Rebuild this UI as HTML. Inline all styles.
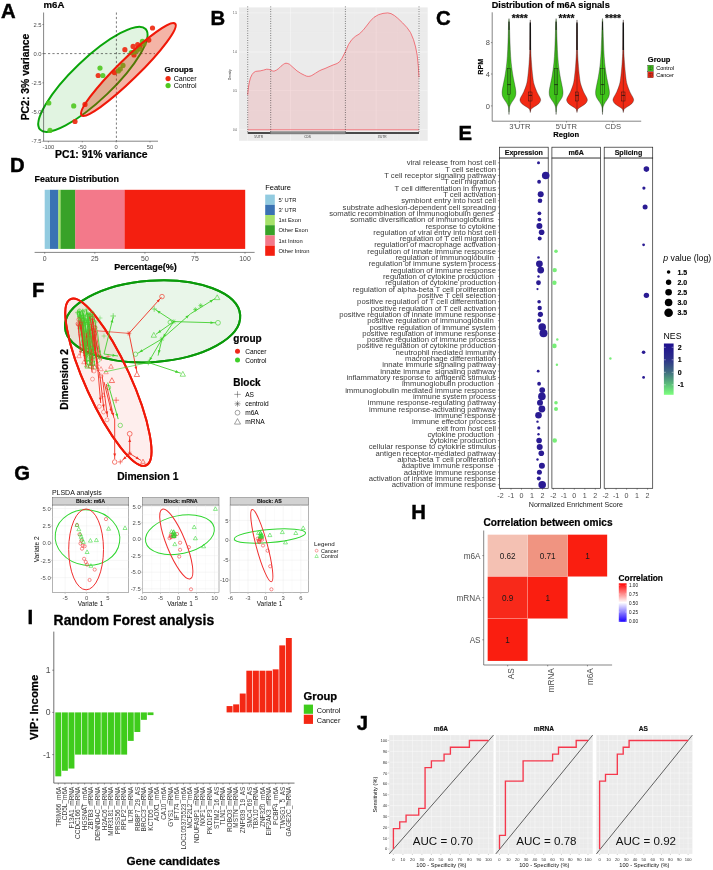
<!DOCTYPE html>
<html><head><meta charset="utf-8"><title>figure</title>
<style>html,body{margin:0;padding:0;background:#fff;}svg{display:block;font-family:"Liberation Sans", sans-serif;}text{font-family:"Liberation Sans", sans-serif;}</style>
</head><body>
<svg width="713" height="870" viewBox="0 0 713 870">
<defs><filter id="idf" x="0" y="0" width="713" height="870" filterUnits="userSpaceOnUse" color-interpolation-filters="sRGB"><feOffset dx="0" dy="0"/></filter></defs>
<rect width="713" height="870" fill="#fff"/>
<g filter="url(#idf)">
<text x="1.00" y="17.80" font-size="20.3" font-weight="bold" stroke="#000" stroke-width="0.45" fill="#000" text-anchor="start">A</text>
<text x="43.60" y="8.00" font-size="9.6" font-weight="bold" stroke="#000" stroke-width="0.21" fill="#000" text-anchor="start">m6A</text>
<ellipse cx="92.90" cy="79.30" rx="72.90" ry="20.50" transform="rotate(-43.7 92.90 79.30)" fill="#0aa50a" stroke="#0aa50a" stroke-width="2.0" fill-opacity="0.12"/>
<line x1="116.40" y1="12.50" x2="116.40" y2="141.20" stroke="#222" stroke-width="0.6" stroke-dasharray="2.2 2.2"/>
<line x1="43.60" y1="53.60" x2="155.00" y2="53.60" stroke="#222" stroke-width="0.6" stroke-dasharray="2.2 2.2"/>
<line x1="43.60" y1="12.50" x2="43.60" y2="141.20" stroke="#333" stroke-width="0.6"/>
<line x1="43.60" y1="141.20" x2="158.00" y2="141.20" stroke="#333" stroke-width="0.6"/>
<text x="41.50" y="26.58" font-size="5.8" fill="#4d4d4d" text-anchor="end">2.5</text>
<line x1="42.40" y1="24.50" x2="43.60" y2="24.50" stroke="#333" stroke-width="0.5"/>
<text x="41.50" y="55.68" font-size="5.8" fill="#4d4d4d" text-anchor="end">0.0</text>
<line x1="42.40" y1="53.60" x2="43.60" y2="53.60" stroke="#333" stroke-width="0.5"/>
<text x="41.50" y="84.88" font-size="5.8" fill="#4d4d4d" text-anchor="end">-2.5</text>
<line x1="42.40" y1="82.80" x2="43.60" y2="82.80" stroke="#333" stroke-width="0.5"/>
<text x="41.50" y="114.38" font-size="5.8" fill="#4d4d4d" text-anchor="end">-5.0</text>
<line x1="42.40" y1="112.30" x2="43.60" y2="112.30" stroke="#333" stroke-width="0.5"/>
<text x="41.50" y="143.48" font-size="5.8" fill="#4d4d4d" text-anchor="end">-7.5</text>
<line x1="42.40" y1="141.40" x2="43.60" y2="141.40" stroke="#333" stroke-width="0.5"/>
<text x="48.40" y="148.58" font-size="5.8" fill="#4d4d4d" text-anchor="middle">-100</text>
<line x1="48.40" y1="141.20" x2="48.40" y2="142.40" stroke="#333" stroke-width="0.5"/>
<text x="82.30" y="148.58" font-size="5.8" fill="#4d4d4d" text-anchor="middle">-50</text>
<line x1="82.30" y1="141.20" x2="82.30" y2="142.40" stroke="#333" stroke-width="0.5"/>
<text x="116.20" y="148.58" font-size="5.8" fill="#4d4d4d" text-anchor="middle">0</text>
<line x1="116.20" y1="141.20" x2="116.20" y2="142.40" stroke="#333" stroke-width="0.5"/>
<text x="150.00" y="148.58" font-size="5.8" fill="#4d4d4d" text-anchor="middle">50</text>
<line x1="150.00" y1="141.20" x2="150.00" y2="142.40" stroke="#333" stroke-width="0.5"/>
<circle cx="152.50" cy="28.00" r="2.60" fill="#ee2a12" stroke="none" stroke-width="0.5" fill-opacity="0.92"/>
<circle cx="148.80" cy="40.10" r="2.60" fill="#ee2a12" stroke="none" stroke-width="0.5" fill-opacity="0.92"/>
<circle cx="137.70" cy="44.70" r="2.60" fill="#ee2a12" stroke="none" stroke-width="0.5" fill-opacity="0.92"/>
<circle cx="133.10" cy="46.40" r="2.60" fill="#ee2a12" stroke="none" stroke-width="0.5" fill-opacity="0.92"/>
<circle cx="124.90" cy="49.70" r="2.60" fill="#ee2a12" stroke="none" stroke-width="0.5" fill-opacity="0.92"/>
<circle cx="134.00" cy="54.90" r="2.60" fill="#ee2a12" stroke="none" stroke-width="0.5" fill-opacity="0.92"/>
<circle cx="114.40" cy="72.60" r="2.60" fill="#ee2a12" stroke="none" stroke-width="0.5" fill-opacity="0.92"/>
<circle cx="98.20" cy="75.50" r="2.60" fill="#ee2a12" stroke="none" stroke-width="0.5" fill-opacity="0.92"/>
<circle cx="85.00" cy="104.40" r="2.60" fill="#ee2a12" stroke="none" stroke-width="0.5" fill-opacity="0.92"/>
<circle cx="75.00" cy="121.50" r="2.60" fill="#ee2a12" stroke="none" stroke-width="0.5" fill-opacity="0.92"/>
<circle cx="140.00" cy="46.50" r="2.60" fill="#ee2a12" stroke="none" stroke-width="0.5" fill-opacity="0.92"/>
<circle cx="142.40" cy="41.40" r="2.60" fill="#4fc820" stroke="none" stroke-width="0.5" fill-opacity="0.9"/>
<circle cx="144.00" cy="44.00" r="2.60" fill="#4fc820" stroke="none" stroke-width="0.5" fill-opacity="0.9"/>
<circle cx="139.60" cy="48.80" r="2.60" fill="#4fc820" stroke="none" stroke-width="0.5" fill-opacity="0.9"/>
<circle cx="136.80" cy="50.60" r="2.60" fill="#4fc820" stroke="none" stroke-width="0.5" fill-opacity="0.9"/>
<circle cx="131.30" cy="52.50" r="2.60" fill="#4fc820" stroke="none" stroke-width="0.5" fill-opacity="0.9"/>
<circle cx="123.00" cy="65.40" r="2.60" fill="#4fc820" stroke="none" stroke-width="0.5" fill-opacity="0.9"/>
<circle cx="120.30" cy="69.00" r="2.60" fill="#4fc820" stroke="none" stroke-width="0.5" fill-opacity="0.9"/>
<circle cx="118.40" cy="70.90" r="2.60" fill="#4fc820" stroke="none" stroke-width="0.5" fill-opacity="0.9"/>
<circle cx="100.00" cy="68.10" r="2.60" fill="#4fc820" stroke="none" stroke-width="0.5" fill-opacity="0.9"/>
<circle cx="102.80" cy="75.50" r="2.60" fill="#4fc820" stroke="none" stroke-width="0.5" fill-opacity="0.9"/>
<circle cx="48.80" cy="103.00" r="2.60" fill="#4fc820" stroke="none" stroke-width="0.5" fill-opacity="0.9"/>
<circle cx="73.70" cy="105.90" r="2.60" fill="#4fc820" stroke="none" stroke-width="0.5" fill-opacity="0.9"/>
<circle cx="50.00" cy="130.40" r="2.60" fill="#4fc820" stroke="none" stroke-width="0.5" fill-opacity="0.9"/>
<circle cx="134.50" cy="52.00" r="2.60" fill="#4fc820" stroke="none" stroke-width="0.5" fill-opacity="0.9"/>
<ellipse cx="128.40" cy="69.50" rx="65.50" ry="10.30" transform="rotate(-44.4 128.40 69.50)" fill="#e02800" stroke="none" stroke-width="0" fill-opacity="0.35"/>
<ellipse cx="128.40" cy="69.50" rx="65.50" ry="10.30" transform="rotate(-44.4 128.40 69.50)" fill="none" stroke="#f01808" stroke-width="2.1"/>
<g transform="translate(24.80 77.00) rotate(-90)">
<text x="0.00" y="3.72" font-size="10.4" font-weight="bold" stroke="#000" stroke-width="0.23" fill="#000" text-anchor="middle">PC2: 3% variance</text>
</g>
<text x="101.30" y="158.32" font-size="10.4" font-weight="bold" stroke="#000" stroke-width="0.23" fill="#000" text-anchor="middle">PC1: 91% variance</text>
<text x="164.50" y="71.90" font-size="8.1" font-weight="bold" stroke="#000" stroke-width="0.18" fill="#000" text-anchor="start">Groups</text>
<circle cx="168.10" cy="78.60" r="2.60" fill="#ee2a12" stroke="none" stroke-width="0.5"/>
<circle cx="168.10" cy="85.60" r="2.60" fill="#4fc820" stroke="none" stroke-width="0.5"/>
<text x="173.70" y="81.24" font-size="7.1" fill="#000" text-anchor="start">Cancer</text>
<text x="173.70" y="88.24" font-size="7.1" fill="#000" text-anchor="start">Control</text>
<text x="210.50" y="25.40" font-size="20.3" font-weight="bold" stroke="#000" stroke-width="0.45" fill="#000" text-anchor="start">B</text>
<rect x="239.00" y="7.40" width="188.70" height="133.40" fill="#ebebeb" stroke="none" stroke-width="0.5"/>
<line x1="239.00" y1="12.90" x2="427.70" y2="12.90" stroke="#f8f8f8" stroke-width="0.5"/>
<line x1="239.00" y1="52.00" x2="427.70" y2="52.00" stroke="#f8f8f8" stroke-width="0.5"/>
<line x1="239.00" y1="90.70" x2="427.70" y2="90.70" stroke="#f8f8f8" stroke-width="0.5"/>
<line x1="239.00" y1="129.60" x2="427.70" y2="129.60" stroke="#f8f8f8" stroke-width="0.5"/>
<line x1="239.00" y1="32.40" x2="427.70" y2="32.40" stroke="#f3f3f3" stroke-width="0.3"/>
<line x1="239.00" y1="71.30" x2="427.70" y2="71.30" stroke="#f3f3f3" stroke-width="0.3"/>
<line x1="239.00" y1="110.10" x2="427.70" y2="110.10" stroke="#f3f3f3" stroke-width="0.3"/>
<line x1="247.70" y1="7.40" x2="247.70" y2="140.80" stroke="#f8f8f8" stroke-width="0.5"/>
<line x1="290.52" y1="7.40" x2="290.52" y2="140.80" stroke="#f8f8f8" stroke-width="0.5"/>
<line x1="333.35" y1="7.40" x2="333.35" y2="140.80" stroke="#f8f8f8" stroke-width="0.5"/>
<line x1="376.18" y1="7.40" x2="376.18" y2="140.80" stroke="#f8f8f8" stroke-width="0.5"/>
<line x1="419.00" y1="7.40" x2="419.00" y2="140.80" stroke="#f8f8f8" stroke-width="0.5"/>
<line x1="269.11" y1="7.40" x2="269.11" y2="140.80" stroke="#f3f3f3" stroke-width="0.3"/>
<line x1="311.94" y1="7.40" x2="311.94" y2="140.80" stroke="#f3f3f3" stroke-width="0.3"/>
<line x1="354.76" y1="7.40" x2="354.76" y2="140.80" stroke="#f3f3f3" stroke-width="0.3"/>
<line x1="397.59" y1="7.40" x2="397.59" y2="140.80" stroke="#f3f3f3" stroke-width="0.3"/>
<path d="M247.7,94.8 L248.3,88.0 L249.2,82.9 L250.4,78.0 L252.0,74.6 L253.6,72.6 L255.6,71.4 L258.0,71.1 L260.2,70.9 L263.5,70.1 L266.7,69.2 L268.8,69.4 L270.7,70.0 L272.5,70.9 L274.0,71.2 L276.3,70.2 L278.7,68.5 L281.0,66.2 L283.3,64.4 L284.8,63.5 L286.0,63.2 L287.8,63.5 L289.7,64.4 L293.0,67.4 L297.0,70.9 L300.8,73.4 L304.4,75.2 L306.4,76.1 L308.1,76.4 L310.0,76.2 L311.8,75.5 L315.5,73.2 L319.2,70.9 L322.0,69.6 L325.0,68.5 L329.0,66.7 L333.0,65.0 L337.1,63.5 L339.5,61.8 L342.0,58.3 L345.4,51.6 L348.5,44.5 L351.8,39.6 L355.3,36.4 L359.2,34.0 L363.0,30.4 L366.5,26.0 L370.2,21.2 L374.0,17.3 L378.5,14.7 L383.0,13.4 L387.7,12.9 L391.0,13.6 L394.5,15.6 L397.9,18.4 L402.5,22.8 L407.0,27.6 L410.5,32.5 L413.5,39.6 L415.6,47.0 L417.2,55.2 L418.3,66.0 L419.0,77.3 L419,129.8 L247.7,129.8 Z" fill="#f0404a" fill-opacity="0.14" stroke="none"/>
<path d="M247.7,94.8 L248.3,88.0 L249.2,82.9 L250.4,78.0 L252.0,74.6 L253.6,72.6 L255.6,71.4 L258.0,71.1 L260.2,70.9 L263.5,70.1 L266.7,69.2 L268.8,69.4 L270.7,70.0 L272.5,70.9 L274.0,71.2 L276.3,70.2 L278.7,68.5 L281.0,66.2 L283.3,64.4 L284.8,63.5 L286.0,63.2 L287.8,63.5 L289.7,64.4 L293.0,67.4 L297.0,70.9 L300.8,73.4 L304.4,75.2 L306.4,76.1 L308.1,76.4 L310.0,76.2 L311.8,75.5 L315.5,73.2 L319.2,70.9 L322.0,69.6 L325.0,68.5 L329.0,66.7 L333.0,65.0 L337.1,63.5 L339.5,61.8 L342.0,58.3 L345.4,51.6 L348.5,44.5 L351.8,39.6 L355.3,36.4 L359.2,34.0 L363.0,30.4 L366.5,26.0 L370.2,21.2 L374.0,17.3 L378.5,14.7 L383.0,13.4 L387.7,12.9 L391.0,13.6 L394.5,15.6 L397.9,18.4 L402.5,22.8 L407.0,27.6 L410.5,32.5 L413.5,39.6 L415.6,47.0 L417.2,55.2 L418.3,66.0 L419.0,77.3" fill="none" stroke="#f0505a" stroke-width="0.75" stroke-linejoin="round"/>
<line x1="247.70" y1="129.80" x2="419.00" y2="129.80" stroke="#f0505a" stroke-width="0.75"/>
<line x1="247.70" y1="6.50" x2="247.70" y2="133.00" stroke="#222" stroke-width="0.7" stroke-dasharray="0.8 1.6"/>
<line x1="270.70" y1="6.50" x2="270.70" y2="133.00" stroke="#222" stroke-width="0.7" stroke-dasharray="0.8 1.6"/>
<line x1="345.40" y1="6.50" x2="345.40" y2="133.00" stroke="#222" stroke-width="0.7" stroke-dasharray="0.8 1.6"/>
<line x1="419.00" y1="6.50" x2="419.00" y2="133.00" stroke="#222" stroke-width="0.7" stroke-dasharray="0.8 1.6"/>
<rect x="247.70" y="132.20" width="23.00" height="1.60" fill="#222" stroke="none" stroke-width="0.5"/>
<rect x="270.70" y="131.60" width="74.70" height="2.40" fill="#8a8a8a" stroke="#555" stroke-width="0.3"/>
<rect x="345.40" y="132.20" width="73.60" height="1.60" fill="#222" stroke="none" stroke-width="0.5"/>
<text x="258.60" y="138.15" font-size="3.2" fill="#333" text-anchor="middle">5'UTR</text>
<text x="307.50" y="138.15" font-size="3.2" fill="#333" text-anchor="middle">CDS</text>
<text x="382.20" y="138.15" font-size="3.2" fill="#333" text-anchor="middle">3'UTR</text>
<text x="237.00" y="13.90" font-size="2.8" fill="#444" text-anchor="end">1.5</text>
<text x="237.00" y="53.00" font-size="2.8" fill="#444" text-anchor="end">1.0</text>
<text x="237.00" y="91.70" font-size="2.8" fill="#444" text-anchor="end">0.5</text>
<text x="237.00" y="130.60" font-size="2.8" fill="#444" text-anchor="end">0.0</text>
<g transform="translate(230.00 74.60) rotate(-90)">
<text x="0.00" y="1.15" font-size="3.2" fill="#222" text-anchor="middle">Density</text>
</g>
<text x="436.00" y="25.10" font-size="20.3" font-weight="bold" stroke="#000" stroke-width="0.45" fill="#000" text-anchor="start">C</text>
<text x="491.80" y="7.90" font-size="9.1" font-weight="bold" stroke="#000" stroke-width="0.20" fill="#000" text-anchor="start">Distribution of m6A signals</text>
<line x1="492.20" y1="12.30" x2="492.20" y2="121.20" stroke="#333" stroke-width="0.6"/>
<line x1="492.20" y1="121.20" x2="641.20" y2="121.20" stroke="#333" stroke-width="0.6"/>
<text x="489.80" y="45.29" font-size="7.5" fill="#4d4d4d" text-anchor="end">8</text>
<line x1="490.90" y1="42.60" x2="492.20" y2="42.60" stroke="#333" stroke-width="0.5"/>
<text x="489.80" y="76.69" font-size="7.5" fill="#4d4d4d" text-anchor="end">4</text>
<line x1="490.90" y1="74.00" x2="492.20" y2="74.00" stroke="#333" stroke-width="0.5"/>
<text x="489.80" y="108.59" font-size="7.5" fill="#4d4d4d" text-anchor="end">0</text>
<line x1="490.90" y1="105.90" x2="492.20" y2="105.90" stroke="#333" stroke-width="0.5"/>
<g transform="translate(480.50 66.70) rotate(-90)">
<text x="0.00" y="2.58" font-size="7.2" font-weight="bold" stroke="#000" stroke-width="0.16" fill="#000" text-anchor="middle">RPM</text>
</g>
<path d="M509.00,18.60 C508.93,19.37 508.73,20.22 508.60,23.20 C508.47,26.18 508.35,32.08 508.20,36.50 C508.05,40.92 507.93,45.30 507.70,49.70 C507.47,54.10 507.25,58.50 506.80,62.90 C506.35,67.30 505.57,72.57 505.00,76.10 C504.43,79.63 503.88,81.45 503.40,84.10 C502.92,86.75 502.17,89.80 502.10,92.00 C502.03,94.20 502.28,95.53 503.00,97.30 C503.72,99.07 505.52,101.05 506.40,102.60 C507.28,104.15 507.91,105.37 508.30,106.60 C508.69,107.83 508.63,108.68 508.75,110.00 C508.87,111.32 508.96,113.75 509.00,114.50 L509.00,114.50 C509.04,113.75 509.13,111.32 509.25,110.00 C509.37,108.68 509.31,107.83 509.70,106.60 C510.09,105.37 510.72,104.15 511.60,102.60 C512.48,101.05 514.28,99.07 515.00,97.30 C515.72,95.53 515.97,94.20 515.90,92.00 C515.83,89.80 515.08,86.75 514.60,84.10 C514.12,81.45 513.57,79.63 513.00,76.10 C512.43,72.57 511.65,67.30 511.20,62.90 C510.75,58.50 510.53,54.10 510.30,49.70 C510.07,45.30 509.95,40.92 509.80,36.50 C509.65,32.08 509.53,26.18 509.40,23.20 C509.27,20.22 509.07,19.37 509.00,18.60 Z" fill="#3fc41a" stroke="#1a1a1a" stroke-width="0.35" stroke-linejoin="round"/>
<path d="M530.30,19.90 C530.25,21.58 530.08,25.03 530.00,30.00 C529.92,34.97 529.95,44.22 529.80,49.70 C529.65,55.18 529.42,58.50 529.10,62.90 C528.78,67.30 528.32,72.57 527.90,76.10 C527.48,79.63 527.30,81.45 526.60,84.10 C525.90,86.75 524.67,89.80 523.70,92.00 C522.73,94.20 521.42,95.87 520.80,97.30 C520.18,98.73 519.78,99.50 520.00,100.60 C520.22,101.70 520.93,102.80 522.10,103.90 C523.27,105.00 525.77,106.32 527.00,107.20 C528.23,108.08 528.95,108.32 529.50,109.20 C530.05,110.08 530.17,111.95 530.30,112.50 L530.30,112.50 C530.43,111.95 530.55,110.08 531.10,109.20 C531.65,108.32 532.37,108.08 533.60,107.20 C534.83,106.32 537.33,105.00 538.50,103.90 C539.67,102.80 540.38,101.70 540.60,100.60 C540.82,99.50 540.42,98.73 539.80,97.30 C539.18,95.87 537.87,94.20 536.90,92.00 C535.93,89.80 534.70,86.75 534.00,84.10 C533.30,81.45 533.12,79.63 532.70,76.10 C532.28,72.57 531.82,67.30 531.50,62.90 C531.18,58.50 530.95,55.18 530.80,49.70 C530.65,44.22 530.68,34.97 530.60,30.00 C530.52,25.03 530.35,21.58 530.30,19.90 Z" fill="#f22a14" stroke="#1a1a1a" stroke-width="0.35" stroke-linejoin="round"/>
<line x1="509.00" y1="22.00" x2="509.00" y2="112.00" stroke="#111" stroke-width="0.35"/>
<line x1="530.30" y1="24.00" x2="530.30" y2="111.00" stroke="#111" stroke-width="0.35"/>
<line x1="509.00" y1="21.50" x2="509.00" y2="30.00" stroke="#111" stroke-width="0.8"/>
<line x1="530.30" y1="22.50" x2="530.30" y2="50.00" stroke="#111" stroke-width="1.3"/>
<rect x="507.30" y="68.40" width="3.40" height="26.00" fill="none" stroke="#111" stroke-width="0.4"/>
<line x1="507.30" y1="84.60" x2="510.70" y2="84.60" stroke="#111" stroke-width="0.7"/>
<rect x="528.60" y="92.00" width="3.40" height="9.00" fill="none" stroke="#111" stroke-width="0.4"/>
<line x1="528.60" y1="95.40" x2="532.00" y2="95.40" stroke="#111" stroke-width="0.7"/>
<text x="519.65" y="22.20" font-size="10.3" font-weight="bold" stroke="#111" stroke-width="0.23" fill="#111" text-anchor="middle">****</text>
<text x="519.80" y="129.12" font-size="7.6" fill="#4d4d4d" text-anchor="middle">3'UTR</text>
<line x1="519.65" y1="121.20" x2="519.65" y2="122.60" stroke="#333" stroke-width="0.5"/>
<path d="M556.10,18.60 C556.03,19.37 555.83,20.22 555.70,23.20 C555.57,26.18 555.45,32.08 555.30,36.50 C555.15,40.92 555.03,45.30 554.80,49.70 C554.57,54.10 554.35,58.50 553.90,62.90 C553.45,67.30 552.67,72.57 552.10,76.10 C551.53,79.63 550.98,81.45 550.50,84.10 C550.02,86.75 549.27,89.80 549.20,92.00 C549.13,94.20 549.38,95.53 550.10,97.30 C550.82,99.07 552.62,101.05 553.50,102.60 C554.38,104.15 555.01,105.37 555.40,106.60 C555.79,107.83 555.73,108.68 555.85,110.00 C555.97,111.32 556.06,113.75 556.10,114.50 L556.10,114.50 C556.14,113.75 556.23,111.32 556.35,110.00 C556.47,108.68 556.41,107.83 556.80,106.60 C557.19,105.37 557.82,104.15 558.70,102.60 C559.58,101.05 561.38,99.07 562.10,97.30 C562.82,95.53 563.07,94.20 563.00,92.00 C562.93,89.80 562.18,86.75 561.70,84.10 C561.22,81.45 560.67,79.63 560.10,76.10 C559.53,72.57 558.75,67.30 558.30,62.90 C557.85,58.50 557.63,54.10 557.40,49.70 C557.17,45.30 557.05,40.92 556.90,36.50 C556.75,32.08 556.63,26.18 556.50,23.20 C556.37,20.22 556.17,19.37 556.10,18.60 Z" fill="#3fc41a" stroke="#1a1a1a" stroke-width="0.35" stroke-linejoin="round"/>
<path d="M577.00,19.90 C576.95,21.58 576.78,25.03 576.70,30.00 C576.62,34.97 576.65,44.22 576.50,49.70 C576.35,55.18 576.12,58.50 575.80,62.90 C575.48,67.30 575.02,72.57 574.60,76.10 C574.18,79.63 574.00,81.45 573.30,84.10 C572.60,86.75 571.37,89.80 570.40,92.00 C569.43,94.20 568.12,95.87 567.50,97.30 C566.88,98.73 566.48,99.50 566.70,100.60 C566.92,101.70 567.63,102.80 568.80,103.90 C569.97,105.00 572.47,106.32 573.70,107.20 C574.93,108.08 575.65,108.32 576.20,109.20 C576.75,110.08 576.87,111.95 577.00,112.50 L577.00,112.50 C577.13,111.95 577.25,110.08 577.80,109.20 C578.35,108.32 579.07,108.08 580.30,107.20 C581.53,106.32 584.03,105.00 585.20,103.90 C586.37,102.80 587.08,101.70 587.30,100.60 C587.52,99.50 587.12,98.73 586.50,97.30 C585.88,95.87 584.57,94.20 583.60,92.00 C582.63,89.80 581.40,86.75 580.70,84.10 C580.00,81.45 579.82,79.63 579.40,76.10 C578.98,72.57 578.52,67.30 578.20,62.90 C577.88,58.50 577.65,55.18 577.50,49.70 C577.35,44.22 577.38,34.97 577.30,30.00 C577.22,25.03 577.05,21.58 577.00,19.90 Z" fill="#f22a14" stroke="#1a1a1a" stroke-width="0.35" stroke-linejoin="round"/>
<line x1="556.10" y1="22.00" x2="556.10" y2="112.00" stroke="#111" stroke-width="0.35"/>
<line x1="577.00" y1="24.00" x2="577.00" y2="111.00" stroke="#111" stroke-width="0.35"/>
<line x1="556.10" y1="21.50" x2="556.10" y2="30.00" stroke="#111" stroke-width="0.8"/>
<line x1="577.00" y1="22.50" x2="577.00" y2="50.00" stroke="#111" stroke-width="1.3"/>
<rect x="554.40" y="68.40" width="3.40" height="26.00" fill="none" stroke="#111" stroke-width="0.4"/>
<line x1="554.40" y1="84.60" x2="557.80" y2="84.60" stroke="#111" stroke-width="0.7"/>
<rect x="575.30" y="92.00" width="3.40" height="9.00" fill="none" stroke="#111" stroke-width="0.4"/>
<line x1="575.30" y1="95.40" x2="578.70" y2="95.40" stroke="#111" stroke-width="0.7"/>
<text x="566.55" y="22.20" font-size="10.3" font-weight="bold" stroke="#111" stroke-width="0.23" fill="#111" text-anchor="middle">****</text>
<text x="566.30" y="129.12" font-size="7.6" fill="#4d4d4d" text-anchor="middle">5'UTR</text>
<line x1="566.55" y1="121.20" x2="566.55" y2="122.60" stroke="#333" stroke-width="0.5"/>
<path d="M602.50,18.60 C602.43,19.37 602.23,20.22 602.10,23.20 C601.97,26.18 601.85,32.08 601.70,36.50 C601.55,40.92 601.43,45.30 601.20,49.70 C600.97,54.10 600.75,58.50 600.30,62.90 C599.85,67.30 599.07,72.57 598.50,76.10 C597.93,79.63 597.38,81.45 596.90,84.10 C596.42,86.75 595.67,89.80 595.60,92.00 C595.53,94.20 595.78,95.53 596.50,97.30 C597.22,99.07 599.02,101.05 599.90,102.60 C600.78,104.15 601.41,105.37 601.80,106.60 C602.19,107.83 602.13,108.68 602.25,110.00 C602.37,111.32 602.46,113.75 602.50,114.50 L602.50,114.50 C602.54,113.75 602.63,111.32 602.75,110.00 C602.87,108.68 602.81,107.83 603.20,106.60 C603.59,105.37 604.22,104.15 605.10,102.60 C605.98,101.05 607.78,99.07 608.50,97.30 C609.22,95.53 609.47,94.20 609.40,92.00 C609.33,89.80 608.58,86.75 608.10,84.10 C607.62,81.45 607.07,79.63 606.50,76.10 C605.93,72.57 605.15,67.30 604.70,62.90 C604.25,58.50 604.03,54.10 603.80,49.70 C603.57,45.30 603.45,40.92 603.30,36.50 C603.15,32.08 603.03,26.18 602.90,23.20 C602.77,20.22 602.57,19.37 602.50,18.60 Z" fill="#3fc41a" stroke="#1a1a1a" stroke-width="0.35" stroke-linejoin="round"/>
<path d="M623.30,19.90 C623.25,21.58 623.08,25.03 623.00,30.00 C622.92,34.97 622.95,44.22 622.80,49.70 C622.65,55.18 622.42,58.50 622.10,62.90 C621.78,67.30 621.32,72.57 620.90,76.10 C620.48,79.63 620.30,81.45 619.60,84.10 C618.90,86.75 617.67,89.80 616.70,92.00 C615.73,94.20 614.42,95.87 613.80,97.30 C613.18,98.73 612.78,99.50 613.00,100.60 C613.22,101.70 613.93,102.80 615.10,103.90 C616.27,105.00 618.77,106.32 620.00,107.20 C621.23,108.08 621.95,108.32 622.50,109.20 C623.05,110.08 623.17,111.95 623.30,112.50 L623.30,112.50 C623.43,111.95 623.55,110.08 624.10,109.20 C624.65,108.32 625.37,108.08 626.60,107.20 C627.83,106.32 630.33,105.00 631.50,103.90 C632.67,102.80 633.38,101.70 633.60,100.60 C633.82,99.50 633.42,98.73 632.80,97.30 C632.18,95.87 630.87,94.20 629.90,92.00 C628.93,89.80 627.70,86.75 627.00,84.10 C626.30,81.45 626.12,79.63 625.70,76.10 C625.28,72.57 624.82,67.30 624.50,62.90 C624.18,58.50 623.95,55.18 623.80,49.70 C623.65,44.22 623.68,34.97 623.60,30.00 C623.52,25.03 623.35,21.58 623.30,19.90 Z" fill="#f22a14" stroke="#1a1a1a" stroke-width="0.35" stroke-linejoin="round"/>
<line x1="602.50" y1="22.00" x2="602.50" y2="112.00" stroke="#111" stroke-width="0.35"/>
<line x1="623.30" y1="24.00" x2="623.30" y2="111.00" stroke="#111" stroke-width="0.35"/>
<line x1="602.50" y1="21.50" x2="602.50" y2="30.00" stroke="#111" stroke-width="0.8"/>
<line x1="623.30" y1="22.50" x2="623.30" y2="50.00" stroke="#111" stroke-width="1.3"/>
<rect x="600.80" y="68.40" width="3.40" height="26.00" fill="none" stroke="#111" stroke-width="0.4"/>
<line x1="600.80" y1="84.60" x2="604.20" y2="84.60" stroke="#111" stroke-width="0.7"/>
<rect x="621.60" y="92.00" width="3.40" height="9.00" fill="none" stroke="#111" stroke-width="0.4"/>
<line x1="621.60" y1="95.40" x2="625.00" y2="95.40" stroke="#111" stroke-width="0.7"/>
<text x="612.90" y="22.20" font-size="10.3" font-weight="bold" stroke="#111" stroke-width="0.23" fill="#111" text-anchor="middle">****</text>
<text x="613.00" y="129.12" font-size="7.6" fill="#4d4d4d" text-anchor="middle">CDS</text>
<line x1="612.90" y1="121.20" x2="612.90" y2="122.60" stroke="#333" stroke-width="0.5"/>
<text x="566.20" y="137.32" font-size="7.6" font-weight="bold" stroke="#000" stroke-width="0.17" fill="#000" text-anchor="middle">Region</text>
<text x="647.80" y="61.90" font-size="7.5" font-weight="bold" stroke="#000" stroke-width="0.16" fill="#000" text-anchor="start">Group</text>
<rect x="647.80" y="65.20" width="5.60" height="6.00" fill="#3fc41a" stroke="#222" stroke-width="0.3"/>
<rect x="647.80" y="71.80" width="5.60" height="6.00" fill="#f22a14" stroke="#222" stroke-width="0.3"/>
<line x1="650.60" y1="66.00" x2="650.60" y2="70.40" stroke="#222" stroke-width="0.3"/>
<rect x="649.00" y="67.00" width="3.20" height="2.40" fill="none" stroke="#222" stroke-width="0.3"/>
<line x1="650.60" y1="72.60" x2="650.60" y2="77.00" stroke="#222" stroke-width="0.3"/>
<rect x="649.00" y="73.60" width="3.20" height="2.40" fill="none" stroke="#222" stroke-width="0.3"/>
<text x="656.20" y="70.27" font-size="5.5" fill="#000" text-anchor="start">Control</text>
<text x="656.20" y="76.87" font-size="5.5" fill="#000" text-anchor="start">Cancer</text>
<text x="10.00" y="172.10" font-size="20.3" font-weight="bold" stroke="#000" stroke-width="0.45" fill="#000" text-anchor="start">D</text>
<text x="34.60" y="182.30" font-size="8.9" font-weight="bold" stroke="#000" stroke-width="0.20" fill="#000" text-anchor="start">Feature Distribution</text>
<rect x="44.70" y="189.80" width="5.50" height="59.10" fill="#92cbe0" stroke="none" stroke-width="0.5"/>
<rect x="50.00" y="189.80" width="8.50" height="59.10" fill="#3a72b3" stroke="none" stroke-width="0.5"/>
<rect x="58.30" y="189.80" width="2.50" height="59.10" fill="#a6e26a" stroke="none" stroke-width="0.5"/>
<rect x="60.60" y="189.80" width="14.80" height="59.10" fill="#38a228" stroke="none" stroke-width="0.5"/>
<rect x="75.20" y="189.80" width="49.70" height="59.10" fill="#f3798a" stroke="none" stroke-width="0.5"/>
<rect x="124.70" y="189.80" width="120.50" height="59.10" fill="#f41f10" stroke="none" stroke-width="0.5"/>
<line x1="34.60" y1="252.40" x2="254.60" y2="252.40" stroke="#333" stroke-width="0.6"/>
<text x="44.70" y="261.07" font-size="6.9" fill="#4d4d4d" text-anchor="middle">0</text>
<line x1="44.70" y1="252.40" x2="44.70" y2="253.80" stroke="#333" stroke-width="0.5"/>
<text x="94.80" y="261.07" font-size="6.9" fill="#4d4d4d" text-anchor="middle">25</text>
<line x1="94.80" y1="252.40" x2="94.80" y2="253.80" stroke="#333" stroke-width="0.5"/>
<text x="144.90" y="261.07" font-size="6.9" fill="#4d4d4d" text-anchor="middle">50</text>
<line x1="144.90" y1="252.40" x2="144.90" y2="253.80" stroke="#333" stroke-width="0.5"/>
<text x="194.90" y="261.07" font-size="6.9" fill="#4d4d4d" text-anchor="middle">75</text>
<line x1="194.90" y1="252.40" x2="194.90" y2="253.80" stroke="#333" stroke-width="0.5"/>
<text x="245.00" y="261.07" font-size="6.9" fill="#4d4d4d" text-anchor="middle">100</text>
<line x1="245.00" y1="252.40" x2="245.00" y2="253.80" stroke="#333" stroke-width="0.5"/>
<text x="145.40" y="269.82" font-size="9" font-weight="bold" stroke="#000" stroke-width="0.20" fill="#000" text-anchor="middle">Percentage(%)</text>
<text x="265.20" y="189.90" font-size="7.5" fill="#000" text-anchor="start">Feature</text>
<rect x="265.20" y="194.60" width="9.60" height="10.20" fill="#92cbe0" stroke="none" stroke-width="0.5"/>
<text x="278.60" y="201.78" font-size="5.8" fill="#111" text-anchor="start">5' UTR</text>
<rect x="265.20" y="204.80" width="9.60" height="10.20" fill="#3a72b3" stroke="none" stroke-width="0.5"/>
<text x="278.60" y="211.98" font-size="5.8" fill="#111" text-anchor="start">3' UTR</text>
<rect x="265.20" y="215.00" width="9.60" height="10.20" fill="#a6e26a" stroke="none" stroke-width="0.5"/>
<text x="278.60" y="222.18" font-size="5.8" fill="#111" text-anchor="start">1st Exon</text>
<rect x="265.20" y="225.20" width="9.60" height="10.20" fill="#38a228" stroke="none" stroke-width="0.5"/>
<text x="278.60" y="232.38" font-size="5.8" fill="#111" text-anchor="start">Other Exon</text>
<rect x="265.20" y="235.40" width="9.60" height="10.20" fill="#f3798a" stroke="none" stroke-width="0.5"/>
<text x="278.60" y="242.58" font-size="5.8" fill="#111" text-anchor="start">1st Intron</text>
<rect x="265.20" y="245.60" width="9.60" height="10.20" fill="#f41f10" stroke="none" stroke-width="0.5"/>
<text x="278.60" y="252.78" font-size="5.8" fill="#111" text-anchor="start">Other Intron</text>
<text x="458.60" y="140.30" font-size="20.3" font-weight="bold" stroke="#000" stroke-width="0.45" fill="#000" text-anchor="start">E</text>
<defs><linearGradient id="nes" x1="0" y1="0" x2="0" y2="1"><stop offset="0" stop-color="#1e0f8f"/><stop offset="0.3" stop-color="#2c2f8a"/><stop offset="0.55" stop-color="#3f6a80"/><stop offset="0.8" stop-color="#5cc07a"/><stop offset="1" stop-color="#7dff7d"/></linearGradient><linearGradient id="cor" x1="0" y1="0" x2="0" y2="1"><stop offset="0" stop-color="#ff0000"/><stop offset="0.5" stop-color="#ffffff"/><stop offset="1" stop-color="#1a00ff"/></linearGradient></defs>
<rect x="499.40" y="147.20" width="48.80" height="10.90" fill="#fff" stroke="#222" stroke-width="0.7"/>
<text x="523.80" y="155.34" font-size="7.1" font-weight="bold" stroke="#111" stroke-width="0.16" fill="#111" text-anchor="middle">Expression</text>
<rect x="499.40" y="158.10" width="48.80" height="330.20" fill="#fff" stroke="#222" stroke-width="0.7"/>
<line x1="500.50" y1="488.30" x2="500.50" y2="489.70" stroke="#333" stroke-width="0.5"/>
<text x="500.50" y="497.74" font-size="7.1" fill="#4d4d4d" text-anchor="middle">-2</text>
<line x1="511.00" y1="488.30" x2="511.00" y2="489.70" stroke="#333" stroke-width="0.5"/>
<text x="511.00" y="497.74" font-size="7.1" fill="#4d4d4d" text-anchor="middle">-1</text>
<line x1="521.50" y1="488.30" x2="521.50" y2="489.70" stroke="#333" stroke-width="0.5"/>
<text x="521.50" y="497.74" font-size="7.1" fill="#4d4d4d" text-anchor="middle">0</text>
<line x1="532.00" y1="488.30" x2="532.00" y2="489.70" stroke="#333" stroke-width="0.5"/>
<text x="532.00" y="497.74" font-size="7.1" fill="#4d4d4d" text-anchor="middle">1</text>
<line x1="542.50" y1="488.30" x2="542.50" y2="489.70" stroke="#333" stroke-width="0.5"/>
<text x="542.50" y="497.74" font-size="7.1" fill="#4d4d4d" text-anchor="middle">2</text>
<rect x="551.90" y="147.20" width="48.50" height="10.90" fill="#fff" stroke="#222" stroke-width="0.7"/>
<text x="576.15" y="155.34" font-size="7.1" font-weight="bold" stroke="#111" stroke-width="0.16" fill="#111" text-anchor="middle">m6A</text>
<rect x="551.90" y="158.10" width="48.50" height="330.20" fill="#fff" stroke="#222" stroke-width="0.7"/>
<line x1="553.30" y1="488.30" x2="553.30" y2="489.70" stroke="#333" stroke-width="0.5"/>
<text x="553.30" y="497.74" font-size="7.1" fill="#4d4d4d" text-anchor="middle">-2</text>
<line x1="563.80" y1="488.30" x2="563.80" y2="489.70" stroke="#333" stroke-width="0.5"/>
<text x="563.80" y="497.74" font-size="7.1" fill="#4d4d4d" text-anchor="middle">-1</text>
<line x1="574.30" y1="488.30" x2="574.30" y2="489.70" stroke="#333" stroke-width="0.5"/>
<text x="574.30" y="497.74" font-size="7.1" fill="#4d4d4d" text-anchor="middle">0</text>
<line x1="584.80" y1="488.30" x2="584.80" y2="489.70" stroke="#333" stroke-width="0.5"/>
<text x="584.80" y="497.74" font-size="7.1" fill="#4d4d4d" text-anchor="middle">1</text>
<line x1="595.30" y1="488.30" x2="595.30" y2="489.70" stroke="#333" stroke-width="0.5"/>
<text x="595.30" y="497.74" font-size="7.1" fill="#4d4d4d" text-anchor="middle">2</text>
<rect x="604.20" y="147.20" width="48.50" height="10.90" fill="#fff" stroke="#222" stroke-width="0.7"/>
<text x="628.45" y="155.34" font-size="7.1" font-weight="bold" stroke="#111" stroke-width="0.16" fill="#111" text-anchor="middle">Splicing</text>
<rect x="604.20" y="158.10" width="48.50" height="330.20" fill="#fff" stroke="#222" stroke-width="0.7"/>
<line x1="605.60" y1="488.30" x2="605.60" y2="489.70" stroke="#333" stroke-width="0.5"/>
<text x="605.60" y="497.74" font-size="7.1" fill="#4d4d4d" text-anchor="middle">-2</text>
<line x1="616.10" y1="488.30" x2="616.10" y2="489.70" stroke="#333" stroke-width="0.5"/>
<text x="616.10" y="497.74" font-size="7.1" fill="#4d4d4d" text-anchor="middle">-1</text>
<line x1="626.60" y1="488.30" x2="626.60" y2="489.70" stroke="#333" stroke-width="0.5"/>
<text x="626.60" y="497.74" font-size="7.1" fill="#4d4d4d" text-anchor="middle">0</text>
<line x1="637.10" y1="488.30" x2="637.10" y2="489.70" stroke="#333" stroke-width="0.5"/>
<text x="637.10" y="497.74" font-size="7.1" fill="#4d4d4d" text-anchor="middle">1</text>
<line x1="647.60" y1="488.30" x2="647.60" y2="489.70" stroke="#333" stroke-width="0.5"/>
<text x="647.60" y="497.74" font-size="7.1" fill="#4d4d4d" text-anchor="middle">2</text>
<text x="496.00" y="165.40" font-size="7.7" fill="#3c3c3c" text-anchor="end" xml:space="preserve">viral release from host cell</text>
<line x1="497.90" y1="162.80" x2="499.40" y2="162.80" stroke="#333" stroke-width="0.5"/>
<text x="496.00" y="171.71" font-size="7.7" fill="#3c3c3c" text-anchor="end" xml:space="preserve">T cell selection</text>
<line x1="497.90" y1="169.11" x2="499.40" y2="169.11" stroke="#333" stroke-width="0.5"/>
<text x="496.00" y="178.03" font-size="7.7" fill="#3c3c3c" text-anchor="end" xml:space="preserve">T cell receptor signaling pathway</text>
<line x1="497.90" y1="175.43" x2="499.40" y2="175.43" stroke="#333" stroke-width="0.5"/>
<text x="496.00" y="184.34" font-size="7.7" fill="#3c3c3c" text-anchor="end" xml:space="preserve">T cell migration</text>
<line x1="497.90" y1="181.74" x2="499.40" y2="181.74" stroke="#333" stroke-width="0.5"/>
<text x="496.00" y="190.65" font-size="7.7" fill="#3c3c3c" text-anchor="end" xml:space="preserve">T cell differentiation in thymus</text>
<line x1="497.90" y1="188.05" x2="499.40" y2="188.05" stroke="#333" stroke-width="0.5"/>
<text x="496.00" y="196.97" font-size="7.7" fill="#3c3c3c" text-anchor="end" xml:space="preserve">T cell activation</text>
<line x1="497.90" y1="194.37" x2="499.40" y2="194.37" stroke="#333" stroke-width="0.5"/>
<text x="496.00" y="203.28" font-size="7.7" fill="#3c3c3c" text-anchor="end" xml:space="preserve">symbiont entry into host cell</text>
<line x1="497.90" y1="200.68" x2="499.40" y2="200.68" stroke="#333" stroke-width="0.5"/>
<text x="496.00" y="209.59" font-size="7.7" fill="#3c3c3c" text-anchor="end" xml:space="preserve">substrate adhesion-dependent cell spreading</text>
<line x1="497.90" y1="206.99" x2="499.40" y2="206.99" stroke="#333" stroke-width="0.5"/>
<text x="495.90" y="215.90" font-size="7.7" fill="#3c3c3c" text-anchor="end" xml:space="preserve">somatic recombination of immunoglobulin genes </text>
<line x1="497.90" y1="213.30" x2="499.40" y2="213.30" stroke="#333" stroke-width="0.5"/>
<text x="495.90" y="222.22" font-size="7.7" fill="#3c3c3c" text-anchor="end" xml:space="preserve">somatic diversification of immunoglobulins </text>
<line x1="497.90" y1="219.62" x2="499.40" y2="219.62" stroke="#333" stroke-width="0.5"/>
<text x="496.00" y="228.53" font-size="7.7" fill="#3c3c3c" text-anchor="end" xml:space="preserve">response to cytokine</text>
<line x1="497.90" y1="225.93" x2="499.40" y2="225.93" stroke="#333" stroke-width="0.5"/>
<text x="496.00" y="234.84" font-size="7.7" fill="#3c3c3c" text-anchor="end" xml:space="preserve">regulation of viral entry into host cell</text>
<line x1="497.90" y1="232.24" x2="499.40" y2="232.24" stroke="#333" stroke-width="0.5"/>
<text x="496.00" y="241.16" font-size="7.7" fill="#3c3c3c" text-anchor="end" xml:space="preserve">regulation of T cell migration</text>
<line x1="497.90" y1="238.56" x2="499.40" y2="238.56" stroke="#333" stroke-width="0.5"/>
<text x="496.00" y="247.47" font-size="7.7" fill="#3c3c3c" text-anchor="end" xml:space="preserve">regulation of macrophage activation</text>
<line x1="497.90" y1="244.87" x2="499.40" y2="244.87" stroke="#333" stroke-width="0.5"/>
<text x="496.00" y="253.78" font-size="7.7" fill="#3c3c3c" text-anchor="end" xml:space="preserve">regulation of innate immune response</text>
<line x1="497.90" y1="251.18" x2="499.40" y2="251.18" stroke="#333" stroke-width="0.5"/>
<text x="495.90" y="260.10" font-size="7.7" fill="#3c3c3c" text-anchor="end" xml:space="preserve">regulation of immunoglobulin </text>
<line x1="497.90" y1="257.50" x2="499.40" y2="257.50" stroke="#333" stroke-width="0.5"/>
<text x="496.00" y="266.41" font-size="7.7" fill="#3c3c3c" text-anchor="end" xml:space="preserve">regulation of immune system process</text>
<line x1="497.90" y1="263.81" x2="499.40" y2="263.81" stroke="#333" stroke-width="0.5"/>
<text x="496.00" y="272.72" font-size="7.7" fill="#3c3c3c" text-anchor="end" xml:space="preserve">regulation of immune response</text>
<line x1="497.90" y1="270.12" x2="499.40" y2="270.12" stroke="#333" stroke-width="0.5"/>
<text x="495.90" y="279.03" font-size="7.7" fill="#3c3c3c" text-anchor="end" xml:space="preserve">regulation of cytokine production </text>
<line x1="497.90" y1="276.43" x2="499.40" y2="276.43" stroke="#333" stroke-width="0.5"/>
<text x="496.00" y="285.35" font-size="7.7" fill="#3c3c3c" text-anchor="end" xml:space="preserve">regulation of cytokine production</text>
<line x1="497.90" y1="282.75" x2="499.40" y2="282.75" stroke="#333" stroke-width="0.5"/>
<text x="496.00" y="291.66" font-size="7.7" fill="#3c3c3c" text-anchor="end" xml:space="preserve">regulation of alpha-beta T cell proliferation</text>
<line x1="497.90" y1="289.06" x2="499.40" y2="289.06" stroke="#333" stroke-width="0.5"/>
<text x="496.00" y="297.97" font-size="7.7" fill="#3c3c3c" text-anchor="end" xml:space="preserve">positive T cell selection</text>
<line x1="497.90" y1="295.37" x2="499.40" y2="295.37" stroke="#333" stroke-width="0.5"/>
<text x="496.00" y="304.29" font-size="7.7" fill="#3c3c3c" text-anchor="end" xml:space="preserve">positive regulation of T cell differentiation</text>
<line x1="497.90" y1="301.69" x2="499.40" y2="301.69" stroke="#333" stroke-width="0.5"/>
<text x="496.00" y="310.60" font-size="7.7" fill="#3c3c3c" text-anchor="end" xml:space="preserve">positive regulation of T cell activation</text>
<line x1="497.90" y1="308.00" x2="499.40" y2="308.00" stroke="#333" stroke-width="0.5"/>
<text x="496.00" y="316.91" font-size="7.7" fill="#3c3c3c" text-anchor="end" xml:space="preserve">positive regulation of innate immune response</text>
<line x1="497.90" y1="314.31" x2="499.40" y2="314.31" stroke="#333" stroke-width="0.5"/>
<text x="495.90" y="323.23" font-size="7.7" fill="#3c3c3c" text-anchor="end" xml:space="preserve">positive regulation of immunoglobulin </text>
<line x1="497.90" y1="320.62" x2="499.40" y2="320.62" stroke="#333" stroke-width="0.5"/>
<text x="496.00" y="329.54" font-size="7.7" fill="#3c3c3c" text-anchor="end" xml:space="preserve">positive regulation of immune system</text>
<line x1="497.90" y1="326.94" x2="499.40" y2="326.94" stroke="#333" stroke-width="0.5"/>
<text x="496.00" y="335.85" font-size="7.7" fill="#3c3c3c" text-anchor="end" xml:space="preserve">positive regulation of immune response</text>
<line x1="497.90" y1="333.25" x2="499.40" y2="333.25" stroke="#333" stroke-width="0.5"/>
<text x="496.00" y="342.16" font-size="7.7" fill="#3c3c3c" text-anchor="end" xml:space="preserve">positive regulation of immune process</text>
<line x1="497.90" y1="339.56" x2="499.40" y2="339.56" stroke="#333" stroke-width="0.5"/>
<text x="496.00" y="348.48" font-size="7.7" fill="#3c3c3c" text-anchor="end" xml:space="preserve">positive regulation of cytokine production</text>
<line x1="497.90" y1="345.88" x2="499.40" y2="345.88" stroke="#333" stroke-width="0.5"/>
<text x="496.00" y="354.79" font-size="7.7" fill="#3c3c3c" text-anchor="end" xml:space="preserve">neutrophil mediated immunity</text>
<line x1="497.90" y1="352.19" x2="499.40" y2="352.19" stroke="#333" stroke-width="0.5"/>
<text x="496.00" y="361.10" font-size="7.7" fill="#3c3c3c" text-anchor="end" xml:space="preserve">macrophage differentiation</text>
<line x1="497.90" y1="358.50" x2="499.40" y2="358.50" stroke="#333" stroke-width="0.5"/>
<text x="496.00" y="367.42" font-size="7.7" fill="#3c3c3c" text-anchor="end" xml:space="preserve">innate immune signaling pathway</text>
<line x1="497.90" y1="364.82" x2="499.40" y2="364.82" stroke="#333" stroke-width="0.5"/>
<text x="496.00" y="373.73" font-size="7.7" fill="#3c3c3c" text-anchor="end" xml:space="preserve">innate immune&#160; signaling pathway</text>
<line x1="497.90" y1="371.13" x2="499.40" y2="371.13" stroke="#333" stroke-width="0.5"/>
<text x="496.00" y="380.04" font-size="7.7" fill="#3c3c3c" text-anchor="end" xml:space="preserve">inflammatory response to antigenic stimulus</text>
<line x1="497.90" y1="377.44" x2="499.40" y2="377.44" stroke="#333" stroke-width="0.5"/>
<text x="495.90" y="386.36" font-size="7.7" fill="#3c3c3c" text-anchor="end" xml:space="preserve">immunoglobulin production </text>
<line x1="497.90" y1="383.75" x2="499.40" y2="383.75" stroke="#333" stroke-width="0.5"/>
<text x="496.00" y="392.67" font-size="7.7" fill="#3c3c3c" text-anchor="end" xml:space="preserve">immunoglobulin mediated immune response</text>
<line x1="497.90" y1="390.07" x2="499.40" y2="390.07" stroke="#333" stroke-width="0.5"/>
<text x="496.00" y="398.98" font-size="7.7" fill="#3c3c3c" text-anchor="end" xml:space="preserve">immune system process</text>
<line x1="497.90" y1="396.38" x2="499.40" y2="396.38" stroke="#333" stroke-width="0.5"/>
<text x="496.00" y="405.29" font-size="7.7" fill="#3c3c3c" text-anchor="end" xml:space="preserve">immune response-regulating pathway</text>
<line x1="497.90" y1="402.69" x2="499.40" y2="402.69" stroke="#333" stroke-width="0.5"/>
<text x="496.00" y="411.61" font-size="7.7" fill="#3c3c3c" text-anchor="end" xml:space="preserve">immune response-activating pathway</text>
<line x1="497.90" y1="409.01" x2="499.40" y2="409.01" stroke="#333" stroke-width="0.5"/>
<text x="496.00" y="417.92" font-size="7.7" fill="#3c3c3c" text-anchor="end" xml:space="preserve">immune response</text>
<line x1="497.90" y1="415.32" x2="499.40" y2="415.32" stroke="#333" stroke-width="0.5"/>
<text x="496.00" y="424.23" font-size="7.7" fill="#3c3c3c" text-anchor="end" xml:space="preserve">immune effector process</text>
<line x1="497.90" y1="421.63" x2="499.40" y2="421.63" stroke="#333" stroke-width="0.5"/>
<text x="496.00" y="430.55" font-size="7.7" fill="#3c3c3c" text-anchor="end" xml:space="preserve">exit from host cell</text>
<line x1="497.90" y1="427.95" x2="499.40" y2="427.95" stroke="#333" stroke-width="0.5"/>
<text x="495.90" y="436.86" font-size="7.7" fill="#3c3c3c" text-anchor="end" xml:space="preserve">cytokine production </text>
<line x1="497.90" y1="434.26" x2="499.40" y2="434.26" stroke="#333" stroke-width="0.5"/>
<text x="496.00" y="443.17" font-size="7.7" fill="#3c3c3c" text-anchor="end" xml:space="preserve">cytokine production</text>
<line x1="497.90" y1="440.57" x2="499.40" y2="440.57" stroke="#333" stroke-width="0.5"/>
<text x="496.00" y="449.49" font-size="7.7" fill="#3c3c3c" text-anchor="end" xml:space="preserve">cellular response to cytokine stimulus</text>
<line x1="497.90" y1="446.88" x2="499.40" y2="446.88" stroke="#333" stroke-width="0.5"/>
<text x="496.00" y="455.80" font-size="7.7" fill="#3c3c3c" text-anchor="end" xml:space="preserve">antigen receptor-mediated pathway</text>
<line x1="497.90" y1="453.20" x2="499.40" y2="453.20" stroke="#333" stroke-width="0.5"/>
<text x="496.00" y="462.11" font-size="7.7" fill="#3c3c3c" text-anchor="end" xml:space="preserve">alpha-beta T cell proliferation</text>
<line x1="497.90" y1="459.51" x2="499.40" y2="459.51" stroke="#333" stroke-width="0.5"/>
<text x="495.90" y="468.42" font-size="7.7" fill="#3c3c3c" text-anchor="end" xml:space="preserve">adaptive immune response </text>
<line x1="497.90" y1="465.82" x2="499.40" y2="465.82" stroke="#333" stroke-width="0.5"/>
<text x="496.00" y="474.74" font-size="7.7" fill="#3c3c3c" text-anchor="end" xml:space="preserve">adaptive immune response</text>
<line x1="497.90" y1="472.14" x2="499.40" y2="472.14" stroke="#333" stroke-width="0.5"/>
<text x="496.00" y="481.05" font-size="7.7" fill="#3c3c3c" text-anchor="end" xml:space="preserve">activation of innate immune response</text>
<line x1="497.90" y1="478.45" x2="499.40" y2="478.45" stroke="#333" stroke-width="0.5"/>
<text x="496.00" y="487.36" font-size="7.7" fill="#3c3c3c" text-anchor="end" xml:space="preserve">activation of immune response</text>
<line x1="497.90" y1="484.76" x2="499.40" y2="484.76" stroke="#333" stroke-width="0.5"/>
<circle cx="538.50" cy="162.80" r="1.50" fill="#2a1b93" stroke="none" stroke-width="0.5"/>
<circle cx="646.40" cy="169.11" r="2.80" fill="#2a1b93" stroke="none" stroke-width="0.5"/>
<circle cx="545.70" cy="175.43" r="3.80" fill="#2a1b93" stroke="none" stroke-width="0.5"/>
<circle cx="539.10" cy="181.74" r="1.90" fill="#2a1b93" stroke="none" stroke-width="0.5"/>
<circle cx="643.90" cy="188.05" r="1.60" fill="#2a1b93" stroke="none" stroke-width="0.5"/>
<circle cx="540.70" cy="194.37" r="3.00" fill="#2a1b93" stroke="none" stroke-width="0.5"/>
<circle cx="540.00" cy="200.68" r="2.30" fill="#2a1b93" stroke="none" stroke-width="0.5"/>
<circle cx="645.10" cy="206.99" r="2.50" fill="#2a1b93" stroke="none" stroke-width="0.5"/>
<circle cx="539.40" cy="213.30" r="1.90" fill="#2a1b93" stroke="none" stroke-width="0.5"/>
<circle cx="539.40" cy="219.62" r="1.90" fill="#2a1b93" stroke="none" stroke-width="0.5"/>
<circle cx="539.40" cy="225.93" r="3.00" fill="#2a1b93" stroke="none" stroke-width="0.5"/>
<circle cx="541.60" cy="232.24" r="2.80" fill="#2a1b93" stroke="none" stroke-width="0.5"/>
<circle cx="539.70" cy="238.56" r="2.00" fill="#2a1b93" stroke="none" stroke-width="0.5"/>
<circle cx="643.60" cy="244.87" r="1.40" fill="#2a1b93" stroke="none" stroke-width="0.5"/>
<circle cx="556.00" cy="251.18" r="1.80" fill="#78ee78" stroke="none" stroke-width="0.5"/>
<circle cx="538.50" cy="257.50" r="1.30" fill="#2a1b93" stroke="none" stroke-width="0.5"/>
<circle cx="539.40" cy="263.81" r="3.40" fill="#2a1b93" stroke="none" stroke-width="0.5"/>
<circle cx="540.70" cy="270.12" r="3.40" fill="#2a1b93" stroke="none" stroke-width="0.5"/>
<circle cx="554.70" cy="270.12" r="2.20" fill="#78ee78" stroke="none" stroke-width="0.5"/>
<circle cx="538.50" cy="276.43" r="1.20" fill="#2a1b93" stroke="none" stroke-width="0.5"/>
<circle cx="538.50" cy="282.75" r="2.40" fill="#2a1b93" stroke="none" stroke-width="0.5"/>
<circle cx="554.40" cy="282.75" r="2.20" fill="#78ee78" stroke="none" stroke-width="0.5"/>
<circle cx="537.50" cy="289.06" r="1.10" fill="#2a1b93" stroke="none" stroke-width="0.5"/>
<circle cx="646.40" cy="295.37" r="2.70" fill="#2a1b93" stroke="none" stroke-width="0.5"/>
<circle cx="539.10" cy="301.69" r="1.80" fill="#2a1b93" stroke="none" stroke-width="0.5"/>
<circle cx="539.70" cy="308.00" r="2.20" fill="#2a1b93" stroke="none" stroke-width="0.5"/>
<circle cx="540.40" cy="314.31" r="2.60" fill="#2a1b93" stroke="none" stroke-width="0.5"/>
<circle cx="539.10" cy="320.62" r="2.00" fill="#2a1b93" stroke="none" stroke-width="0.5"/>
<circle cx="542.20" cy="326.94" r="3.80" fill="#2a1b93" stroke="none" stroke-width="0.5"/>
<circle cx="543.50" cy="333.25" r="4.00" fill="#2a1b93" stroke="none" stroke-width="0.5"/>
<circle cx="557.30" cy="339.56" r="1.20" fill="#78ee78" stroke="none" stroke-width="0.5"/>
<circle cx="554.40" cy="345.88" r="2.30" fill="#78ee78" stroke="none" stroke-width="0.5"/>
<circle cx="643.60" cy="352.19" r="1.80" fill="#2a1b93" stroke="none" stroke-width="0.5"/>
<circle cx="610.40" cy="358.50" r="1.20" fill="#78ee78" stroke="none" stroke-width="0.5"/>
<circle cx="556.90" cy="364.82" r="1.20" fill="#78ee78" stroke="none" stroke-width="0.5"/>
<circle cx="538.20" cy="371.13" r="1.40" fill="#2a1b93" stroke="none" stroke-width="0.5"/>
<circle cx="643.60" cy="377.44" r="1.40" fill="#2a1b93" stroke="none" stroke-width="0.5"/>
<circle cx="539.10" cy="383.75" r="1.90" fill="#2a1b93" stroke="none" stroke-width="0.5"/>
<circle cx="542.20" cy="390.07" r="2.90" fill="#2a1b93" stroke="none" stroke-width="0.5"/>
<circle cx="541.90" cy="396.38" r="3.80" fill="#2a1b93" stroke="none" stroke-width="0.5"/>
<circle cx="540.00" cy="402.69" r="3.00" fill="#2a1b93" stroke="none" stroke-width="0.5"/>
<circle cx="556.00" cy="402.69" r="1.80" fill="#78ee78" stroke="none" stroke-width="0.5"/>
<circle cx="541.90" cy="409.01" r="3.40" fill="#2a1b93" stroke="none" stroke-width="0.5"/>
<circle cx="556.00" cy="409.01" r="2.00" fill="#78ee78" stroke="none" stroke-width="0.5"/>
<circle cx="538.50" cy="415.32" r="3.30" fill="#2a1b93" stroke="none" stroke-width="0.5"/>
<circle cx="537.50" cy="421.63" r="1.20" fill="#2a1b93" stroke="none" stroke-width="0.5"/>
<circle cx="538.80" cy="427.95" r="1.60" fill="#2a1b93" stroke="none" stroke-width="0.5"/>
<circle cx="538.50" cy="434.26" r="1.20" fill="#2a1b93" stroke="none" stroke-width="0.5"/>
<circle cx="539.10" cy="440.57" r="2.80" fill="#2a1b93" stroke="none" stroke-width="0.5"/>
<circle cx="554.70" cy="440.57" r="2.30" fill="#78ee78" stroke="none" stroke-width="0.5"/>
<circle cx="539.70" cy="446.88" r="3.00" fill="#2a1b93" stroke="none" stroke-width="0.5"/>
<circle cx="541.30" cy="453.20" r="2.80" fill="#2a1b93" stroke="none" stroke-width="0.5"/>
<circle cx="537.50" cy="459.51" r="1.20" fill="#2a1b93" stroke="none" stroke-width="0.5"/>
<circle cx="541.90" cy="465.82" r="3.00" fill="#2a1b93" stroke="none" stroke-width="0.5"/>
<circle cx="539.40" cy="472.14" r="2.50" fill="#2a1b93" stroke="none" stroke-width="0.5"/>
<circle cx="538.80" cy="478.45" r="2.00" fill="#2a1b93" stroke="none" stroke-width="0.5"/>
<circle cx="542.20" cy="484.76" r="3.80" fill="#2a1b93" stroke="none" stroke-width="0.5"/>
<text x="575.90" y="506.64" font-size="7.1" fill="#222" text-anchor="middle">Normalized Enrichment Score</text>
<text x="663.3" y="260.7" font-size="8.7" fill="#000"><tspan font-style="italic">p</tspan> value (log)</text>
<circle cx="668.60" cy="272.00" r="1.80" fill="#000" stroke="none" stroke-width="0.5"/>
<text x="677.40" y="274.51" font-size="7.0" font-weight="bold" stroke="#000" stroke-width="0.15" fill="#000" text-anchor="start">1.5</text>
<circle cx="668.60" cy="282.20" r="2.70" fill="#000" stroke="none" stroke-width="0.5"/>
<text x="677.40" y="284.71" font-size="7.0" font-weight="bold" stroke="#000" stroke-width="0.15" fill="#000" text-anchor="start">2.0</text>
<circle cx="668.60" cy="292.20" r="3.30" fill="#000" stroke="none" stroke-width="0.5"/>
<text x="677.40" y="294.71" font-size="7.0" font-weight="bold" stroke="#000" stroke-width="0.15" fill="#000" text-anchor="start">2.5</text>
<circle cx="668.60" cy="302.50" r="3.80" fill="#000" stroke="none" stroke-width="0.5"/>
<text x="677.40" y="305.01" font-size="7.0" font-weight="bold" stroke="#000" stroke-width="0.15" fill="#000" text-anchor="start">3.0</text>
<circle cx="668.60" cy="312.80" r="4.30" fill="#000" stroke="none" stroke-width="0.5"/>
<text x="677.40" y="315.31" font-size="7.0" font-weight="bold" stroke="#000" stroke-width="0.15" fill="#000" text-anchor="start">3.5</text>
<text x="663.60" y="339.41" font-size="8.7" fill="#000" text-anchor="start">NES</text>
<rect x="663.90" y="343.50" width="9.70" height="51.30" fill="url(#nes)" stroke="none" stroke-width="0.5"/>
<text x="677.70" y="349.81" font-size="7.0" font-weight="bold" stroke="#000" stroke-width="0.15" fill="#000" text-anchor="start">2</text>
<line x1="663.90" y1="347.30" x2="665.80" y2="347.30" stroke="#fff" stroke-width="0.4"/>
<line x1="671.70" y1="347.30" x2="673.60" y2="347.30" stroke="#fff" stroke-width="0.4"/>
<text x="677.70" y="362.31" font-size="7.0" font-weight="bold" stroke="#000" stroke-width="0.15" fill="#000" text-anchor="start">1</text>
<line x1="663.90" y1="359.80" x2="665.80" y2="359.80" stroke="#fff" stroke-width="0.4"/>
<line x1="671.70" y1="359.80" x2="673.60" y2="359.80" stroke="#fff" stroke-width="0.4"/>
<text x="677.70" y="374.81" font-size="7.0" font-weight="bold" stroke="#000" stroke-width="0.15" fill="#000" text-anchor="start">0</text>
<line x1="663.90" y1="372.30" x2="665.80" y2="372.30" stroke="#fff" stroke-width="0.4"/>
<line x1="671.70" y1="372.30" x2="673.60" y2="372.30" stroke="#fff" stroke-width="0.4"/>
<text x="677.70" y="387.31" font-size="7.0" font-weight="bold" stroke="#000" stroke-width="0.15" fill="#000" text-anchor="start">-1</text>
<line x1="663.90" y1="384.80" x2="665.80" y2="384.80" stroke="#fff" stroke-width="0.4"/>
<line x1="671.70" y1="384.80" x2="673.60" y2="384.80" stroke="#fff" stroke-width="0.4"/>
<text x="32.00" y="297.20" font-size="20.3" font-weight="bold" stroke="#000" stroke-width="0.45" fill="#000" text-anchor="start">F</text>
<ellipse cx="152.60" cy="321.30" rx="87.80" ry="40.70" transform="rotate(-4 152.60 321.30)" fill="#0a9a0a" stroke="#0a9a0a" stroke-width="2.0" fill-opacity="0.09"/>
<ellipse cx="108.40" cy="382.20" rx="91.30" ry="22.50" transform="rotate(65.5 108.40 382.20)" fill="#f01808" stroke="#f01808" stroke-width="2.0" fill-opacity="0.075"/>
<ellipse cx="152.60" cy="321.30" rx="87.80" ry="40.70" transform="rotate(-4 152.60 321.30)" fill="none" stroke="#0a9a0a" stroke-width="2.0"/>
<ellipse cx="108.40" cy="382.20" rx="91.30" ry="22.50" transform="rotate(65.5 108.40 382.20)" fill="none" stroke="#f01808" stroke-width="2.0"/>
<line x1="84.16" y1="332.77" x2="82.67" y2="311.23" stroke="#3fcf2a" stroke-width="0.9" stroke-opacity="0.85"/>
<path d="M82.82,313.43 L84.04,315.72 L81.92,315.87 Z" fill="#3fcf2a" fill-opacity="0.85"/>
<line x1="84.16" y1="332.77" x2="86.60" y2="357.97" stroke="#3fcf2a" stroke-width="0.9" stroke-opacity="0.85"/>
<path d="M86.39,355.78 L85.10,353.52 L87.21,353.32 Z" fill="#3fcf2a" fill-opacity="0.85"/>
<line x1="80.27" y1="311.23" x2="85.07" y2="311.23" stroke="#3fcf2a" stroke-width="0.5"/>
<line x1="82.67" y1="308.83" x2="82.67" y2="313.63" stroke="#3fcf2a" stroke-width="0.5"/>
<path d="M86.60,357.07 L88.88,361.20 L84.32,361.20 Z" fill="none" stroke="#3fcf2a" stroke-width="0.5"/>
<line x1="78.63" y1="333.67" x2="78.54" y2="324.64" stroke="#f0281a" stroke-width="0.9" stroke-opacity="0.85"/>
<path d="M78.57,326.84 L79.65,329.20 L77.53,329.23 Z" fill="#f0281a" fill-opacity="0.85"/>
<line x1="78.63" y1="333.67" x2="81.87" y2="352.79" stroke="#f0281a" stroke-width="0.9" stroke-opacity="0.85"/>
<path d="M81.51,350.62 L80.06,348.46 L82.15,348.10 Z" fill="#f0281a" fill-opacity="0.85"/>
<circle cx="78.54" cy="324.64" r="1.90" fill="none" stroke="#f0281a" stroke-width="0.5"/>
<line x1="86.65" y1="332.11" x2="84.43" y2="319.01" stroke="#3fcf2a" stroke-width="0.9" stroke-opacity="0.85"/>
<path d="M84.80,321.18 L86.24,323.34 L84.15,323.70 Z" fill="#3fcf2a" fill-opacity="0.85"/>
<line x1="86.65" y1="332.11" x2="86.77" y2="345.85" stroke="#3fcf2a" stroke-width="0.9" stroke-opacity="0.85"/>
<path d="M86.75,343.65 L85.67,341.28 L87.79,341.26 Z" fill="#3fcf2a" fill-opacity="0.85"/>
<circle cx="86.77" cy="347.35" r="1.90" fill="none" stroke="#3fcf2a" stroke-width="0.5"/>
<line x1="89.71" y1="350.39" x2="87.89" y2="322.54" stroke="#f0281a" stroke-width="0.9" stroke-opacity="0.85"/>
<path d="M88.03,324.73 L89.25,327.03 L87.13,327.17 Z" fill="#f0281a" fill-opacity="0.85"/>
<line x1="89.71" y1="350.39" x2="92.07" y2="372.50" stroke="#f0281a" stroke-width="0.9" stroke-opacity="0.85"/>
<path d="M91.84,370.31 L90.53,368.07 L92.64,367.84 Z" fill="#f0281a" fill-opacity="0.85"/>
<line x1="85.49" y1="322.54" x2="90.29" y2="322.54" stroke="#f0281a" stroke-width="0.5"/>
<line x1="87.89" y1="320.14" x2="87.89" y2="324.94" stroke="#f0281a" stroke-width="0.5"/>
<line x1="81.87" y1="324.75" x2="79.52" y2="310.85" stroke="#3fcf2a" stroke-width="0.9" stroke-opacity="0.85"/>
<path d="M79.89,313.02 L81.33,315.19 L79.24,315.54 Z" fill="#3fcf2a" fill-opacity="0.85"/>
<line x1="81.87" y1="324.75" x2="85.61" y2="350.10" stroke="#3fcf2a" stroke-width="0.9" stroke-opacity="0.85"/>
<path d="M85.28,347.92 L83.89,345.72 L85.99,345.42 Z" fill="#3fcf2a" fill-opacity="0.85"/>
<circle cx="79.52" cy="310.85" r="1.90" fill="none" stroke="#3fcf2a" stroke-width="0.5"/>
<path d="M85.61,349.20 L87.89,353.32 L83.33,353.32 Z" fill="none" stroke="#3fcf2a" stroke-width="0.5"/>
<line x1="89.35" y1="335.24" x2="89.00" y2="322.08" stroke="#f0281a" stroke-width="0.9" stroke-opacity="0.85"/>
<path d="M89.06,324.27 L90.18,326.62 L88.06,326.68 Z" fill="#f0281a" fill-opacity="0.85"/>
<line x1="89.35" y1="335.24" x2="92.31" y2="363.50" stroke="#f0281a" stroke-width="0.9" stroke-opacity="0.85"/>
<path d="M92.08,361.31 L90.78,359.06 L92.89,358.84 Z" fill="#f0281a" fill-opacity="0.85"/>
<line x1="90.51" y1="330.03" x2="88.91" y2="314.42" stroke="#3fcf2a" stroke-width="0.9" stroke-opacity="0.85"/>
<path d="M89.13,316.61 L90.43,318.86 L88.32,319.08 Z" fill="#3fcf2a" fill-opacity="0.85"/>
<line x1="90.51" y1="330.03" x2="93.69" y2="350.23" stroke="#3fcf2a" stroke-width="0.9" stroke-opacity="0.85"/>
<path d="M93.35,348.05 L91.93,345.87 L94.02,345.54 Z" fill="#3fcf2a" fill-opacity="0.85"/>
<line x1="86.51" y1="314.42" x2="91.31" y2="314.42" stroke="#3fcf2a" stroke-width="0.5"/>
<line x1="88.91" y1="312.02" x2="88.91" y2="316.82" stroke="#3fcf2a" stroke-width="0.5"/>
<circle cx="93.69" cy="351.73" r="1.90" fill="none" stroke="#3fcf2a" stroke-width="0.5"/>
<line x1="94.52" y1="341.48" x2="91.80" y2="328.28" stroke="#f0281a" stroke-width="0.9" stroke-opacity="0.85"/>
<path d="M92.24,330.44 L93.76,332.55 L91.68,332.97 Z" fill="#f0281a" fill-opacity="0.85"/>
<line x1="94.52" y1="341.48" x2="95.77" y2="357.13" stroke="#f0281a" stroke-width="0.9" stroke-opacity="0.85"/>
<path d="M95.59,354.93 L94.35,352.65 L96.46,352.48 Z" fill="#f0281a" fill-opacity="0.85"/>
<circle cx="91.80" cy="328.28" r="1.90" fill="none" stroke="#f0281a" stroke-width="0.5"/>
<line x1="92.41" y1="335.25" x2="89.77" y2="312.81" stroke="#3fcf2a" stroke-width="0.9" stroke-opacity="0.85"/>
<path d="M90.02,315.00 L91.35,317.23 L89.25,317.48 Z" fill="#3fcf2a" fill-opacity="0.85"/>
<line x1="92.41" y1="335.25" x2="94.54" y2="365.54" stroke="#3fcf2a" stroke-width="0.9" stroke-opacity="0.85"/>
<path d="M94.38,363.35 L93.16,361.06 L95.28,360.91 Z" fill="#3fcf2a" fill-opacity="0.85"/>
<path d="M94.54,364.64 L96.82,368.77 L92.26,368.77 Z" fill="none" stroke="#3fcf2a" stroke-width="0.5"/>
<line x1="82.69" y1="339.39" x2="80.24" y2="324.29" stroke="#f0281a" stroke-width="0.9" stroke-opacity="0.85"/>
<path d="M80.59,326.46 L82.02,328.63 L79.92,328.98 Z" fill="#f0281a" fill-opacity="0.85"/>
<line x1="82.69" y1="339.39" x2="84.55" y2="352.82" stroke="#f0281a" stroke-width="0.9" stroke-opacity="0.85"/>
<path d="M84.25,350.64 L82.87,348.44 L84.97,348.15 Z" fill="#f0281a" fill-opacity="0.85"/>
<line x1="77.84" y1="324.29" x2="82.64" y2="324.29" stroke="#f0281a" stroke-width="0.5"/>
<line x1="80.24" y1="321.89" x2="80.24" y2="326.69" stroke="#f0281a" stroke-width="0.5"/>
<line x1="95.02" y1="334.86" x2="92.32" y2="313.11" stroke="#3fcf2a" stroke-width="0.9" stroke-opacity="0.85"/>
<path d="M92.59,315.29 L93.94,317.52 L91.83,317.78 Z" fill="#3fcf2a" fill-opacity="0.85"/>
<line x1="95.02" y1="334.86" x2="98.25" y2="358.99" stroke="#3fcf2a" stroke-width="0.9" stroke-opacity="0.85"/>
<path d="M97.95,356.81 L96.59,354.60 L98.69,354.32 Z" fill="#3fcf2a" fill-opacity="0.85"/>
<circle cx="92.32" cy="313.11" r="1.90" fill="none" stroke="#3fcf2a" stroke-width="0.5"/>
<circle cx="98.25" cy="360.49" r="1.90" fill="none" stroke="#3fcf2a" stroke-width="0.5"/>
<line x1="94.49" y1="342.18" x2="92.62" y2="332.95" stroke="#f0281a" stroke-width="0.9" stroke-opacity="0.85"/>
<path d="M93.06,335.11 L94.57,337.22 L92.49,337.64 Z" fill="#f0281a" fill-opacity="0.85"/>
<line x1="94.49" y1="342.18" x2="96.97" y2="361.96" stroke="#f0281a" stroke-width="0.9" stroke-opacity="0.85"/>
<path d="M96.69,359.77 L95.35,357.55 L97.45,357.29 Z" fill="#f0281a" fill-opacity="0.85"/>
<line x1="90.45" y1="337.96" x2="88.32" y2="320.92" stroke="#3fcf2a" stroke-width="0.9" stroke-opacity="0.85"/>
<path d="M88.60,323.10 L89.94,325.33 L87.84,325.59 Z" fill="#3fcf2a" fill-opacity="0.85"/>
<line x1="90.45" y1="337.96" x2="92.47" y2="361.90" stroke="#3fcf2a" stroke-width="0.9" stroke-opacity="0.85"/>
<path d="M92.29,359.71 L91.03,357.44 L93.14,357.26 Z" fill="#3fcf2a" fill-opacity="0.85"/>
<line x1="85.92" y1="320.92" x2="90.72" y2="320.92" stroke="#3fcf2a" stroke-width="0.5"/>
<line x1="88.32" y1="318.52" x2="88.32" y2="323.32" stroke="#3fcf2a" stroke-width="0.5"/>
<path d="M92.47,361.00 L94.75,365.13 L90.19,365.13 Z" fill="none" stroke="#3fcf2a" stroke-width="0.5"/>
<line x1="79.33" y1="333.86" x2="77.91" y2="323.77" stroke="#f0281a" stroke-width="0.9" stroke-opacity="0.85"/>
<path d="M78.21,325.95 L79.60,328.15 L77.50,328.45 Z" fill="#f0281a" fill-opacity="0.85"/>
<line x1="79.33" y1="333.86" x2="80.37" y2="355.53" stroke="#f0281a" stroke-width="0.9" stroke-opacity="0.85"/>
<path d="M80.26,353.33 L79.09,351.01 L81.21,350.91 Z" fill="#f0281a" fill-opacity="0.85"/>
<circle cx="77.91" cy="323.77" r="1.90" fill="none" stroke="#f0281a" stroke-width="0.5"/>
<line x1="81.20" y1="325.20" x2="79.26" y2="312.35" stroke="#3fcf2a" stroke-width="0.9" stroke-opacity="0.85"/>
<path d="M79.59,314.52 L80.99,316.71 L78.90,317.03 Z" fill="#3fcf2a" fill-opacity="0.85"/>
<line x1="81.20" y1="325.20" x2="85.61" y2="351.99" stroke="#3fcf2a" stroke-width="0.9" stroke-opacity="0.85"/>
<path d="M85.25,349.82 L83.82,347.65 L85.91,347.31 Z" fill="#3fcf2a" fill-opacity="0.85"/>
<circle cx="85.61" cy="353.49" r="1.90" fill="none" stroke="#3fcf2a" stroke-width="0.5"/>
<line x1="89.52" y1="346.14" x2="87.39" y2="331.78" stroke="#f0281a" stroke-width="0.9" stroke-opacity="0.85"/>
<path d="M87.71,333.96 L89.11,336.15 L87.01,336.46 Z" fill="#f0281a" fill-opacity="0.85"/>
<line x1="89.52" y1="346.14" x2="93.46" y2="369.20" stroke="#f0281a" stroke-width="0.9" stroke-opacity="0.85"/>
<path d="M93.09,367.04 L91.65,364.88 L93.74,364.52 Z" fill="#f0281a" fill-opacity="0.85"/>
<line x1="84.99" y1="331.78" x2="89.79" y2="331.78" stroke="#f0281a" stroke-width="0.5"/>
<line x1="87.39" y1="329.38" x2="87.39" y2="334.18" stroke="#f0281a" stroke-width="0.5"/>
<line x1="84.08" y1="335.67" x2="83.28" y2="319.67" stroke="#3fcf2a" stroke-width="0.9" stroke-opacity="0.85"/>
<path d="M83.39,321.87 L84.57,324.18 L82.45,324.29 Z" fill="#3fcf2a" fill-opacity="0.85"/>
<line x1="84.08" y1="335.67" x2="87.37" y2="365.03" stroke="#3fcf2a" stroke-width="0.9" stroke-opacity="0.85"/>
<path d="M87.13,362.84 L85.81,360.60 L87.92,360.36 Z" fill="#3fcf2a" fill-opacity="0.85"/>
<circle cx="83.28" cy="319.67" r="1.90" fill="none" stroke="#3fcf2a" stroke-width="0.5"/>
<path d="M87.37,364.13 L89.65,368.26 L85.09,368.26 Z" fill="none" stroke="#3fcf2a" stroke-width="0.5"/>
<line x1="82.70" y1="336.31" x2="81.70" y2="324.21" stroke="#f0281a" stroke-width="0.9" stroke-opacity="0.85"/>
<path d="M81.88,326.41 L83.13,328.69 L81.02,328.86 Z" fill="#f0281a" fill-opacity="0.85"/>
<line x1="82.70" y1="336.31" x2="85.67" y2="364.37" stroke="#f0281a" stroke-width="0.9" stroke-opacity="0.85"/>
<path d="M85.44,362.18 L84.13,359.93 L86.24,359.71 Z" fill="#f0281a" fill-opacity="0.85"/>
<line x1="86.76" y1="338.25" x2="83.46" y2="316.01" stroke="#3fcf2a" stroke-width="0.9" stroke-opacity="0.85"/>
<path d="M83.79,318.19 L85.18,320.38 L83.09,320.69 Z" fill="#3fcf2a" fill-opacity="0.85"/>
<line x1="86.76" y1="338.25" x2="90.10" y2="364.92" stroke="#3fcf2a" stroke-width="0.9" stroke-opacity="0.85"/>
<path d="M89.83,362.74 L88.48,360.51 L90.59,360.25 Z" fill="#3fcf2a" fill-opacity="0.85"/>
<line x1="81.06" y1="316.01" x2="85.86" y2="316.01" stroke="#3fcf2a" stroke-width="0.5"/>
<line x1="83.46" y1="313.61" x2="83.46" y2="318.41" stroke="#3fcf2a" stroke-width="0.5"/>
<circle cx="90.10" cy="366.42" r="1.90" fill="none" stroke="#3fcf2a" stroke-width="0.5"/>
<line x1="94.69" y1="346.88" x2="89.67" y2="316.03" stroke="#f0281a" stroke-width="0.9" stroke-opacity="0.85"/>
<path d="M90.02,318.20 L91.45,320.37 L89.36,320.71 Z" fill="#f0281a" fill-opacity="0.85"/>
<line x1="94.69" y1="346.88" x2="97.33" y2="370.89" stroke="#f0281a" stroke-width="0.9" stroke-opacity="0.85"/>
<path d="M97.09,368.70 L95.77,366.46 L97.88,366.23 Z" fill="#f0281a" fill-opacity="0.85"/>
<circle cx="89.67" cy="316.03" r="1.90" fill="none" stroke="#f0281a" stroke-width="0.5"/>
<line x1="84.26" y1="324.06" x2="83.87" y2="314.09" stroke="#3fcf2a" stroke-width="0.9" stroke-opacity="0.85"/>
<path d="M83.95,316.29 L85.10,318.62 L82.99,318.70 Z" fill="#3fcf2a" fill-opacity="0.85"/>
<line x1="84.26" y1="324.06" x2="88.35" y2="345.38" stroke="#3fcf2a" stroke-width="0.9" stroke-opacity="0.85"/>
<path d="M87.93,343.22 L86.44,341.09 L88.53,340.69 Z" fill="#3fcf2a" fill-opacity="0.85"/>
<path d="M88.35,344.48 L90.63,348.61 L86.07,348.61 Z" fill="none" stroke="#3fcf2a" stroke-width="0.5"/>
<line x1="81.39" y1="330.40" x2="81.26" y2="318.08" stroke="#f0281a" stroke-width="0.9" stroke-opacity="0.85"/>
<path d="M81.28,320.28 L82.37,322.65 L80.25,322.67 Z" fill="#f0281a" fill-opacity="0.85"/>
<line x1="81.39" y1="330.40" x2="84.48" y2="359.14" stroke="#f0281a" stroke-width="0.9" stroke-opacity="0.85"/>
<path d="M84.25,356.95 L82.94,354.71 L85.05,354.48 Z" fill="#f0281a" fill-opacity="0.85"/>
<line x1="78.86" y1="318.08" x2="83.66" y2="318.08" stroke="#f0281a" stroke-width="0.5"/>
<line x1="81.26" y1="315.68" x2="81.26" y2="320.48" stroke="#f0281a" stroke-width="0.5"/>
<line x1="80.49" y1="328.16" x2="78.78" y2="313.68" stroke="#3fcf2a" stroke-width="0.9" stroke-opacity="0.85"/>
<path d="M79.03,315.87 L80.37,318.10 L78.26,318.35 Z" fill="#3fcf2a" fill-opacity="0.85"/>
<line x1="80.49" y1="328.16" x2="84.06" y2="343.59" stroke="#3fcf2a" stroke-width="0.9" stroke-opacity="0.85"/>
<path d="M83.57,341.44 L82.00,339.37 L84.06,338.89 Z" fill="#3fcf2a" fill-opacity="0.85"/>
<circle cx="78.78" cy="313.68" r="1.90" fill="none" stroke="#3fcf2a" stroke-width="0.5"/>
<circle cx="84.06" cy="345.09" r="1.90" fill="none" stroke="#3fcf2a" stroke-width="0.5"/>
<line x1="84.99" y1="342.70" x2="82.04" y2="321.60" stroke="#f0281a" stroke-width="0.9" stroke-opacity="0.85"/>
<path d="M82.34,323.78 L83.72,325.98 L81.62,326.28 Z" fill="#f0281a" fill-opacity="0.85"/>
<line x1="84.99" y1="342.70" x2="85.22" y2="359.65" stroke="#f0281a" stroke-width="0.9" stroke-opacity="0.85"/>
<path d="M85.19,357.45 L84.09,355.09 L86.21,355.06 Z" fill="#f0281a" fill-opacity="0.85"/>
<line x1="85.48" y1="327.11" x2="85.15" y2="315.06" stroke="#3fcf2a" stroke-width="0.9" stroke-opacity="0.85"/>
<path d="M85.21,317.26 L86.34,319.61 L84.22,319.66 Z" fill="#3fcf2a" fill-opacity="0.85"/>
<line x1="85.48" y1="327.11" x2="87.35" y2="344.98" stroke="#3fcf2a" stroke-width="0.9" stroke-opacity="0.85"/>
<path d="M87.12,342.79 L85.82,340.54 L87.93,340.32 Z" fill="#3fcf2a" fill-opacity="0.85"/>
<line x1="82.75" y1="315.06" x2="87.55" y2="315.06" stroke="#3fcf2a" stroke-width="0.5"/>
<line x1="85.15" y1="312.66" x2="85.15" y2="317.46" stroke="#3fcf2a" stroke-width="0.5"/>
<path d="M87.35,344.08 L89.63,348.20 L85.07,348.20 Z" fill="none" stroke="#3fcf2a" stroke-width="0.5"/>
<line x1="94.36" y1="333.85" x2="92.42" y2="318.07" stroke="#f0281a" stroke-width="0.9" stroke-opacity="0.85"/>
<path d="M92.69,320.25 L94.03,322.48 L91.93,322.74 Z" fill="#f0281a" fill-opacity="0.85"/>
<line x1="94.36" y1="333.85" x2="98.51" y2="352.49" stroke="#f0281a" stroke-width="0.9" stroke-opacity="0.85"/>
<path d="M98.03,350.34 L96.48,348.25 L98.55,347.79 Z" fill="#f0281a" fill-opacity="0.85"/>
<circle cx="92.42" cy="318.07" r="1.90" fill="none" stroke="#f0281a" stroke-width="0.5"/>
<line x1="91.11" y1="335.15" x2="86.51" y2="309.81" stroke="#3fcf2a" stroke-width="0.9" stroke-opacity="0.85"/>
<path d="M86.90,311.98 L88.37,314.12 L86.28,314.50 Z" fill="#3fcf2a" fill-opacity="0.85"/>
<line x1="91.11" y1="335.15" x2="93.91" y2="355.15" stroke="#3fcf2a" stroke-width="0.9" stroke-opacity="0.85"/>
<path d="M93.60,352.97 L92.22,350.76 L94.32,350.47 Z" fill="#3fcf2a" fill-opacity="0.85"/>
<circle cx="93.91" cy="356.65" r="1.90" fill="none" stroke="#3fcf2a" stroke-width="0.5"/>
<line x1="85.30" y1="337.39" x2="82.20" y2="321.97" stroke="#f0281a" stroke-width="0.9" stroke-opacity="0.85"/>
<path d="M82.63,324.12 L84.14,326.24 L82.06,326.66 Z" fill="#f0281a" fill-opacity="0.85"/>
<line x1="85.30" y1="337.39" x2="87.48" y2="355.51" stroke="#f0281a" stroke-width="0.9" stroke-opacity="0.85"/>
<path d="M87.21,353.32 L85.88,351.09 L87.98,350.84 Z" fill="#f0281a" fill-opacity="0.85"/>
<line x1="79.80" y1="321.97" x2="84.60" y2="321.97" stroke="#f0281a" stroke-width="0.5"/>
<line x1="82.20" y1="319.57" x2="82.20" y2="324.37" stroke="#f0281a" stroke-width="0.5"/>
<line x1="87.89" y1="339.63" x2="82.77" y2="312.06" stroke="#3fcf2a" stroke-width="0.9" stroke-opacity="0.85"/>
<path d="M83.17,314.23 L84.65,316.37 L82.56,316.76 Z" fill="#3fcf2a" fill-opacity="0.85"/>
<line x1="87.89" y1="339.63" x2="90.66" y2="361.66" stroke="#3fcf2a" stroke-width="0.9" stroke-opacity="0.85"/>
<path d="M90.39,359.48 L89.04,357.26 L91.15,356.99 Z" fill="#3fcf2a" fill-opacity="0.85"/>
<circle cx="82.77" cy="312.06" r="1.90" fill="none" stroke="#3fcf2a" stroke-width="0.5"/>
<path d="M90.66,360.76 L92.94,364.89 L88.38,364.89 Z" fill="none" stroke="#3fcf2a" stroke-width="0.5"/>
<line x1="92.57" y1="340.32" x2="92.23" y2="329.06" stroke="#f0281a" stroke-width="0.9" stroke-opacity="0.85"/>
<path d="M92.30,331.26 L93.43,333.60 L91.31,333.66 Z" fill="#f0281a" fill-opacity="0.85"/>
<line x1="92.57" y1="340.32" x2="95.85" y2="356.76" stroke="#f0281a" stroke-width="0.9" stroke-opacity="0.85"/>
<path d="M95.42,354.60 L93.91,352.48 L95.99,352.07 Z" fill="#f0281a" fill-opacity="0.85"/>
<line x1="80.45" y1="333.99" x2="77.49" y2="312.71" stroke="#3fcf2a" stroke-width="0.9" stroke-opacity="0.85"/>
<path d="M77.79,314.89 L79.17,317.10 L77.07,317.39 Z" fill="#3fcf2a" fill-opacity="0.85"/>
<line x1="80.45" y1="333.99" x2="82.75" y2="348.96" stroke="#3fcf2a" stroke-width="0.9" stroke-opacity="0.85"/>
<path d="M82.41,346.79 L81.00,344.60 L83.10,344.28 Z" fill="#3fcf2a" fill-opacity="0.85"/>
<line x1="75.09" y1="312.71" x2="79.89" y2="312.71" stroke="#3fcf2a" stroke-width="0.5"/>
<line x1="77.49" y1="310.31" x2="77.49" y2="315.11" stroke="#3fcf2a" stroke-width="0.5"/>
<circle cx="82.75" cy="350.46" r="1.90" fill="none" stroke="#3fcf2a" stroke-width="0.5"/>
<line x1="95.24" y1="347.79" x2="94.37" y2="333.77" stroke="#f0281a" stroke-width="0.9" stroke-opacity="0.85"/>
<path d="M94.50,335.97 L95.71,338.27 L93.59,338.40 Z" fill="#f0281a" fill-opacity="0.85"/>
<line x1="95.24" y1="347.79" x2="98.54" y2="372.06" stroke="#f0281a" stroke-width="0.9" stroke-opacity="0.85"/>
<path d="M98.24,369.88 L96.87,367.67 L98.97,367.38 Z" fill="#f0281a" fill-opacity="0.85"/>
<circle cx="94.37" cy="333.77" r="1.90" fill="none" stroke="#f0281a" stroke-width="0.5"/>
<line x1="84.32" y1="336.97" x2="80.44" y2="311.85" stroke="#3fcf2a" stroke-width="0.9" stroke-opacity="0.85"/>
<path d="M80.78,314.02 L82.19,316.21 L80.09,316.53 Z" fill="#3fcf2a" fill-opacity="0.85"/>
<line x1="84.32" y1="336.97" x2="87.55" y2="357.35" stroke="#3fcf2a" stroke-width="0.9" stroke-opacity="0.85"/>
<path d="M87.20,355.18 L85.79,353.00 L87.88,352.67 Z" fill="#3fcf2a" fill-opacity="0.85"/>
<path d="M87.55,356.45 L89.83,360.58 L85.27,360.58 Z" fill="none" stroke="#3fcf2a" stroke-width="0.5"/>
<line x1="92.07" y1="343.71" x2="89.25" y2="330.19" stroke="#f0281a" stroke-width="0.9" stroke-opacity="0.85"/>
<path d="M89.70,332.35 L91.23,334.45 L89.15,334.89 Z" fill="#f0281a" fill-opacity="0.85"/>
<line x1="92.07" y1="343.71" x2="92.99" y2="353.78" stroke="#f0281a" stroke-width="0.9" stroke-opacity="0.85"/>
<path d="M92.79,351.59 L91.52,349.32 L93.63,349.13 Z" fill="#f0281a" fill-opacity="0.85"/>
<line x1="86.85" y1="330.19" x2="91.65" y2="330.19" stroke="#f0281a" stroke-width="0.5"/>
<line x1="89.25" y1="327.79" x2="89.25" y2="332.59" stroke="#f0281a" stroke-width="0.5"/>
<line x1="92.92" y1="327.83" x2="90.13" y2="315.00" stroke="#3fcf2a" stroke-width="0.9" stroke-opacity="0.85"/>
<path d="M90.60,317.15 L92.14,319.24 L90.07,319.69 Z" fill="#3fcf2a" fill-opacity="0.85"/>
<line x1="92.92" y1="327.83" x2="95.32" y2="347.11" stroke="#3fcf2a" stroke-width="0.9" stroke-opacity="0.85"/>
<path d="M95.04,344.92 L93.70,342.70 L95.80,342.44 Z" fill="#3fcf2a" fill-opacity="0.85"/>
<circle cx="90.13" cy="315.00" r="1.90" fill="none" stroke="#3fcf2a" stroke-width="0.5"/>
<circle cx="95.32" cy="348.61" r="1.90" fill="none" stroke="#3fcf2a" stroke-width="0.5"/>
<line x1="97.54" y1="342.14" x2="94.99" y2="322.52" stroke="#f0281a" stroke-width="0.9" stroke-opacity="0.85"/>
<path d="M95.27,324.70 L96.63,326.92 L94.53,327.19 Z" fill="#f0281a" fill-opacity="0.85"/>
<line x1="97.54" y1="342.14" x2="101.45" y2="360.43" stroke="#f0281a" stroke-width="0.9" stroke-opacity="0.85"/>
<path d="M100.99,358.28 L99.45,356.18 L101.53,355.73 Z" fill="#f0281a" fill-opacity="0.85"/>
<line x1="82.59" y1="329.32" x2="79.22" y2="311.24" stroke="#3fcf2a" stroke-width="0.9" stroke-opacity="0.85"/>
<path d="M79.63,313.40 L81.10,315.54 L79.02,315.93 Z" fill="#3fcf2a" fill-opacity="0.85"/>
<line x1="82.59" y1="329.32" x2="86.73" y2="363.81" stroke="#3fcf2a" stroke-width="0.9" stroke-opacity="0.85"/>
<path d="M86.47,361.63 L85.13,359.40 L87.24,359.14 Z" fill="#3fcf2a" fill-opacity="0.85"/>
<line x1="76.82" y1="311.24" x2="81.62" y2="311.24" stroke="#3fcf2a" stroke-width="0.5"/>
<line x1="79.22" y1="308.84" x2="79.22" y2="313.64" stroke="#3fcf2a" stroke-width="0.5"/>
<path d="M86.73,362.91 L89.01,367.04 L84.45,367.04 Z" fill="none" stroke="#3fcf2a" stroke-width="0.5"/>
<line x1="95.40" y1="338.30" x2="95.15" y2="327.49" stroke="#f0281a" stroke-width="0.9" stroke-opacity="0.85"/>
<path d="M95.20,329.69 L96.32,332.04 L94.20,332.09 Z" fill="#f0281a" fill-opacity="0.85"/>
<line x1="95.40" y1="338.30" x2="99.35" y2="359.36" stroke="#f0281a" stroke-width="0.9" stroke-opacity="0.85"/>
<path d="M98.94,357.20 L97.46,355.06 L99.55,354.67 Z" fill="#f0281a" fill-opacity="0.85"/>
<circle cx="95.15" cy="327.49" r="1.90" fill="none" stroke="#f0281a" stroke-width="0.5"/>
<line x1="97.65" y1="333.38" x2="93.99" y2="316.97" stroke="#3fcf2a" stroke-width="0.9" stroke-opacity="0.85"/>
<path d="M94.47,319.12 L96.02,321.20 L93.95,321.67 Z" fill="#3fcf2a" fill-opacity="0.85"/>
<line x1="97.65" y1="333.38" x2="100.42" y2="355.11" stroke="#3fcf2a" stroke-width="0.9" stroke-opacity="0.85"/>
<path d="M100.14,352.93 L98.79,350.71 L100.89,350.44 Z" fill="#3fcf2a" fill-opacity="0.85"/>
<circle cx="100.42" cy="356.61" r="1.90" fill="none" stroke="#3fcf2a" stroke-width="0.5"/>
<line x1="94.02" y1="333.26" x2="92.37" y2="319.01" stroke="#f0281a" stroke-width="0.9" stroke-opacity="0.85"/>
<path d="M92.62,321.20 L93.95,323.43 L91.84,323.68 Z" fill="#f0281a" fill-opacity="0.85"/>
<line x1="94.02" y1="333.26" x2="96.25" y2="357.29" stroke="#f0281a" stroke-width="0.9" stroke-opacity="0.85"/>
<path d="M96.05,355.10 L94.78,352.83 L96.89,352.64 Z" fill="#f0281a" fill-opacity="0.85"/>
<line x1="89.97" y1="319.01" x2="94.77" y2="319.01" stroke="#f0281a" stroke-width="0.5"/>
<line x1="92.37" y1="316.61" x2="92.37" y2="321.41" stroke="#f0281a" stroke-width="0.5"/>
<line x1="83.72" y1="327.19" x2="81.54" y2="314.32" stroke="#3fcf2a" stroke-width="0.9" stroke-opacity="0.85"/>
<path d="M81.91,316.49 L83.35,318.65 L81.26,319.01 Z" fill="#3fcf2a" fill-opacity="0.85"/>
<line x1="83.72" y1="327.19" x2="87.17" y2="346.01" stroke="#3fcf2a" stroke-width="0.9" stroke-opacity="0.85"/>
<path d="M86.77,343.85 L85.30,341.71 L87.39,341.32 Z" fill="#3fcf2a" fill-opacity="0.85"/>
<circle cx="81.54" cy="314.32" r="1.90" fill="none" stroke="#3fcf2a" stroke-width="0.5"/>
<path d="M87.17,345.11 L89.45,349.24 L84.89,349.24 Z" fill="none" stroke="#3fcf2a" stroke-width="0.5"/>
<line x1="90.47" y1="345.09" x2="88.00" y2="332.18" stroke="#f0281a" stroke-width="0.9" stroke-opacity="0.85"/>
<path d="M88.41,334.34 L89.90,336.47 L87.82,336.87 Z" fill="#f0281a" fill-opacity="0.85"/>
<line x1="90.47" y1="345.09" x2="93.32" y2="360.83" stroke="#f0281a" stroke-width="0.9" stroke-opacity="0.85"/>
<path d="M92.93,358.67 L91.47,356.52 L93.55,356.14 Z" fill="#f0281a" fill-opacity="0.85"/>
<line x1="88.09" y1="322.79" x2="86.16" y2="309.72" stroke="#3fcf2a" stroke-width="0.9" stroke-opacity="0.85"/>
<path d="M86.48,311.89 L87.88,314.09 L85.78,314.39 Z" fill="#3fcf2a" fill-opacity="0.85"/>
<line x1="88.09" y1="322.79" x2="90.17" y2="353.12" stroke="#3fcf2a" stroke-width="0.9" stroke-opacity="0.85"/>
<path d="M90.02,350.93 L88.80,348.63 L90.91,348.49 Z" fill="#3fcf2a" fill-opacity="0.85"/>
<line x1="83.76" y1="309.72" x2="88.56" y2="309.72" stroke="#3fcf2a" stroke-width="0.5"/>
<line x1="86.16" y1="307.32" x2="86.16" y2="312.12" stroke="#3fcf2a" stroke-width="0.5"/>
<circle cx="90.17" cy="354.62" r="1.90" fill="none" stroke="#3fcf2a" stroke-width="0.5"/>
<line x1="82.83" y1="341.19" x2="80.60" y2="324.00" stroke="#f0281a" stroke-width="0.9" stroke-opacity="0.85"/>
<path d="M80.88,326.18 L82.24,328.40 L80.14,328.67 Z" fill="#f0281a" fill-opacity="0.85"/>
<line x1="82.83" y1="341.19" x2="86.08" y2="367.23" stroke="#f0281a" stroke-width="0.9" stroke-opacity="0.85"/>
<path d="M85.81,365.05 L84.46,362.82 L86.57,362.56 Z" fill="#f0281a" fill-opacity="0.85"/>
<circle cx="80.60" cy="324.00" r="1.90" fill="none" stroke="#f0281a" stroke-width="0.5"/>
<line x1="87.57" y1="328.60" x2="86.72" y2="318.52" stroke="#3fcf2a" stroke-width="0.9" stroke-opacity="0.85"/>
<path d="M86.91,320.71 L88.16,322.99 L86.05,323.17 Z" fill="#3fcf2a" fill-opacity="0.85"/>
<line x1="87.57" y1="328.60" x2="90.42" y2="345.44" stroke="#3fcf2a" stroke-width="0.9" stroke-opacity="0.85"/>
<path d="M90.06,343.27 L88.61,341.11 L90.70,340.75 Z" fill="#3fcf2a" fill-opacity="0.85"/>
<path d="M90.42,344.54 L92.70,348.67 L88.14,348.67 Z" fill="none" stroke="#3fcf2a" stroke-width="0.5"/>
<line x1="94.62" y1="347.11" x2="91.40" y2="324.65" stroke="#f0281a" stroke-width="0.9" stroke-opacity="0.85"/>
<path d="M91.71,326.82 L93.10,329.02 L91.00,329.32 Z" fill="#f0281a" fill-opacity="0.85"/>
<line x1="94.62" y1="347.11" x2="97.25" y2="363.80" stroke="#f0281a" stroke-width="0.9" stroke-opacity="0.85"/>
<path d="M96.90,361.62 L95.49,359.44 L97.58,359.11 Z" fill="#f0281a" fill-opacity="0.85"/>
<line x1="89.00" y1="324.65" x2="93.80" y2="324.65" stroke="#f0281a" stroke-width="0.5"/>
<line x1="91.40" y1="322.25" x2="91.40" y2="327.05" stroke="#f0281a" stroke-width="0.5"/>
<line x1="90.24" y1="332.51" x2="87.72" y2="315.31" stroke="#3fcf2a" stroke-width="0.9" stroke-opacity="0.85"/>
<path d="M88.04,317.49 L89.43,319.69 L87.33,319.99 Z" fill="#3fcf2a" fill-opacity="0.85"/>
<line x1="90.24" y1="332.51" x2="93.33" y2="354.78" stroke="#3fcf2a" stroke-width="0.9" stroke-opacity="0.85"/>
<path d="M93.03,352.60 L91.65,350.39 L93.75,350.10 Z" fill="#3fcf2a" fill-opacity="0.85"/>
<circle cx="87.72" cy="315.31" r="1.90" fill="none" stroke="#3fcf2a" stroke-width="0.5"/>
<circle cx="93.33" cy="356.28" r="1.90" fill="none" stroke="#3fcf2a" stroke-width="0.5"/>
<line x1="88.86" y1="352.58" x2="86.10" y2="332.89" stroke="#f0281a" stroke-width="0.9" stroke-opacity="0.85"/>
<path d="M86.41,335.07 L87.79,337.27 L85.69,337.57 Z" fill="#f0281a" fill-opacity="0.85"/>
<line x1="88.86" y1="352.58" x2="91.83" y2="366.68" stroke="#f0281a" stroke-width="0.9" stroke-opacity="0.85"/>
<path d="M91.38,364.53 L89.85,362.43 L91.92,361.99 Z" fill="#f0281a" fill-opacity="0.85"/>
<line x1="87.89" y1="334.47" x2="86.79" y2="320.35" stroke="#3fcf2a" stroke-width="0.9" stroke-opacity="0.85"/>
<path d="M86.96,322.54 L88.20,324.83 L86.09,324.99 Z" fill="#3fcf2a" fill-opacity="0.85"/>
<line x1="87.89" y1="334.47" x2="90.46" y2="362.32" stroke="#3fcf2a" stroke-width="0.9" stroke-opacity="0.85"/>
<path d="M90.25,360.13 L88.98,357.86 L91.09,357.67 Z" fill="#3fcf2a" fill-opacity="0.85"/>
<line x1="84.39" y1="320.35" x2="89.19" y2="320.35" stroke="#3fcf2a" stroke-width="0.5"/>
<line x1="86.79" y1="317.95" x2="86.79" y2="322.75" stroke="#3fcf2a" stroke-width="0.5"/>
<path d="M90.46,361.42 L92.74,365.55 L88.18,365.55 Z" fill="none" stroke="#3fcf2a" stroke-width="0.5"/>
<line x1="82.39" y1="337.75" x2="78.81" y2="319.57" stroke="#f0281a" stroke-width="0.9" stroke-opacity="0.85"/>
<path d="M79.23,321.73 L80.73,323.85 L78.65,324.26 Z" fill="#f0281a" fill-opacity="0.85"/>
<line x1="82.39" y1="337.75" x2="83.72" y2="353.54" stroke="#f0281a" stroke-width="0.9" stroke-opacity="0.85"/>
<path d="M83.53,351.34 L82.28,349.07 L84.39,348.89 Z" fill="#f0281a" fill-opacity="0.85"/>
<circle cx="78.81" cy="319.57" r="1.90" fill="none" stroke="#f0281a" stroke-width="0.5"/>
<line x1="75.60" y1="312.00" x2="80.40" y2="312.00" stroke="#3fcf2a" stroke-width="0.4"/>
<line x1="78.00" y1="309.60" x2="78.00" y2="314.40" stroke="#3fcf2a" stroke-width="0.4"/>
<line x1="80.60" y1="311.00" x2="85.40" y2="311.00" stroke="#3fcf2a" stroke-width="0.4"/>
<line x1="83.00" y1="308.60" x2="83.00" y2="313.40" stroke="#3fcf2a" stroke-width="0.4"/>
<line x1="85.60" y1="313.00" x2="90.40" y2="313.00" stroke="#3fcf2a" stroke-width="0.4"/>
<line x1="88.00" y1="310.60" x2="88.00" y2="315.40" stroke="#3fcf2a" stroke-width="0.4"/>
<line x1="89.60" y1="316.00" x2="94.40" y2="316.00" stroke="#3fcf2a" stroke-width="0.4"/>
<line x1="92.00" y1="313.60" x2="92.00" y2="318.40" stroke="#3fcf2a" stroke-width="0.4"/>
<line x1="93.60" y1="322.00" x2="98.40" y2="322.00" stroke="#3fcf2a" stroke-width="0.4"/>
<line x1="96.00" y1="319.60" x2="96.00" y2="324.40" stroke="#3fcf2a" stroke-width="0.4"/>
<line x1="78.60" y1="318.00" x2="83.40" y2="318.00" stroke="#3fcf2a" stroke-width="0.4"/>
<line x1="81.00" y1="315.60" x2="81.00" y2="320.40" stroke="#3fcf2a" stroke-width="0.4"/>
<line x1="97.60" y1="318.00" x2="102.40" y2="318.00" stroke="#3fcf2a" stroke-width="0.4"/>
<line x1="100.00" y1="315.60" x2="100.00" y2="320.40" stroke="#3fcf2a" stroke-width="0.4"/>
<line x1="83.60" y1="320.00" x2="88.40" y2="320.00" stroke="#3fcf2a" stroke-width="0.4"/>
<line x1="86.00" y1="317.60" x2="86.00" y2="322.40" stroke="#3fcf2a" stroke-width="0.4"/>
<line x1="101.60" y1="336.00" x2="106.40" y2="336.00" stroke="#3fcf2a" stroke-width="0.4"/>
<line x1="104.00" y1="333.60" x2="104.00" y2="338.40" stroke="#3fcf2a" stroke-width="0.4"/>
<path d="M79.00,353.60 L81.28,357.73 L76.72,357.73 Z" fill="none" stroke="#f0281a" stroke-width="0.4"/>
<path d="M84.00,359.60 L86.28,363.73 L81.72,363.73 Z" fill="none" stroke="#f0281a" stroke-width="0.4"/>
<path d="M90.00,363.60 L92.28,367.73 L87.72,367.73 Z" fill="none" stroke="#f0281a" stroke-width="0.4"/>
<path d="M97.00,361.60 L99.28,365.73 L94.72,365.73 Z" fill="none" stroke="#f0281a" stroke-width="0.4"/>
<path d="M101.00,366.60 L103.28,370.73 L98.72,370.73 Z" fill="none" stroke="#f0281a" stroke-width="0.4"/>
<path d="M106.00,369.60 L108.28,373.73 L103.72,373.73 Z" fill="none" stroke="#f0281a" stroke-width="0.4"/>
<circle cx="92.50" cy="379.10" r="2.00" fill="none" stroke="#f0281a" stroke-width="0.4"/>
<circle cx="99.30" cy="406.50" r="2.00" fill="none" stroke="#f0281a" stroke-width="0.4"/>
<circle cx="103.50" cy="412.00" r="2.00" fill="none" stroke="#f0281a" stroke-width="0.4"/>
<circle cx="107.00" cy="419.80" r="2.00" fill="none" stroke="#f0281a" stroke-width="0.4"/>
<circle cx="94.00" cy="371.00" r="2.00" fill="none" stroke="#f0281a" stroke-width="0.4"/>
<circle cx="101.00" cy="376.00" r="2.00" fill="none" stroke="#f0281a" stroke-width="0.4"/>
<path d="M111.90,377.70 L114.56,382.52 L109.24,382.52 Z" fill="none" stroke="#f0281a" stroke-width="0.6"/>
<path d="M103.00,392.70 L105.19,396.66 L100.81,396.66 Z" fill="none" stroke="#f0281a" stroke-width="0.4"/>
<line x1="105.70" y1="356.40" x2="110.50" y2="356.40" stroke="#f0281a" stroke-width="0.5"/>
<line x1="108.10" y1="354.00" x2="108.10" y2="358.80" stroke="#f0281a" stroke-width="0.5"/>
<path d="M111.00,364.10 L113.28,368.23 L108.72,368.23 Z" fill="none" stroke="#f0281a" stroke-width="0.5"/>
<circle cx="108.40" cy="387.50" r="2.20" fill="none" stroke="#3fcf2a" stroke-width="0.6"/>
<line x1="126.70" y1="333.40" x2="131.30" y2="333.40" stroke="#f0281a" stroke-width="0.55"/>
<line x1="129.00" y1="331.10" x2="129.00" y2="335.70" stroke="#f0281a" stroke-width="0.55"/>
<line x1="127.34" y1="331.74" x2="130.66" y2="335.06" stroke="#f0281a" stroke-width="0.55"/>
<line x1="127.34" y1="335.06" x2="130.66" y2="331.74" stroke="#f0281a" stroke-width="0.55"/>
<line x1="129.00" y1="333.40" x2="161.40" y2="297.30" stroke="#f0281a" stroke-width="0.95" stroke-opacity="0.92"/>
<path d="M159.93,298.94 L158.83,302.36 L156.64,300.40 Z" fill="#f0281a" fill-opacity="0.92"/>
<circle cx="162.00" cy="296.60" r="2.30" fill="none" stroke="#f0281a" stroke-width="0.6"/>
<line x1="129.00" y1="333.40" x2="136.90" y2="372.00" stroke="#f0281a" stroke-width="0.95" stroke-opacity="0.92"/>
<path d="M136.46,369.84 L134.36,366.92 L137.24,366.33 Z" fill="#f0281a" fill-opacity="0.92"/>
<path d="M136.90,371.70 L139.56,376.52 L134.24,376.52 Z" fill="none" stroke="#f0281a" stroke-width="0.6"/>
<line x1="129.00" y1="333.40" x2="97.00" y2="330.80" stroke="#f0281a" stroke-width="0.8" stroke-opacity="0.85"/>
<line x1="171.50" y1="321.60" x2="176.10" y2="321.60" stroke="#3fcf2a" stroke-width="0.55"/>
<line x1="173.80" y1="319.30" x2="173.80" y2="323.90" stroke="#3fcf2a" stroke-width="0.55"/>
<line x1="172.14" y1="319.94" x2="175.46" y2="323.26" stroke="#3fcf2a" stroke-width="0.55"/>
<line x1="172.14" y1="323.26" x2="175.46" y2="319.94" stroke="#3fcf2a" stroke-width="0.55"/>
<line x1="173.80" y1="321.60" x2="216.00" y2="322.80" stroke="#3fcf2a" stroke-width="0.95" stroke-opacity="0.92"/>
<path d="M213.80,322.74 L210.47,324.11 L210.56,321.18 Z" fill="#3fcf2a" fill-opacity="0.92"/>
<circle cx="218.00" cy="322.80" r="2.40" fill="none" stroke="#3fcf2a" stroke-width="0.6"/>
<line x1="173.80" y1="321.60" x2="155.20" y2="309.50" stroke="#3fcf2a" stroke-width="0.95" stroke-opacity="0.92"/>
<path d="M157.04,310.70 L160.60,311.26 L159.00,313.72 Z" fill="#3fcf2a" fill-opacity="0.92"/>
<line x1="151.40" y1="309.00" x2="157.00" y2="309.00" stroke="#3fcf2a" stroke-width="0.6"/>
<line x1="154.20" y1="306.20" x2="154.20" y2="311.80" stroke="#3fcf2a" stroke-width="0.6"/>
<line x1="173.80" y1="321.60" x2="156.00" y2="334.20" stroke="#3fcf2a" stroke-width="0.95" stroke-opacity="0.92"/>
<path d="M157.80,332.93 L159.63,329.83 L161.33,332.23 Z" fill="#3fcf2a" fill-opacity="0.92"/>
<path d="M153.80,332.40 L156.46,337.22 L151.14,337.22 Z" fill="none" stroke="#3fcf2a" stroke-width="0.6"/>
<circle cx="169.90" cy="322.20" r="1.90" fill="none" stroke="#3fcf2a" stroke-width="0.6"/>
<line x1="159.70" y1="338.90" x2="164.30" y2="338.90" stroke="#3fcf2a" stroke-width="0.55"/>
<line x1="162.00" y1="336.60" x2="162.00" y2="341.20" stroke="#3fcf2a" stroke-width="0.55"/>
<line x1="160.34" y1="337.24" x2="163.66" y2="340.56" stroke="#3fcf2a" stroke-width="0.55"/>
<line x1="160.34" y1="340.56" x2="163.66" y2="337.24" stroke="#3fcf2a" stroke-width="0.55"/>
<line x1="162.00" y1="338.90" x2="190.50" y2="313.80" stroke="#3fcf2a" stroke-width="0.95" stroke-opacity="0.92"/>
<path d="M188.85,315.25 L187.35,318.53 L185.41,316.32 Z" fill="#3fcf2a" fill-opacity="0.92"/>
<line x1="190.50" y1="313.80" x2="215.00" y2="298.60" stroke="#3fcf2a" stroke-width="0.95" stroke-opacity="0.92"/>
<path d="M213.13,299.76 L211.11,302.74 L209.56,300.25 Z" fill="#3fcf2a" fill-opacity="0.92"/>
<path d="M217.20,294.80 L219.86,299.62 L214.54,299.62 Z" fill="none" stroke="#3fcf2a" stroke-width="0.6"/>
<line x1="198.40" y1="305.50" x2="203.00" y2="305.50" stroke="#3fcf2a" stroke-width="0.55"/>
<line x1="200.70" y1="303.20" x2="200.70" y2="307.80" stroke="#3fcf2a" stroke-width="0.55"/>
<line x1="199.04" y1="303.84" x2="202.36" y2="307.16" stroke="#3fcf2a" stroke-width="0.55"/>
<line x1="199.04" y1="307.16" x2="202.36" y2="303.84" stroke="#3fcf2a" stroke-width="0.55"/>
<line x1="193.10" y1="309.50" x2="197.70" y2="309.50" stroke="#3fcf2a" stroke-width="0.55"/>
<line x1="195.40" y1="307.20" x2="195.40" y2="311.80" stroke="#3fcf2a" stroke-width="0.55"/>
<line x1="193.74" y1="307.84" x2="197.06" y2="311.16" stroke="#3fcf2a" stroke-width="0.55"/>
<line x1="193.74" y1="311.16" x2="197.06" y2="307.84" stroke="#3fcf2a" stroke-width="0.55"/>
<line x1="162.00" y1="338.90" x2="137.50" y2="353.40" stroke="#3fcf2a" stroke-width="0.95" stroke-opacity="0.92"/>
<path d="M139.39,352.28 L141.47,349.34 L142.97,351.87 Z" fill="#3fcf2a" fill-opacity="0.92"/>
<circle cx="135.50" cy="354.20" r="2.20" fill="none" stroke="#3fcf2a" stroke-width="0.6"/>
<line x1="162.00" y1="338.90" x2="158.10" y2="355.60" stroke="#3fcf2a" stroke-width="0.95" stroke-opacity="0.92"/>
<path d="M158.60,353.46 L157.92,349.92 L160.78,350.59 Z" fill="#3fcf2a" fill-opacity="0.92"/>
<line x1="162.00" y1="338.90" x2="148.30" y2="362.50" stroke="#3fcf2a" stroke-width="0.95" stroke-opacity="0.92"/>
<path d="M149.40,360.60 L149.79,357.02 L152.32,358.49 Z" fill="#3fcf2a" fill-opacity="0.92"/>
<line x1="145.50" y1="362.50" x2="151.10" y2="362.50" stroke="#3fcf2a" stroke-width="0.6"/>
<line x1="148.30" y1="359.70" x2="148.30" y2="365.30" stroke="#3fcf2a" stroke-width="0.6"/>
<line x1="173.80" y1="321.60" x2="162.00" y2="338.90" stroke="#3fcf2a" stroke-width="0.95" stroke-opacity="0.92"/>
<path d="M163.24,337.08 L163.88,333.54 L166.30,335.19 Z" fill="#3fcf2a" fill-opacity="0.92"/>
<line x1="148.30" y1="362.50" x2="180.80" y2="373.20" stroke="#3fcf2a" stroke-width="0.95" stroke-opacity="0.92"/>
<path d="M178.71,372.51 L175.13,372.88 L176.05,370.09 Z" fill="#3fcf2a" fill-opacity="0.92"/>
<path d="M182.80,371.40 L185.46,376.22 L180.14,376.22 Z" fill="none" stroke="#3fcf2a" stroke-width="0.6"/>
<line x1="148.30" y1="362.50" x2="104.00" y2="372.00" stroke="#3fcf2a" stroke-width="0.8" stroke-opacity="0.85"/>
<line x1="110.40" y1="316.00" x2="116.00" y2="316.00" stroke="#3fcf2a" stroke-width="0.6"/>
<line x1="113.20" y1="313.20" x2="113.20" y2="318.80" stroke="#3fcf2a" stroke-width="0.6"/>
<line x1="104.00" y1="354.00" x2="113.20" y2="317.00" stroke="#3fcf2a" stroke-width="0.95" stroke-opacity="0.92"/>
<path d="M112.67,319.13 L113.30,322.68 L110.45,321.97 Z" fill="#3fcf2a" fill-opacity="0.92"/>
<line x1="104.00" y1="354.00" x2="118.00" y2="356.00" stroke="#3fcf2a" stroke-width="0.95" stroke-opacity="0.92"/>
<path d="M115.82,355.69 L112.36,356.68 L112.78,353.77 Z" fill="#3fcf2a" fill-opacity="0.92"/>
<line x1="107.70" y1="382.60" x2="118.20" y2="419.10" stroke="#3fcf2a" stroke-width="1.0" stroke-opacity="0.92"/>
<path d="M117.59,416.99 L115.27,414.23 L118.09,413.42 Z" fill="#3fcf2a" fill-opacity="0.92"/>
<circle cx="120.30" cy="425.40" r="2.20" fill="none" stroke="#3fcf2a" stroke-width="0.6"/>
<line x1="113.10" y1="400.20" x2="119.10" y2="400.20" stroke="#f0281a" stroke-width="0.6"/>
<line x1="116.10" y1="397.20" x2="116.10" y2="403.20" stroke="#f0281a" stroke-width="0.6"/>
<line x1="114.70" y1="418.40" x2="114.70" y2="459.00" stroke="#f0281a" stroke-width="0.95" stroke-opacity="0.92"/>
<path d="M114.70,456.80 L113.23,453.51 L116.17,453.51 Z" fill="#f0281a" fill-opacity="0.92"/>
<circle cx="114.70" cy="462.00" r="2.30" fill="none" stroke="#f0281a" stroke-width="0.6"/>
<line x1="97.90" y1="370.00" x2="100.70" y2="403.00" stroke="#f0281a" stroke-width="0.95" stroke-opacity="0.92"/>
<path d="M100.51,400.81 L98.77,397.66 L101.70,397.41 Z" fill="#f0281a" fill-opacity="0.92"/>
<line x1="99.50" y1="372.00" x2="104.00" y2="410.00" stroke="#f0281a" stroke-width="0.95" stroke-opacity="0.92"/>
<path d="M103.74,407.82 L101.90,404.72 L104.81,404.38 Z" fill="#f0281a" fill-opacity="0.92"/>
<line x1="102.00" y1="375.00" x2="107.50" y2="417.00" stroke="#f0281a" stroke-width="0.95" stroke-opacity="0.92"/>
<path d="M107.21,414.82 L105.33,411.75 L108.24,411.37 Z" fill="#f0281a" fill-opacity="0.92"/>
<line x1="106.30" y1="384.00" x2="114.00" y2="418.40" stroke="#f0281a" stroke-width="0.95" stroke-opacity="0.92"/>
<path d="M113.52,416.25 L111.37,413.37 L114.23,412.72 Z" fill="#f0281a" fill-opacity="0.92"/>
<line x1="104.00" y1="382.00" x2="112.00" y2="414.00" stroke="#f0281a" stroke-width="0.95" stroke-opacity="0.92"/>
<path d="M111.47,411.87 L109.25,409.03 L112.09,408.32 Z" fill="#f0281a" fill-opacity="0.92"/>
<line x1="127.40" y1="453.50" x2="132.00" y2="453.50" stroke="#f0281a" stroke-width="0.55"/>
<line x1="129.70" y1="451.20" x2="129.70" y2="455.80" stroke="#f0281a" stroke-width="0.55"/>
<line x1="128.04" y1="451.84" x2="131.36" y2="455.16" stroke="#f0281a" stroke-width="0.55"/>
<line x1="128.04" y1="455.16" x2="131.36" y2="451.84" stroke="#f0281a" stroke-width="0.55"/>
<line x1="129.70" y1="453.50" x2="129.70" y2="436.50" stroke="#f0281a" stroke-width="0.95" stroke-opacity="0.92"/>
<path d="M129.70,438.70 L131.17,441.99 L128.23,441.99 Z" fill="#f0281a" fill-opacity="0.92"/>
<circle cx="129.70" cy="433.80" r="2.40" fill="none" stroke="#f0281a" stroke-width="0.6"/>
<line x1="129.70" y1="453.50" x2="141.00" y2="460.40" stroke="#f0281a" stroke-width="0.95" stroke-opacity="0.92"/>
<path d="M139.12,459.25 L135.55,458.79 L137.08,456.29 Z" fill="#f0281a" fill-opacity="0.92"/>
<path d="M143.00,459.20 L145.28,463.33 L140.72,463.33 Z" fill="none" stroke="#f0281a" stroke-width="0.6"/>
<line x1="129.70" y1="453.50" x2="121.50" y2="461.00" stroke="#f0281a" stroke-width="0.95" stroke-opacity="0.92"/>
<path d="M123.12,459.52 L124.56,456.21 L126.54,458.38 Z" fill="#f0281a" fill-opacity="0.92"/>
<line x1="117.90" y1="461.90" x2="122.70" y2="461.90" stroke="#f0281a" stroke-width="0.6"/>
<line x1="120.30" y1="459.50" x2="120.30" y2="464.30" stroke="#f0281a" stroke-width="0.6"/>
<g transform="translate(64.20 379.40) rotate(-90)">
<text x="0.00" y="3.65" font-size="10.2" font-weight="bold" stroke="#000" stroke-width="0.22" fill="#000" text-anchor="middle">Dimension 2</text>
</g>
<text x="147.80" y="480.29" font-size="10.3" font-weight="bold" stroke="#000" stroke-width="0.23" fill="#000" text-anchor="middle">Dimension 1</text>
<text x="233.30" y="341.90" font-size="10" font-weight="bold" stroke="#000" stroke-width="0.22" fill="#000" text-anchor="start">group</text>
<circle cx="237.50" cy="351.20" r="2.50" fill="#f0281a" stroke="none" stroke-width="0.5"/>
<circle cx="237.50" cy="360.10" r="2.50" fill="#3fcf2a" stroke="none" stroke-width="0.5"/>
<text x="245.20" y="353.66" font-size="6.6" fill="#000" text-anchor="start">Cancer</text>
<text x="245.20" y="362.56" font-size="6.6" fill="#000" text-anchor="start">Control</text>
<text x="233.30" y="385.60" font-size="10" font-weight="bold" stroke="#000" stroke-width="0.22" fill="#000" text-anchor="start">Block</text>
<line x1="234.30" y1="394.40" x2="240.70" y2="394.40" stroke="#333" stroke-width="0.45"/>
<line x1="237.50" y1="391.20" x2="237.50" y2="397.60" stroke="#333" stroke-width="0.45"/>
<text x="245.20" y="396.86" font-size="6.6" fill="#000" text-anchor="start">AS</text>
<line x1="234.50" y1="403.80" x2="240.50" y2="403.80" stroke="#333" stroke-width="0.45"/>
<line x1="237.50" y1="400.80" x2="237.50" y2="406.80" stroke="#333" stroke-width="0.45"/>
<line x1="235.34" y1="401.64" x2="239.66" y2="405.96" stroke="#333" stroke-width="0.45"/>
<line x1="235.34" y1="405.96" x2="239.66" y2="401.64" stroke="#333" stroke-width="0.45"/>
<text x="245.20" y="406.26" font-size="6.6" fill="#000" text-anchor="start">centroid</text>
<circle cx="237.50" cy="412.70" r="2.40" fill="none" stroke="#333" stroke-width="0.45"/>
<text x="245.20" y="415.16" font-size="6.6" fill="#000" text-anchor="start">m6A</text>
<path d="M237.50,418.60 L240.54,424.10 L234.46,424.10 Z" fill="none" stroke="#333" stroke-width="0.45"/>
<text x="245.20" y="423.96" font-size="6.6" fill="#000" text-anchor="start">mRNA</text>
<text x="14.20" y="480.20" font-size="20.3" font-weight="bold" stroke="#000" stroke-width="0.45" fill="#000" text-anchor="start">G</text>
<text x="51.90" y="494.91" font-size="7" fill="#111" text-anchor="start">PLSDA analysis</text>
<rect x="52.30" y="497.70" width="76.50" height="7.40" fill="#d2d2d2" stroke="#444" stroke-width="0.4"/>
<text x="90.55" y="503.40" font-size="5.3" font-weight="bold" stroke="#111" stroke-width="0.12" fill="#111" text-anchor="middle">Block: m6A</text>
<rect x="52.30" y="505.10" width="76.50" height="87.70" fill="#fff" stroke="#444" stroke-width="0.4"/>
<line x1="52.30" y1="508.50" x2="128.80" y2="508.50" stroke="#e4e4e4" stroke-width="0.35"/>
<line x1="52.30" y1="517.20" x2="128.80" y2="517.20" stroke="#eeeeee" stroke-width="0.25"/>
<line x1="52.30" y1="525.90" x2="128.80" y2="525.90" stroke="#e4e4e4" stroke-width="0.35"/>
<line x1="52.30" y1="534.55" x2="128.80" y2="534.55" stroke="#eeeeee" stroke-width="0.25"/>
<line x1="52.30" y1="543.20" x2="128.80" y2="543.20" stroke="#e4e4e4" stroke-width="0.35"/>
<line x1="52.30" y1="551.80" x2="128.80" y2="551.80" stroke="#eeeeee" stroke-width="0.25"/>
<line x1="52.30" y1="560.40" x2="128.80" y2="560.40" stroke="#e4e4e4" stroke-width="0.35"/>
<line x1="52.30" y1="569.05" x2="128.80" y2="569.05" stroke="#eeeeee" stroke-width="0.25"/>
<line x1="52.30" y1="577.70" x2="128.80" y2="577.70" stroke="#e4e4e4" stroke-width="0.35"/>
<line x1="65.10" y1="505.10" x2="65.10" y2="592.80" stroke="#e4e4e4" stroke-width="0.35"/>
<line x1="75.85" y1="505.10" x2="75.85" y2="592.80" stroke="#eeeeee" stroke-width="0.25"/>
<line x1="86.60" y1="505.10" x2="86.60" y2="592.80" stroke="#e4e4e4" stroke-width="0.35"/>
<line x1="97.30" y1="505.10" x2="97.30" y2="592.80" stroke="#eeeeee" stroke-width="0.25"/>
<line x1="108.00" y1="505.10" x2="108.00" y2="592.80" stroke="#e4e4e4" stroke-width="0.35"/>
<text x="50.70" y="510.61" font-size="5.9" fill="#4d4d4d" text-anchor="end">5.0</text>
<line x1="51.30" y1="508.50" x2="52.30" y2="508.50" stroke="#444" stroke-width="0.35"/>
<text x="50.70" y="528.01" font-size="5.9" fill="#4d4d4d" text-anchor="end">2.5</text>
<line x1="51.30" y1="525.90" x2="52.30" y2="525.90" stroke="#444" stroke-width="0.35"/>
<text x="50.70" y="545.31" font-size="5.9" fill="#4d4d4d" text-anchor="end">0.0</text>
<line x1="51.30" y1="543.20" x2="52.30" y2="543.20" stroke="#444" stroke-width="0.35"/>
<text x="50.70" y="562.51" font-size="5.9" fill="#4d4d4d" text-anchor="end">-2.5</text>
<line x1="51.30" y1="560.40" x2="52.30" y2="560.40" stroke="#444" stroke-width="0.35"/>
<text x="50.70" y="579.81" font-size="5.9" fill="#4d4d4d" text-anchor="end">-5.0</text>
<line x1="51.30" y1="577.70" x2="52.30" y2="577.70" stroke="#444" stroke-width="0.35"/>
<text x="65.10" y="599.61" font-size="5.9" fill="#4d4d4d" text-anchor="middle">-5</text>
<line x1="65.10" y1="592.80" x2="65.10" y2="593.80" stroke="#444" stroke-width="0.35"/>
<text x="86.60" y="599.61" font-size="5.9" fill="#4d4d4d" text-anchor="middle">0</text>
<line x1="86.60" y1="592.80" x2="86.60" y2="593.80" stroke="#444" stroke-width="0.35"/>
<text x="108.00" y="599.61" font-size="5.9" fill="#4d4d4d" text-anchor="middle">5</text>
<line x1="108.00" y1="592.80" x2="108.00" y2="593.80" stroke="#444" stroke-width="0.35"/>
<text x="90.50" y="606.13" font-size="6.5" fill="#111" text-anchor="middle">Variate 1</text>
<g transform="translate(36.60 549.40) rotate(-90)">
<text x="0.00" y="2.36" font-size="6.6" fill="#111" text-anchor="middle">Variate 2</text>
</g>
<ellipse cx="87.50" cy="537.60" rx="32.40" ry="27.60" transform="rotate(8 87.50 537.60)" fill="none" stroke="#2fd62f" stroke-width="1.0"/>
<ellipse cx="86.10" cy="549.40" rx="17.40" ry="40.40" transform="rotate(0 86.10 549.40)" fill="none" stroke="#f03030" stroke-width="1.0"/>
<circle cx="77.00" cy="525.00" r="1.60" fill="none" stroke="#f03030" stroke-width="0.55"/>
<circle cx="106.00" cy="519.10" r="1.60" fill="none" stroke="#f03030" stroke-width="0.55"/>
<circle cx="79.50" cy="534.30" r="1.60" fill="none" stroke="#f03030" stroke-width="0.55"/>
<circle cx="81.30" cy="540.60" r="1.60" fill="none" stroke="#f03030" stroke-width="0.55"/>
<circle cx="82.80" cy="545.60" r="1.60" fill="none" stroke="#f03030" stroke-width="0.55"/>
<circle cx="84.60" cy="546.20" r="1.60" fill="none" stroke="#f03030" stroke-width="0.55"/>
<circle cx="82.00" cy="548.70" r="1.60" fill="none" stroke="#f03030" stroke-width="0.55"/>
<circle cx="84.10" cy="558.80" r="1.60" fill="none" stroke="#f03030" stroke-width="0.55"/>
<circle cx="85.80" cy="562.00" r="1.60" fill="none" stroke="#f03030" stroke-width="0.55"/>
<circle cx="87.10" cy="564.60" r="1.60" fill="none" stroke="#f03030" stroke-width="0.55"/>
<circle cx="94.70" cy="569.60" r="1.60" fill="none" stroke="#f03030" stroke-width="0.55"/>
<circle cx="89.60" cy="580.00" r="1.60" fill="none" stroke="#f03030" stroke-width="0.55"/>
<circle cx="80.50" cy="543.50" r="1.60" fill="none" stroke="#f03030" stroke-width="0.55"/>
<path d="M77.00,522.90 L79.00,526.51 L75.00,526.51 Z" fill="none" stroke="#2fd62f" stroke-width="0.55"/>
<path d="M78.80,527.10 L80.80,530.71 L76.80,530.71 Z" fill="none" stroke="#2fd62f" stroke-width="0.55"/>
<path d="M80.30,532.20 L82.30,535.81 L78.30,535.81 Z" fill="none" stroke="#2fd62f" stroke-width="0.55"/>
<path d="M82.00,537.20 L84.00,540.81 L80.00,540.81 Z" fill="none" stroke="#2fd62f" stroke-width="0.55"/>
<path d="M83.30,539.80 L85.30,543.41 L81.30,543.41 Z" fill="none" stroke="#2fd62f" stroke-width="0.55"/>
<path d="M87.10,549.90 L89.09,553.51 L85.10,553.51 Z" fill="none" stroke="#2fd62f" stroke-width="0.55"/>
<path d="M90.40,538.50 L92.40,542.11 L88.41,542.11 Z" fill="none" stroke="#2fd62f" stroke-width="0.55"/>
<path d="M96.40,538.00 L98.40,541.61 L94.41,541.61 Z" fill="none" stroke="#2fd62f" stroke-width="0.55"/>
<path d="M108.60,526.60 L110.59,530.21 L106.60,530.21 Z" fill="none" stroke="#2fd62f" stroke-width="0.55"/>
<path d="M125.00,525.90 L127.00,529.51 L123.00,529.51 Z" fill="none" stroke="#2fd62f" stroke-width="0.55"/>
<path d="M90.90,563.70 L92.90,567.31 L88.91,567.31 Z" fill="none" stroke="#2fd62f" stroke-width="0.55"/>
<path d="M81.20,534.70 L83.20,538.31 L79.20,538.31 Z" fill="none" stroke="#2fd62f" stroke-width="0.55"/>
<rect x="142.40" y="497.70" width="76.60" height="7.40" fill="#d2d2d2" stroke="#444" stroke-width="0.4"/>
<text x="180.70" y="503.40" font-size="5.3" font-weight="bold" stroke="#111" stroke-width="0.12" fill="#111" text-anchor="middle">Block: mRNA</text>
<rect x="142.40" y="505.10" width="76.60" height="87.70" fill="#fff" stroke="#444" stroke-width="0.4"/>
<line x1="142.40" y1="506.50" x2="219.00" y2="506.50" stroke="#e4e4e4" stroke-width="0.35"/>
<line x1="142.40" y1="514.65" x2="219.00" y2="514.65" stroke="#eeeeee" stroke-width="0.25"/>
<line x1="142.40" y1="522.80" x2="219.00" y2="522.80" stroke="#e4e4e4" stroke-width="0.35"/>
<line x1="142.40" y1="531.00" x2="219.00" y2="531.00" stroke="#eeeeee" stroke-width="0.25"/>
<line x1="142.40" y1="539.20" x2="219.00" y2="539.20" stroke="#e4e4e4" stroke-width="0.35"/>
<line x1="142.40" y1="547.45" x2="219.00" y2="547.45" stroke="#eeeeee" stroke-width="0.25"/>
<line x1="142.40" y1="555.70" x2="219.00" y2="555.70" stroke="#e4e4e4" stroke-width="0.35"/>
<line x1="142.40" y1="563.95" x2="219.00" y2="563.95" stroke="#eeeeee" stroke-width="0.25"/>
<line x1="142.40" y1="572.20" x2="219.00" y2="572.20" stroke="#e4e4e4" stroke-width="0.35"/>
<line x1="142.40" y1="580.50" x2="219.00" y2="580.50" stroke="#eeeeee" stroke-width="0.25"/>
<line x1="142.40" y1="588.80" x2="219.00" y2="588.80" stroke="#e4e4e4" stroke-width="0.35"/>
<line x1="142.60" y1="505.10" x2="142.60" y2="592.80" stroke="#e4e4e4" stroke-width="0.35"/>
<line x1="151.55" y1="505.10" x2="151.55" y2="592.80" stroke="#eeeeee" stroke-width="0.25"/>
<line x1="160.50" y1="505.10" x2="160.50" y2="592.80" stroke="#e4e4e4" stroke-width="0.35"/>
<line x1="169.50" y1="505.10" x2="169.50" y2="592.80" stroke="#eeeeee" stroke-width="0.25"/>
<line x1="178.50" y1="505.10" x2="178.50" y2="592.80" stroke="#e4e4e4" stroke-width="0.35"/>
<line x1="187.50" y1="505.10" x2="187.50" y2="592.80" stroke="#eeeeee" stroke-width="0.25"/>
<line x1="196.50" y1="505.10" x2="196.50" y2="592.80" stroke="#e4e4e4" stroke-width="0.35"/>
<line x1="205.50" y1="505.10" x2="205.50" y2="592.80" stroke="#eeeeee" stroke-width="0.25"/>
<line x1="214.50" y1="505.10" x2="214.50" y2="592.80" stroke="#e4e4e4" stroke-width="0.35"/>
<text x="140.80" y="508.61" font-size="5.9" fill="#4d4d4d" text-anchor="end">5.0</text>
<line x1="141.40" y1="506.50" x2="142.40" y2="506.50" stroke="#444" stroke-width="0.35"/>
<text x="140.80" y="524.91" font-size="5.9" fill="#4d4d4d" text-anchor="end">2.5</text>
<line x1="141.40" y1="522.80" x2="142.40" y2="522.80" stroke="#444" stroke-width="0.35"/>
<text x="140.80" y="541.31" font-size="5.9" fill="#4d4d4d" text-anchor="end">0.0</text>
<line x1="141.40" y1="539.20" x2="142.40" y2="539.20" stroke="#444" stroke-width="0.35"/>
<text x="140.80" y="557.81" font-size="5.9" fill="#4d4d4d" text-anchor="end">-2.5</text>
<line x1="141.40" y1="555.70" x2="142.40" y2="555.70" stroke="#444" stroke-width="0.35"/>
<text x="140.80" y="574.31" font-size="5.9" fill="#4d4d4d" text-anchor="end">-5.0</text>
<line x1="141.40" y1="572.20" x2="142.40" y2="572.20" stroke="#444" stroke-width="0.35"/>
<text x="140.80" y="590.91" font-size="5.9" fill="#4d4d4d" text-anchor="end">-7.5</text>
<line x1="141.40" y1="588.80" x2="142.40" y2="588.80" stroke="#444" stroke-width="0.35"/>
<text x="142.60" y="599.61" font-size="5.9" fill="#4d4d4d" text-anchor="middle">-10</text>
<line x1="142.60" y1="592.80" x2="142.60" y2="593.80" stroke="#444" stroke-width="0.35"/>
<text x="160.50" y="599.61" font-size="5.9" fill="#4d4d4d" text-anchor="middle">-5</text>
<line x1="160.50" y1="592.80" x2="160.50" y2="593.80" stroke="#444" stroke-width="0.35"/>
<text x="178.50" y="599.61" font-size="5.9" fill="#4d4d4d" text-anchor="middle">0</text>
<line x1="178.50" y1="592.80" x2="178.50" y2="593.80" stroke="#444" stroke-width="0.35"/>
<text x="196.50" y="599.61" font-size="5.9" fill="#4d4d4d" text-anchor="middle">5</text>
<line x1="196.50" y1="592.80" x2="196.50" y2="593.80" stroke="#444" stroke-width="0.35"/>
<text x="214.50" y="599.61" font-size="5.9" fill="#4d4d4d" text-anchor="middle">10</text>
<line x1="214.50" y1="592.80" x2="214.50" y2="593.80" stroke="#444" stroke-width="0.35"/>
<text x="180.00" y="606.13" font-size="6.5" fill="#111" text-anchor="middle">Variate 1</text>
<ellipse cx="179.90" cy="534.70" rx="35.00" ry="19.00" transform="rotate(-12 179.90 534.70)" fill="none" stroke="#2fd62f" stroke-width="1.0"/>
<ellipse cx="176.30" cy="544.00" rx="37.50" ry="9.50" transform="rotate(68 176.30 544.00)" fill="none" stroke="#f03030" stroke-width="1.0"/>
<circle cx="170.69" cy="536.72" r="1.60" fill="none" stroke="#f03030" stroke-width="0.55"/>
<circle cx="171.35" cy="537.02" r="1.60" fill="none" stroke="#f03030" stroke-width="0.55"/>
<circle cx="172.63" cy="534.33" r="1.60" fill="none" stroke="#f03030" stroke-width="0.55"/>
<circle cx="169.57" cy="538.19" r="1.60" fill="none" stroke="#f03030" stroke-width="0.55"/>
<circle cx="170.80" cy="535.17" r="1.60" fill="none" stroke="#f03030" stroke-width="0.55"/>
<circle cx="174.48" cy="536.35" r="1.60" fill="none" stroke="#f03030" stroke-width="0.55"/>
<circle cx="173.68" cy="536.38" r="1.60" fill="none" stroke="#f03030" stroke-width="0.55"/>
<circle cx="180.10" cy="542.70" r="1.60" fill="none" stroke="#f03030" stroke-width="0.55"/>
<circle cx="180.10" cy="549.80" r="1.60" fill="none" stroke="#f03030" stroke-width="0.55"/>
<circle cx="188.90" cy="547.20" r="1.60" fill="none" stroke="#f03030" stroke-width="0.55"/>
<circle cx="179.20" cy="556.60" r="1.60" fill="none" stroke="#f03030" stroke-width="0.55"/>
<circle cx="191.00" cy="589.30" r="1.60" fill="none" stroke="#f03030" stroke-width="0.55"/>
<circle cx="177.00" cy="534.00" r="1.60" fill="none" stroke="#f03030" stroke-width="0.55"/>
<path d="M173.53,530.15 L175.53,533.77 L171.54,533.77 Z" fill="none" stroke="#2fd62f" stroke-width="0.55"/>
<path d="M173.51,533.74 L175.50,537.35 L171.51,537.35 Z" fill="none" stroke="#2fd62f" stroke-width="0.55"/>
<path d="M172.84,533.11 L174.83,536.72 L170.84,536.72 Z" fill="none" stroke="#2fd62f" stroke-width="0.55"/>
<path d="M173.73,529.72 L175.72,533.33 L171.73,533.33 Z" fill="none" stroke="#2fd62f" stroke-width="0.55"/>
<path d="M174.25,532.36 L176.24,535.97 L172.25,535.97 Z" fill="none" stroke="#2fd62f" stroke-width="0.55"/>
<path d="M171.51,529.56 L173.50,533.17 L169.51,533.17 Z" fill="none" stroke="#2fd62f" stroke-width="0.55"/>
<path d="M174.89,531.76 L176.89,535.38 L172.90,535.38 Z" fill="none" stroke="#2fd62f" stroke-width="0.55"/>
<path d="M174.01,533.79 L176.01,537.41 L172.02,537.41 Z" fill="none" stroke="#2fd62f" stroke-width="0.55"/>
<path d="M173.98,534.01 L175.98,537.62 L171.99,537.62 Z" fill="none" stroke="#2fd62f" stroke-width="0.55"/>
<path d="M215.40,506.80 L217.40,510.41 L213.41,510.41 Z" fill="none" stroke="#2fd62f" stroke-width="0.55"/>
<path d="M194.20,525.00 L196.19,528.61 L192.20,528.61 Z" fill="none" stroke="#2fd62f" stroke-width="0.55"/>
<path d="M195.40,536.20 L197.40,539.81 L193.41,539.81 Z" fill="none" stroke="#2fd62f" stroke-width="0.55"/>
<path d="M203.60,544.20 L205.59,547.81 L201.60,547.81 Z" fill="none" stroke="#2fd62f" stroke-width="0.55"/>
<path d="M174.80,542.10 L176.80,545.71 L172.81,545.71 Z" fill="none" stroke="#2fd62f" stroke-width="0.55"/>
<rect x="230.10" y="497.70" width="78.70" height="7.40" fill="#d2d2d2" stroke="#444" stroke-width="0.4"/>
<text x="269.45" y="503.40" font-size="5.3" font-weight="bold" stroke="#111" stroke-width="0.12" fill="#111" text-anchor="middle">Block: AS</text>
<rect x="230.10" y="505.10" width="78.70" height="87.70" fill="#fff" stroke="#444" stroke-width="0.4"/>
<line x1="230.10" y1="520.40" x2="308.80" y2="520.40" stroke="#e4e4e4" stroke-width="0.35"/>
<line x1="230.10" y1="530.35" x2="308.80" y2="530.35" stroke="#eeeeee" stroke-width="0.25"/>
<line x1="230.10" y1="540.30" x2="308.80" y2="540.30" stroke="#e4e4e4" stroke-width="0.35"/>
<line x1="230.10" y1="550.25" x2="308.80" y2="550.25" stroke="#eeeeee" stroke-width="0.25"/>
<line x1="230.10" y1="560.20" x2="308.80" y2="560.20" stroke="#e4e4e4" stroke-width="0.35"/>
<line x1="230.10" y1="570.15" x2="308.80" y2="570.15" stroke="#eeeeee" stroke-width="0.25"/>
<line x1="230.10" y1="580.10" x2="308.80" y2="580.10" stroke="#e4e4e4" stroke-width="0.35"/>
<line x1="230.40" y1="505.10" x2="230.40" y2="592.80" stroke="#e4e4e4" stroke-width="0.35"/>
<line x1="239.20" y1="505.10" x2="239.20" y2="592.80" stroke="#eeeeee" stroke-width="0.25"/>
<line x1="248.00" y1="505.10" x2="248.00" y2="592.80" stroke="#e4e4e4" stroke-width="0.35"/>
<line x1="256.80" y1="505.10" x2="256.80" y2="592.80" stroke="#eeeeee" stroke-width="0.25"/>
<line x1="265.60" y1="505.10" x2="265.60" y2="592.80" stroke="#e4e4e4" stroke-width="0.35"/>
<line x1="274.40" y1="505.10" x2="274.40" y2="592.80" stroke="#eeeeee" stroke-width="0.25"/>
<line x1="283.20" y1="505.10" x2="283.20" y2="592.80" stroke="#e4e4e4" stroke-width="0.35"/>
<line x1="292.00" y1="505.10" x2="292.00" y2="592.80" stroke="#eeeeee" stroke-width="0.25"/>
<line x1="300.80" y1="505.10" x2="300.80" y2="592.80" stroke="#e4e4e4" stroke-width="0.35"/>
<text x="228.50" y="522.51" font-size="5.9" fill="#4d4d4d" text-anchor="end">5</text>
<line x1="229.10" y1="520.40" x2="230.10" y2="520.40" stroke="#444" stroke-width="0.35"/>
<text x="228.50" y="542.41" font-size="5.9" fill="#4d4d4d" text-anchor="end">0</text>
<line x1="229.10" y1="540.30" x2="230.10" y2="540.30" stroke="#444" stroke-width="0.35"/>
<text x="228.50" y="562.31" font-size="5.9" fill="#4d4d4d" text-anchor="end">-5</text>
<line x1="229.10" y1="560.20" x2="230.10" y2="560.20" stroke="#444" stroke-width="0.35"/>
<text x="228.50" y="582.21" font-size="5.9" fill="#4d4d4d" text-anchor="end">-10</text>
<line x1="229.10" y1="580.10" x2="230.10" y2="580.10" stroke="#444" stroke-width="0.35"/>
<text x="230.40" y="599.61" font-size="5.9" fill="#4d4d4d" text-anchor="middle">-6</text>
<line x1="230.40" y1="592.80" x2="230.40" y2="593.80" stroke="#444" stroke-width="0.35"/>
<text x="248.00" y="599.61" font-size="5.9" fill="#4d4d4d" text-anchor="middle">-3</text>
<line x1="248.00" y1="592.80" x2="248.00" y2="593.80" stroke="#444" stroke-width="0.35"/>
<text x="265.60" y="599.61" font-size="5.9" fill="#4d4d4d" text-anchor="middle">0</text>
<line x1="265.60" y1="592.80" x2="265.60" y2="593.80" stroke="#444" stroke-width="0.35"/>
<text x="283.20" y="599.61" font-size="5.9" fill="#4d4d4d" text-anchor="middle">3</text>
<line x1="283.20" y1="592.80" x2="283.20" y2="593.80" stroke="#444" stroke-width="0.35"/>
<text x="300.80" y="599.61" font-size="5.9" fill="#4d4d4d" text-anchor="middle">6</text>
<line x1="300.80" y1="592.80" x2="300.80" y2="593.80" stroke="#444" stroke-width="0.35"/>
<text x="269.50" y="606.13" font-size="6.5" fill="#111" text-anchor="middle">Variate 1</text>
<ellipse cx="269.90" cy="536.00" rx="35.80" ry="6.60" transform="rotate(-5 269.90 536.00)" fill="none" stroke="#2fd62f" stroke-width="1.0"/>
<ellipse cx="261.80" cy="545.60" rx="37.30" ry="5.60" transform="rotate(75 261.80 545.60)" fill="none" stroke="#f03030" stroke-width="1.0"/>
<circle cx="259.05" cy="541.44" r="1.60" fill="none" stroke="#f03030" stroke-width="0.55"/>
<circle cx="259.31" cy="542.09" r="1.60" fill="none" stroke="#f03030" stroke-width="0.55"/>
<circle cx="261.57" cy="538.07" r="1.60" fill="none" stroke="#f03030" stroke-width="0.55"/>
<circle cx="257.71" cy="538.64" r="1.60" fill="none" stroke="#f03030" stroke-width="0.55"/>
<circle cx="262.02" cy="539.69" r="1.60" fill="none" stroke="#f03030" stroke-width="0.55"/>
<circle cx="260.26" cy="539.04" r="1.60" fill="none" stroke="#f03030" stroke-width="0.55"/>
<circle cx="259.64" cy="539.45" r="1.60" fill="none" stroke="#f03030" stroke-width="0.55"/>
<circle cx="258.82" cy="540.41" r="1.60" fill="none" stroke="#f03030" stroke-width="0.55"/>
<circle cx="267.60" cy="550.70" r="1.60" fill="none" stroke="#f03030" stroke-width="0.55"/>
<circle cx="270.20" cy="566.30" r="1.60" fill="none" stroke="#f03030" stroke-width="0.55"/>
<circle cx="271.40" cy="589.30" r="1.60" fill="none" stroke="#f03030" stroke-width="0.55"/>
<circle cx="263.00" cy="545.50" r="1.60" fill="none" stroke="#f03030" stroke-width="0.55"/>
<path d="M260.04,534.12 L262.03,537.73 L258.04,537.73 Z" fill="none" stroke="#2fd62f" stroke-width="0.55"/>
<path d="M260.55,534.22 L262.54,537.83 L258.55,537.83 Z" fill="none" stroke="#2fd62f" stroke-width="0.55"/>
<path d="M261.45,534.46 L263.45,538.08 L259.46,538.08 Z" fill="none" stroke="#2fd62f" stroke-width="0.55"/>
<path d="M260.49,531.15 L262.49,534.76 L258.50,534.76 Z" fill="none" stroke="#2fd62f" stroke-width="0.55"/>
<path d="M261.48,534.36 L263.47,537.97 L259.48,537.97 Z" fill="none" stroke="#2fd62f" stroke-width="0.55"/>
<path d="M261.70,532.78 L263.70,536.39 L259.71,536.39 Z" fill="none" stroke="#2fd62f" stroke-width="0.55"/>
<path d="M260.71,531.34 L262.71,534.96 L258.72,534.96 Z" fill="none" stroke="#2fd62f" stroke-width="0.55"/>
<path d="M261.32,532.79 L263.32,536.41 L259.33,536.41 Z" fill="none" stroke="#2fd62f" stroke-width="0.55"/>
<path d="M258.48,530.75 L260.48,534.37 L256.49,534.37 Z" fill="none" stroke="#2fd62f" stroke-width="0.55"/>
<path d="M269.90,533.00 L271.89,536.61 L267.90,536.61 Z" fill="none" stroke="#2fd62f" stroke-width="0.55"/>
<path d="M282.30,530.00 L284.30,533.61 L280.31,533.61 Z" fill="none" stroke="#2fd62f" stroke-width="0.55"/>
<path d="M285.50,540.30 L287.50,543.91 L283.50,543.91 Z" fill="none" stroke="#2fd62f" stroke-width="0.55"/>
<path d="M295.80,530.90 L297.80,534.51 L293.81,534.51 Z" fill="none" stroke="#2fd62f" stroke-width="0.55"/>
<path d="M303.20,525.90 L305.19,529.51 L301.20,529.51 Z" fill="none" stroke="#2fd62f" stroke-width="0.55"/>
<text x="314.10" y="545.62" font-size="6.2" fill="#111" text-anchor="start">Legend</text>
<circle cx="316.60" cy="550.70" r="1.40" fill="none" stroke="#f03030" stroke-width="0.45"/>
<path d="M316.60,554.40 L318.31,557.50 L314.89,557.50 Z" fill="none" stroke="#2fd62f" stroke-width="0.45"/>
<text x="320.90" y="552.73" font-size="5.4" fill="#111" text-anchor="start">Cancer</text>
<text x="320.90" y="558.03" font-size="5.4" fill="#111" text-anchor="start">Control</text>
<text x="411.30" y="518.90" font-size="20.3" font-weight="bold" stroke="#000" stroke-width="0.45" fill="#000" text-anchor="start">H</text>
<text x="483.50" y="526.12" font-size="10.1" font-weight="bold" stroke="#000" stroke-width="0.22" fill="#000" text-anchor="start">Correlation between omics</text>
<rect x="487.60" y="534.60" width="40.10" height="42.00" fill="#f4c1b3" stroke="#fff" stroke-width="0.3" stroke-opacity="0.5"/>
<text x="507.65" y="558.54" font-size="8.2" fill="#1a1a1a" text-anchor="middle">0.62</text>
<rect x="527.70" y="534.60" width="40.00" height="42.00" fill="#f09481" stroke="#fff" stroke-width="0.3" stroke-opacity="0.5"/>
<text x="547.70" y="558.54" font-size="8.2" fill="#1a1a1a" text-anchor="middle">0.71</text>
<rect x="567.70" y="534.60" width="39.50" height="42.00" fill="#fa1e10" stroke="#fff" stroke-width="0.3" stroke-opacity="0.5"/>
<text x="587.45" y="558.54" font-size="8.2" fill="#1a1a1a" text-anchor="middle">1</text>
<rect x="487.60" y="576.60" width="40.10" height="42.00" fill="#f8291a" stroke="#fff" stroke-width="0.3" stroke-opacity="0.5"/>
<text x="507.65" y="600.54" font-size="8.2" fill="#1a1a1a" text-anchor="middle">0.9</text>
<rect x="527.70" y="576.60" width="40.00" height="42.00" fill="#fa1e10" stroke="#fff" stroke-width="0.3" stroke-opacity="0.5"/>
<text x="547.70" y="600.54" font-size="8.2" fill="#1a1a1a" text-anchor="middle">1</text>
<rect x="487.60" y="618.60" width="40.10" height="42.40" fill="#fa1e10" stroke="#fff" stroke-width="0.3" stroke-opacity="0.5"/>
<text x="507.65" y="642.74" font-size="8.2" fill="#1a1a1a" text-anchor="middle">1</text>
<line x1="483.70" y1="530.50" x2="483.70" y2="665.00" stroke="#333" stroke-width="0.6"/>
<line x1="483.70" y1="665.00" x2="612.10" y2="665.00" stroke="#333" stroke-width="0.6"/>
<text x="480.60" y="558.54" font-size="8.2" fill="#4d4d4d" text-anchor="end">m6A</text>
<line x1="482.30" y1="555.60" x2="483.70" y2="555.60" stroke="#333" stroke-width="0.5"/>
<text x="480.60" y="600.54" font-size="8.2" fill="#4d4d4d" text-anchor="end">mRNA</text>
<line x1="482.30" y1="597.60" x2="483.70" y2="597.60" stroke="#333" stroke-width="0.5"/>
<text x="480.60" y="642.74" font-size="8.2" fill="#4d4d4d" text-anchor="end">AS</text>
<line x1="482.30" y1="639.80" x2="483.70" y2="639.80" stroke="#333" stroke-width="0.5"/>
<line x1="507.65" y1="665.00" x2="507.65" y2="666.40" stroke="#333" stroke-width="0.5"/>
<g transform="translate(513.65 668.2) rotate(-90)">
<text x="0.00" y="0.00" font-size="8.2" fill="#4d4d4d" text-anchor="end">AS</text>
</g>
<line x1="547.70" y1="665.00" x2="547.70" y2="666.40" stroke="#333" stroke-width="0.5"/>
<g transform="translate(553.70 668.2) rotate(-90)">
<text x="0.00" y="0.00" font-size="8.2" fill="#4d4d4d" text-anchor="end">mRNA</text>
</g>
<line x1="587.45" y1="665.00" x2="587.45" y2="666.40" stroke="#333" stroke-width="0.5"/>
<g transform="translate(593.45 668.2) rotate(-90)">
<text x="0.00" y="0.00" font-size="8.2" fill="#4d4d4d" text-anchor="end">m6A</text>
</g>
<text x="618.60" y="581.27" font-size="8.3" font-weight="bold" stroke="#000" stroke-width="0.18" fill="#000" text-anchor="start">Correlation</text>
<rect x="618.80" y="583.30" width="7.80" height="38.50" fill="url(#cor)" stroke="none" stroke-width="0.5"/>
<text x="629.00" y="586.85" font-size="4.6" fill="#111" text-anchor="start">1.00</text>
<line x1="618.80" y1="585.20" x2="620.30" y2="585.20" stroke="#fff" stroke-width="0.35"/>
<line x1="625.10" y1="585.20" x2="626.60" y2="585.20" stroke="#fff" stroke-width="0.35"/>
<text x="629.00" y="595.65" font-size="4.6" fill="#111" text-anchor="start">0.75</text>
<line x1="618.80" y1="594.00" x2="620.30" y2="594.00" stroke="#fff" stroke-width="0.35"/>
<line x1="625.10" y1="594.00" x2="626.60" y2="594.00" stroke="#fff" stroke-width="0.35"/>
<text x="629.00" y="604.65" font-size="4.6" fill="#111" text-anchor="start">0.50</text>
<line x1="618.80" y1="603.00" x2="620.30" y2="603.00" stroke="#fff" stroke-width="0.35"/>
<line x1="625.10" y1="603.00" x2="626.60" y2="603.00" stroke="#fff" stroke-width="0.35"/>
<text x="629.00" y="613.65" font-size="4.6" fill="#111" text-anchor="start">0.25</text>
<line x1="618.80" y1="612.00" x2="620.30" y2="612.00" stroke="#fff" stroke-width="0.35"/>
<line x1="625.10" y1="612.00" x2="626.60" y2="612.00" stroke="#fff" stroke-width="0.35"/>
<text x="629.00" y="622.65" font-size="4.6" fill="#111" text-anchor="start">0.00</text>
<line x1="618.80" y1="621.00" x2="620.30" y2="621.00" stroke="#fff" stroke-width="0.35"/>
<line x1="625.10" y1="621.00" x2="626.60" y2="621.00" stroke="#fff" stroke-width="0.35"/>
<text x="27.60" y="624.00" font-size="20.3" font-weight="bold" stroke="#000" stroke-width="0.45" fill="#000" text-anchor="start">I</text>
<text x="53.60" y="624.80" font-size="13.9" font-weight="bold" stroke="#000" stroke-width="0.31" fill="#000" text-anchor="start">Random Forest analysis</text>
<line x1="53.80" y1="631.60" x2="53.80" y2="783.10" stroke="#333" stroke-width="0.7"/>
<line x1="53.80" y1="783.10" x2="294.50" y2="783.10" stroke="#333" stroke-width="0.7"/>
<text x="50.60" y="673.28" font-size="8.6" fill="#4d4d4d" text-anchor="end">1</text>
<line x1="52.20" y1="670.20" x2="53.80" y2="670.20" stroke="#333" stroke-width="0.5"/>
<text x="50.60" y="715.48" font-size="8.6" fill="#4d4d4d" text-anchor="end">0</text>
<line x1="52.20" y1="712.40" x2="53.80" y2="712.40" stroke="#333" stroke-width="0.5"/>
<text x="50.60" y="757.68" font-size="8.6" fill="#4d4d4d" text-anchor="end">-1</text>
<line x1="52.20" y1="754.60" x2="53.80" y2="754.60" stroke="#333" stroke-width="0.5"/>
<rect x="55.33" y="712.40" width="5.93" height="63.93" fill="#3fcc1c" stroke="none" stroke-width="0.5"/>
<line x1="58.29" y1="783.10" x2="58.29" y2="784.60" stroke="#333" stroke-width="0.45"/>
<g transform="translate(60.54 786.6) rotate(-90)">
<text x="0.00" y="0.00" font-size="6.5" fill="#3a3a3a" text-anchor="end">TRIM66_m6A</text>
</g>
<rect x="61.92" y="712.40" width="5.93" height="58.36" fill="#3fcc1c" stroke="none" stroke-width="0.5"/>
<line x1="64.88" y1="783.10" x2="64.88" y2="784.60" stroke="#333" stroke-width="0.45"/>
<g transform="translate(67.13 786.6) rotate(-90)">
<text x="0.00" y="0.00" font-size="6.5" fill="#3a3a3a" text-anchor="end">CD5L_m6A</text>
</g>
<rect x="68.50" y="712.40" width="5.93" height="56.13" fill="#3fcc1c" stroke="none" stroke-width="0.5"/>
<line x1="71.47" y1="783.10" x2="71.47" y2="784.60" stroke="#333" stroke-width="0.45"/>
<g transform="translate(73.72 786.6) rotate(-90)">
<text x="0.00" y="0.00" font-size="6.5" fill="#3a3a3a" text-anchor="end">F13A1_mRNA</text>
</g>
<rect x="75.09" y="712.40" width="5.93" height="42.20" fill="#3fcc1c" stroke="none" stroke-width="0.5"/>
<line x1="78.05" y1="783.10" x2="78.05" y2="784.60" stroke="#333" stroke-width="0.45"/>
<g transform="translate(80.30 786.6) rotate(-90)">
<text x="0.00" y="0.00" font-size="6.5" fill="#3a3a3a" text-anchor="end">CCDC166_mRNA</text>
</g>
<rect x="81.68" y="712.40" width="5.93" height="42.20" fill="#3fcc1c" stroke="none" stroke-width="0.5"/>
<line x1="84.64" y1="783.10" x2="84.64" y2="784.60" stroke="#333" stroke-width="0.45"/>
<g transform="translate(86.89 786.6) rotate(-90)">
<text x="0.00" y="0.00" font-size="6.5" fill="#3a3a3a" text-anchor="end">HGSNAT_m6A</text>
</g>
<rect x="88.26" y="712.40" width="5.93" height="42.20" fill="#3fcc1c" stroke="none" stroke-width="0.5"/>
<line x1="91.23" y1="783.10" x2="91.23" y2="784.60" stroke="#333" stroke-width="0.45"/>
<g transform="translate(93.48 786.6) rotate(-90)">
<text x="0.00" y="0.00" font-size="6.5" fill="#3a3a3a" text-anchor="end">ZBTB3_mRNA</text>
</g>
<rect x="94.85" y="712.40" width="5.93" height="42.20" fill="#3fcc1c" stroke="none" stroke-width="0.5"/>
<line x1="97.82" y1="783.10" x2="97.82" y2="784.60" stroke="#333" stroke-width="0.45"/>
<g transform="translate(100.07 786.6) rotate(-90)">
<text x="0.00" y="0.00" font-size="6.5" fill="#3a3a3a" text-anchor="end">DENND4C_mRNA</text>
</g>
<rect x="101.44" y="712.40" width="5.93" height="42.20" fill="#3fcc1c" stroke="none" stroke-width="0.5"/>
<line x1="104.40" y1="783.10" x2="104.40" y2="784.60" stroke="#333" stroke-width="0.45"/>
<g transform="translate(106.65 786.6) rotate(-90)">
<text x="0.00" y="0.00" font-size="6.5" fill="#3a3a3a" text-anchor="end">H2AC6_mRNA</text>
</g>
<rect x="108.03" y="712.40" width="5.93" height="42.20" fill="#3fcc1c" stroke="none" stroke-width="0.5"/>
<line x1="110.99" y1="783.10" x2="110.99" y2="784.60" stroke="#333" stroke-width="0.45"/>
<g transform="translate(113.24 786.6) rotate(-90)">
<text x="0.00" y="0.00" font-size="6.5" fill="#3a3a3a" text-anchor="end">MIR3181_mRNA</text>
</g>
<rect x="114.61" y="712.40" width="5.93" height="42.20" fill="#3fcc1c" stroke="none" stroke-width="0.5"/>
<line x1="117.58" y1="783.10" x2="117.58" y2="784.60" stroke="#333" stroke-width="0.45"/>
<g transform="translate(119.83 786.6) rotate(-90)">
<text x="0.00" y="0.00" font-size="6.5" fill="#3a3a3a" text-anchor="end">PRSS56_mRNA</text>
</g>
<rect x="121.20" y="712.40" width="5.93" height="42.20" fill="#3fcc1c" stroke="none" stroke-width="0.5"/>
<line x1="124.16" y1="783.10" x2="124.16" y2="784.60" stroke="#333" stroke-width="0.45"/>
<g transform="translate(126.41 786.6) rotate(-90)">
<text x="0.00" y="0.00" font-size="6.5" fill="#3a3a3a" text-anchor="end">RPLP2_mRNA</text>
</g>
<rect x="127.79" y="712.40" width="5.93" height="28.49" fill="#3fcc1c" stroke="none" stroke-width="0.5"/>
<line x1="130.75" y1="783.10" x2="130.75" y2="784.60" stroke="#333" stroke-width="0.45"/>
<g transform="translate(133.00 786.6) rotate(-90)">
<text x="0.00" y="0.00" font-size="6.5" fill="#3a3a3a" text-anchor="end">IL7R_mRNA</text>
</g>
<rect x="134.37" y="712.40" width="5.93" height="19.58" fill="#3fcc1c" stroke="none" stroke-width="0.5"/>
<line x1="137.34" y1="783.10" x2="137.34" y2="784.60" stroke="#333" stroke-width="0.45"/>
<g transform="translate(139.59 786.6) rotate(-90)">
<text x="0.00" y="0.00" font-size="6.5" fill="#3a3a3a" text-anchor="end">RBBP7_29_AS</text>
</g>
<rect x="140.96" y="712.40" width="5.93" height="7.43" fill="#3fcc1c" stroke="none" stroke-width="0.5"/>
<line x1="143.92" y1="783.10" x2="143.92" y2="784.60" stroke="#333" stroke-width="0.45"/>
<g transform="translate(146.17 786.6) rotate(-90)">
<text x="0.00" y="0.00" font-size="6.5" fill="#3a3a3a" text-anchor="end">BRCC3_mRNA</text>
</g>
<rect x="147.55" y="712.40" width="5.93" height="2.70" fill="#3fcc1c" stroke="none" stroke-width="0.5"/>
<line x1="150.51" y1="783.10" x2="150.51" y2="784.60" stroke="#333" stroke-width="0.45"/>
<g transform="translate(152.76 786.6) rotate(-90)">
<text x="0.00" y="0.00" font-size="6.5" fill="#3a3a3a" text-anchor="end">KCTD5_mRNA</text>
</g>
<line x1="157.10" y1="783.10" x2="157.10" y2="784.60" stroke="#333" stroke-width="0.45"/>
<g transform="translate(159.35 786.6) rotate(-90)">
<text x="0.00" y="0.00" font-size="6.5" fill="#3a3a3a" text-anchor="end">AOX1_m6A</text>
</g>
<line x1="163.69" y1="783.10" x2="163.69" y2="784.60" stroke="#333" stroke-width="0.45"/>
<g transform="translate(165.94 786.6) rotate(-90)">
<text x="0.00" y="0.00" font-size="6.5" fill="#3a3a3a" text-anchor="end">CA10_m6A</text>
</g>
<line x1="170.27" y1="783.10" x2="170.27" y2="784.60" stroke="#333" stroke-width="0.45"/>
<g transform="translate(172.52 786.6) rotate(-90)">
<text x="0.00" y="0.00" font-size="6.5" fill="#3a3a3a" text-anchor="end">GYS1_mRNA</text>
</g>
<line x1="176.86" y1="783.10" x2="176.86" y2="784.60" stroke="#333" stroke-width="0.45"/>
<g transform="translate(179.11 786.6) rotate(-90)">
<text x="0.00" y="0.00" font-size="6.5" fill="#3a3a3a" text-anchor="end">IFT74_m6A</text>
</g>
<line x1="183.45" y1="783.10" x2="183.45" y2="784.60" stroke="#333" stroke-width="0.45"/>
<g transform="translate(185.70 786.6) rotate(-90)">
<text x="0.00" y="0.00" font-size="6.5" fill="#3a3a3a" text-anchor="end">LOC105375523_m6A</text>
</g>
<line x1="190.03" y1="783.10" x2="190.03" y2="784.60" stroke="#333" stroke-width="0.45"/>
<g transform="translate(192.28 786.6) rotate(-90)">
<text x="0.00" y="0.00" font-size="6.5" fill="#3a3a3a" text-anchor="end">MCF2L2_m6A</text>
</g>
<line x1="196.62" y1="783.10" x2="196.62" y2="784.60" stroke="#333" stroke-width="0.45"/>
<g transform="translate(198.87 786.6) rotate(-90)">
<text x="0.00" y="0.00" font-size="6.5" fill="#3a3a3a" text-anchor="end">NDUFA9P1_mRNA</text>
</g>
<line x1="203.21" y1="783.10" x2="203.21" y2="784.60" stroke="#333" stroke-width="0.45"/>
<g transform="translate(205.46 786.6) rotate(-90)">
<text x="0.00" y="0.00" font-size="6.5" fill="#3a3a3a" text-anchor="end">NXF1_mRNA</text>
</g>
<line x1="209.79" y1="783.10" x2="209.79" y2="784.60" stroke="#333" stroke-width="0.45"/>
<g transform="translate(212.04 786.6) rotate(-90)">
<text x="0.00" y="0.00" font-size="6.5" fill="#3a3a3a" text-anchor="end">PKD1P3_mRNA</text>
</g>
<line x1="216.38" y1="783.10" x2="216.38" y2="784.60" stroke="#333" stroke-width="0.45"/>
<g transform="translate(218.63 786.6) rotate(-90)">
<text x="0.00" y="0.00" font-size="6.5" fill="#3a3a3a" text-anchor="end">STIM2_16_AS</text>
</g>
<line x1="222.97" y1="783.10" x2="222.97" y2="784.60" stroke="#333" stroke-width="0.45"/>
<g transform="translate(225.22 786.6) rotate(-90)">
<text x="0.00" y="0.00" font-size="6.5" fill="#3a3a3a" text-anchor="end">TLN1_mRNA</text>
</g>
<rect x="226.59" y="706.07" width="5.93" height="6.33" fill="#f42814" stroke="none" stroke-width="0.5"/>
<line x1="229.56" y1="783.10" x2="229.56" y2="784.60" stroke="#333" stroke-width="0.45"/>
<g transform="translate(231.81 786.6) rotate(-90)">
<text x="0.00" y="0.00" font-size="6.5" fill="#3a3a3a" text-anchor="end">ROBO3_mRNA</text>
</g>
<rect x="233.18" y="704.38" width="5.93" height="8.02" fill="#f42814" stroke="none" stroke-width="0.5"/>
<line x1="236.14" y1="783.10" x2="236.14" y2="784.60" stroke="#333" stroke-width="0.45"/>
<g transform="translate(238.39 786.6) rotate(-90)">
<text x="0.00" y="0.00" font-size="6.5" fill="#3a3a3a" text-anchor="end">MSTN_mRNA</text>
</g>
<rect x="239.77" y="693.54" width="5.93" height="18.86" fill="#f42814" stroke="none" stroke-width="0.5"/>
<line x1="242.73" y1="783.10" x2="242.73" y2="784.60" stroke="#333" stroke-width="0.45"/>
<g transform="translate(244.98 786.6) rotate(-90)">
<text x="0.00" y="0.00" font-size="6.5" fill="#3a3a3a" text-anchor="end">ZNF639_19_AS</text>
</g>
<rect x="246.35" y="670.71" width="5.93" height="41.69" fill="#f42814" stroke="none" stroke-width="0.5"/>
<line x1="249.32" y1="783.10" x2="249.32" y2="784.60" stroke="#333" stroke-width="0.45"/>
<g transform="translate(251.57 786.6) rotate(-90)">
<text x="0.00" y="0.00" font-size="6.5" fill="#3a3a3a" text-anchor="end">SMC4_69_AS</text>
</g>
<rect x="252.94" y="670.71" width="5.93" height="41.69" fill="#f42814" stroke="none" stroke-width="0.5"/>
<line x1="255.90" y1="783.10" x2="255.90" y2="784.60" stroke="#333" stroke-width="0.45"/>
<g transform="translate(258.15 786.6) rotate(-90)">
<text x="0.00" y="0.00" font-size="6.5" fill="#3a3a3a" text-anchor="end">TBX10_mRNA</text>
</g>
<rect x="259.53" y="670.71" width="5.93" height="41.69" fill="#f42814" stroke="none" stroke-width="0.5"/>
<line x1="262.49" y1="783.10" x2="262.49" y2="784.60" stroke="#333" stroke-width="0.45"/>
<g transform="translate(264.74 786.6) rotate(-90)">
<text x="0.00" y="0.00" font-size="6.5" fill="#3a3a3a" text-anchor="end">ZNF320_m6A</text>
</g>
<rect x="266.11" y="670.71" width="5.93" height="41.69" fill="#f42814" stroke="none" stroke-width="0.5"/>
<line x1="269.08" y1="783.10" x2="269.08" y2="784.60" stroke="#333" stroke-width="0.45"/>
<g transform="translate(271.33 786.6) rotate(-90)">
<text x="0.00" y="0.00" font-size="6.5" fill="#3a3a3a" text-anchor="end">EIF2AK3_mRNA</text>
</g>
<rect x="272.70" y="669.36" width="5.93" height="43.04" fill="#f42814" stroke="none" stroke-width="0.5"/>
<line x1="275.66" y1="783.10" x2="275.66" y2="784.60" stroke="#333" stroke-width="0.45"/>
<g transform="translate(277.91 786.6) rotate(-90)">
<text x="0.00" y="0.00" font-size="6.5" fill="#3a3a3a" text-anchor="end">PCBP4_m6A</text>
</g>
<rect x="279.29" y="645.39" width="5.93" height="67.01" fill="#f42814" stroke="none" stroke-width="0.5"/>
<line x1="282.25" y1="783.10" x2="282.25" y2="784.60" stroke="#333" stroke-width="0.45"/>
<g transform="translate(284.50 786.6) rotate(-90)">
<text x="0.00" y="0.00" font-size="6.5" fill="#3a3a3a" text-anchor="end">TWSG1_5_AS</text>
</g>
<rect x="285.87" y="638.00" width="5.93" height="74.40" fill="#f42814" stroke="none" stroke-width="0.5"/>
<line x1="288.84" y1="783.10" x2="288.84" y2="784.60" stroke="#333" stroke-width="0.45"/>
<g transform="translate(291.09 786.6) rotate(-90)">
<text x="0.00" y="0.00" font-size="6.5" fill="#3a3a3a" text-anchor="end">GAGE2C_mRNA</text>
</g>
<g transform="translate(34.20 707.30) rotate(-90)">
<text x="0.00" y="4.08" font-size="11.4" font-weight="bold" stroke="#000" stroke-width="0.25" fill="#000" text-anchor="middle">VIP: Income</text>
</g>
<text x="173.20" y="864.59" font-size="11.7" font-weight="bold" stroke="#000" stroke-width="0.26" fill="#000" text-anchor="middle">Gene candidates</text>
<text x="303.60" y="699.80" font-size="11.2" font-weight="bold" stroke="#000" stroke-width="0.25" fill="#000" text-anchor="start">Group</text>
<rect x="303.80" y="704.60" width="9.20" height="9.20" fill="#3fcc1c" stroke="none" stroke-width="0.5"/>
<rect x="303.80" y="714.70" width="9.20" height="9.20" fill="#f42814" stroke="none" stroke-width="0.5"/>
<text x="316.80" y="712.51" font-size="7.3" fill="#111" text-anchor="start">Control</text>
<text x="316.80" y="722.61" font-size="7.3" fill="#111" text-anchor="start">Cancer</text>
<text x="356.80" y="729.90" font-size="20.3" font-weight="bold" stroke="#000" stroke-width="0.45" fill="#000" text-anchor="start">J</text>
<rect x="389.20" y="735.10" width="104.30" height="118.80" fill="#ebebeb" stroke="none" stroke-width="0.5"/>
<line x1="393.40" y1="735.10" x2="393.40" y2="853.90" stroke="#fafafa" stroke-width="0.55"/>
<line x1="389.20" y1="849.00" x2="493.50" y2="849.00" stroke="#fafafa" stroke-width="0.55"/>
<line x1="398.15" y1="735.10" x2="398.15" y2="853.90" stroke="#f4f4f4" stroke-width="0.3"/>
<line x1="389.20" y1="843.58" x2="493.50" y2="843.58" stroke="#f4f4f4" stroke-width="0.3"/>
<line x1="402.90" y1="735.10" x2="402.90" y2="853.90" stroke="#fafafa" stroke-width="0.55"/>
<line x1="389.20" y1="838.15" x2="493.50" y2="838.15" stroke="#fafafa" stroke-width="0.55"/>
<line x1="407.65" y1="735.10" x2="407.65" y2="853.90" stroke="#f4f4f4" stroke-width="0.3"/>
<line x1="389.20" y1="832.73" x2="493.50" y2="832.73" stroke="#f4f4f4" stroke-width="0.3"/>
<line x1="412.40" y1="735.10" x2="412.40" y2="853.90" stroke="#fafafa" stroke-width="0.55"/>
<line x1="389.20" y1="827.30" x2="493.50" y2="827.30" stroke="#fafafa" stroke-width="0.55"/>
<line x1="417.15" y1="735.10" x2="417.15" y2="853.90" stroke="#f4f4f4" stroke-width="0.3"/>
<line x1="389.20" y1="821.88" x2="493.50" y2="821.88" stroke="#f4f4f4" stroke-width="0.3"/>
<line x1="421.90" y1="735.10" x2="421.90" y2="853.90" stroke="#fafafa" stroke-width="0.55"/>
<line x1="389.20" y1="816.45" x2="493.50" y2="816.45" stroke="#fafafa" stroke-width="0.55"/>
<line x1="426.65" y1="735.10" x2="426.65" y2="853.90" stroke="#f4f4f4" stroke-width="0.3"/>
<line x1="389.20" y1="811.02" x2="493.50" y2="811.02" stroke="#f4f4f4" stroke-width="0.3"/>
<line x1="431.40" y1="735.10" x2="431.40" y2="853.90" stroke="#fafafa" stroke-width="0.55"/>
<line x1="389.20" y1="805.60" x2="493.50" y2="805.60" stroke="#fafafa" stroke-width="0.55"/>
<line x1="436.15" y1="735.10" x2="436.15" y2="853.90" stroke="#f4f4f4" stroke-width="0.3"/>
<line x1="389.20" y1="800.17" x2="493.50" y2="800.17" stroke="#f4f4f4" stroke-width="0.3"/>
<line x1="440.90" y1="735.10" x2="440.90" y2="853.90" stroke="#fafafa" stroke-width="0.55"/>
<line x1="389.20" y1="794.75" x2="493.50" y2="794.75" stroke="#fafafa" stroke-width="0.55"/>
<line x1="445.65" y1="735.10" x2="445.65" y2="853.90" stroke="#f4f4f4" stroke-width="0.3"/>
<line x1="389.20" y1="789.33" x2="493.50" y2="789.33" stroke="#f4f4f4" stroke-width="0.3"/>
<line x1="450.40" y1="735.10" x2="450.40" y2="853.90" stroke="#fafafa" stroke-width="0.55"/>
<line x1="389.20" y1="783.90" x2="493.50" y2="783.90" stroke="#fafafa" stroke-width="0.55"/>
<line x1="455.15" y1="735.10" x2="455.15" y2="853.90" stroke="#f4f4f4" stroke-width="0.3"/>
<line x1="389.20" y1="778.48" x2="493.50" y2="778.48" stroke="#f4f4f4" stroke-width="0.3"/>
<line x1="459.90" y1="735.10" x2="459.90" y2="853.90" stroke="#fafafa" stroke-width="0.55"/>
<line x1="389.20" y1="773.05" x2="493.50" y2="773.05" stroke="#fafafa" stroke-width="0.55"/>
<line x1="464.65" y1="735.10" x2="464.65" y2="853.90" stroke="#f4f4f4" stroke-width="0.3"/>
<line x1="389.20" y1="767.62" x2="493.50" y2="767.62" stroke="#f4f4f4" stroke-width="0.3"/>
<line x1="469.40" y1="735.10" x2="469.40" y2="853.90" stroke="#fafafa" stroke-width="0.55"/>
<line x1="389.20" y1="762.20" x2="493.50" y2="762.20" stroke="#fafafa" stroke-width="0.55"/>
<line x1="474.15" y1="735.10" x2="474.15" y2="853.90" stroke="#f4f4f4" stroke-width="0.3"/>
<line x1="389.20" y1="756.77" x2="493.50" y2="756.77" stroke="#f4f4f4" stroke-width="0.3"/>
<line x1="478.90" y1="735.10" x2="478.90" y2="853.90" stroke="#fafafa" stroke-width="0.55"/>
<line x1="389.20" y1="751.35" x2="493.50" y2="751.35" stroke="#fafafa" stroke-width="0.55"/>
<line x1="483.65" y1="735.10" x2="483.65" y2="853.90" stroke="#f4f4f4" stroke-width="0.3"/>
<line x1="389.20" y1="745.92" x2="493.50" y2="745.92" stroke="#f4f4f4" stroke-width="0.3"/>
<line x1="488.40" y1="735.10" x2="488.40" y2="853.90" stroke="#fafafa" stroke-width="0.55"/>
<line x1="389.20" y1="740.50" x2="493.50" y2="740.50" stroke="#fafafa" stroke-width="0.55"/>
<line x1="389.20" y1="853.90" x2="493.50" y2="735.10" stroke="#222" stroke-width="0.7"/>
<path d="M393.40,849.00 L393.40,828.66 L399.73,828.66 L399.73,821.88 L406.07,821.88 L406.07,815.09 L418.73,815.09 L418.73,808.31 L425.07,808.31 L425.07,767.62 L431.40,767.62 L431.40,760.84 L444.07,760.84 L444.07,754.06 L450.40,754.06 L450.40,747.28 L469.40,747.28 L469.40,740.50 L488.40,740.50" fill="none" stroke="#f5384c" stroke-width="1.35" stroke-linejoin="miter"/>
<text x="441.00" y="730.86" font-size="6.6" font-weight="bold" stroke="#111" stroke-width="0.15" fill="#111" text-anchor="middle">m6A</text>
<text x="442.90" y="844.75" font-size="11.6" fill="#111" text-anchor="middle">AUC = 0.70</text>
<text x="393.40" y="860.77" font-size="4.1" fill="#333" text-anchor="middle">0</text>
<line x1="393.40" y1="853.90" x2="393.40" y2="854.90" stroke="#444" stroke-width="0.3"/>
<text x="387.40" y="850.47" font-size="4.1" fill="#333" text-anchor="end">0</text>
<line x1="388.20" y1="849.00" x2="389.20" y2="849.00" stroke="#444" stroke-width="0.3"/>
<text x="402.90" y="860.77" font-size="4.1" fill="#333" text-anchor="middle">10</text>
<line x1="402.90" y1="853.90" x2="402.90" y2="854.90" stroke="#444" stroke-width="0.3"/>
<text x="387.40" y="839.62" font-size="4.1" fill="#333" text-anchor="end">10</text>
<line x1="388.20" y1="838.15" x2="389.20" y2="838.15" stroke="#444" stroke-width="0.3"/>
<text x="412.40" y="860.77" font-size="4.1" fill="#333" text-anchor="middle">20</text>
<line x1="412.40" y1="853.90" x2="412.40" y2="854.90" stroke="#444" stroke-width="0.3"/>
<text x="387.40" y="828.77" font-size="4.1" fill="#333" text-anchor="end">20</text>
<line x1="388.20" y1="827.30" x2="389.20" y2="827.30" stroke="#444" stroke-width="0.3"/>
<text x="421.90" y="860.77" font-size="4.1" fill="#333" text-anchor="middle">30</text>
<line x1="421.90" y1="853.90" x2="421.90" y2="854.90" stroke="#444" stroke-width="0.3"/>
<text x="387.40" y="817.92" font-size="4.1" fill="#333" text-anchor="end">30</text>
<line x1="388.20" y1="816.45" x2="389.20" y2="816.45" stroke="#444" stroke-width="0.3"/>
<text x="431.40" y="860.77" font-size="4.1" fill="#333" text-anchor="middle">40</text>
<line x1="431.40" y1="853.90" x2="431.40" y2="854.90" stroke="#444" stroke-width="0.3"/>
<text x="387.40" y="807.07" font-size="4.1" fill="#333" text-anchor="end">40</text>
<line x1="388.20" y1="805.60" x2="389.20" y2="805.60" stroke="#444" stroke-width="0.3"/>
<text x="440.90" y="860.77" font-size="4.1" fill="#333" text-anchor="middle">50</text>
<line x1="440.90" y1="853.90" x2="440.90" y2="854.90" stroke="#444" stroke-width="0.3"/>
<text x="387.40" y="796.22" font-size="4.1" fill="#333" text-anchor="end">50</text>
<line x1="388.20" y1="794.75" x2="389.20" y2="794.75" stroke="#444" stroke-width="0.3"/>
<text x="450.40" y="860.77" font-size="4.1" fill="#333" text-anchor="middle">60</text>
<line x1="450.40" y1="853.90" x2="450.40" y2="854.90" stroke="#444" stroke-width="0.3"/>
<text x="387.40" y="785.37" font-size="4.1" fill="#333" text-anchor="end">60</text>
<line x1="388.20" y1="783.90" x2="389.20" y2="783.90" stroke="#444" stroke-width="0.3"/>
<text x="459.90" y="860.77" font-size="4.1" fill="#333" text-anchor="middle">70</text>
<line x1="459.90" y1="853.90" x2="459.90" y2="854.90" stroke="#444" stroke-width="0.3"/>
<text x="387.40" y="774.52" font-size="4.1" fill="#333" text-anchor="end">70</text>
<line x1="388.20" y1="773.05" x2="389.20" y2="773.05" stroke="#444" stroke-width="0.3"/>
<text x="469.40" y="860.77" font-size="4.1" fill="#333" text-anchor="middle">80</text>
<line x1="469.40" y1="853.90" x2="469.40" y2="854.90" stroke="#444" stroke-width="0.3"/>
<text x="387.40" y="763.67" font-size="4.1" fill="#333" text-anchor="end">80</text>
<line x1="388.20" y1="762.20" x2="389.20" y2="762.20" stroke="#444" stroke-width="0.3"/>
<text x="478.90" y="860.77" font-size="4.1" fill="#333" text-anchor="middle">90</text>
<line x1="478.90" y1="853.90" x2="478.90" y2="854.90" stroke="#444" stroke-width="0.3"/>
<text x="387.40" y="752.82" font-size="4.1" fill="#333" text-anchor="end">90</text>
<line x1="388.20" y1="751.35" x2="389.20" y2="751.35" stroke="#444" stroke-width="0.3"/>
<text x="488.40" y="860.77" font-size="4.1" fill="#333" text-anchor="middle">100</text>
<line x1="488.40" y1="853.90" x2="488.40" y2="854.90" stroke="#444" stroke-width="0.3"/>
<text x="387.40" y="741.97" font-size="4.1" fill="#333" text-anchor="end">100</text>
<line x1="388.20" y1="740.50" x2="389.20" y2="740.50" stroke="#444" stroke-width="0.3"/>
<text x="441.35" y="867.42" font-size="5.65" fill="#111" text-anchor="middle">100 - Specificity (%)</text>
<rect x="495.80" y="735.10" width="96.90" height="118.80" fill="#ebebeb" stroke="none" stroke-width="0.5"/>
<line x1="499.50" y1="735.10" x2="499.50" y2="853.90" stroke="#fafafa" stroke-width="0.55"/>
<line x1="495.80" y1="849.00" x2="592.70" y2="849.00" stroke="#fafafa" stroke-width="0.55"/>
<line x1="503.93" y1="735.10" x2="503.93" y2="853.90" stroke="#f4f4f4" stroke-width="0.3"/>
<line x1="495.80" y1="843.58" x2="592.70" y2="843.58" stroke="#f4f4f4" stroke-width="0.3"/>
<line x1="508.35" y1="735.10" x2="508.35" y2="853.90" stroke="#fafafa" stroke-width="0.55"/>
<line x1="495.80" y1="838.15" x2="592.70" y2="838.15" stroke="#fafafa" stroke-width="0.55"/>
<line x1="512.77" y1="735.10" x2="512.77" y2="853.90" stroke="#f4f4f4" stroke-width="0.3"/>
<line x1="495.80" y1="832.73" x2="592.70" y2="832.73" stroke="#f4f4f4" stroke-width="0.3"/>
<line x1="517.20" y1="735.10" x2="517.20" y2="853.90" stroke="#fafafa" stroke-width="0.55"/>
<line x1="495.80" y1="827.30" x2="592.70" y2="827.30" stroke="#fafafa" stroke-width="0.55"/>
<line x1="521.62" y1="735.10" x2="521.62" y2="853.90" stroke="#f4f4f4" stroke-width="0.3"/>
<line x1="495.80" y1="821.88" x2="592.70" y2="821.88" stroke="#f4f4f4" stroke-width="0.3"/>
<line x1="526.05" y1="735.10" x2="526.05" y2="853.90" stroke="#fafafa" stroke-width="0.55"/>
<line x1="495.80" y1="816.45" x2="592.70" y2="816.45" stroke="#fafafa" stroke-width="0.55"/>
<line x1="530.48" y1="735.10" x2="530.48" y2="853.90" stroke="#f4f4f4" stroke-width="0.3"/>
<line x1="495.80" y1="811.02" x2="592.70" y2="811.02" stroke="#f4f4f4" stroke-width="0.3"/>
<line x1="534.90" y1="735.10" x2="534.90" y2="853.90" stroke="#fafafa" stroke-width="0.55"/>
<line x1="495.80" y1="805.60" x2="592.70" y2="805.60" stroke="#fafafa" stroke-width="0.55"/>
<line x1="539.33" y1="735.10" x2="539.33" y2="853.90" stroke="#f4f4f4" stroke-width="0.3"/>
<line x1="495.80" y1="800.17" x2="592.70" y2="800.17" stroke="#f4f4f4" stroke-width="0.3"/>
<line x1="543.75" y1="735.10" x2="543.75" y2="853.90" stroke="#fafafa" stroke-width="0.55"/>
<line x1="495.80" y1="794.75" x2="592.70" y2="794.75" stroke="#fafafa" stroke-width="0.55"/>
<line x1="548.17" y1="735.10" x2="548.17" y2="853.90" stroke="#f4f4f4" stroke-width="0.3"/>
<line x1="495.80" y1="789.33" x2="592.70" y2="789.33" stroke="#f4f4f4" stroke-width="0.3"/>
<line x1="552.60" y1="735.10" x2="552.60" y2="853.90" stroke="#fafafa" stroke-width="0.55"/>
<line x1="495.80" y1="783.90" x2="592.70" y2="783.90" stroke="#fafafa" stroke-width="0.55"/>
<line x1="557.02" y1="735.10" x2="557.02" y2="853.90" stroke="#f4f4f4" stroke-width="0.3"/>
<line x1="495.80" y1="778.48" x2="592.70" y2="778.48" stroke="#f4f4f4" stroke-width="0.3"/>
<line x1="561.45" y1="735.10" x2="561.45" y2="853.90" stroke="#fafafa" stroke-width="0.55"/>
<line x1="495.80" y1="773.05" x2="592.70" y2="773.05" stroke="#fafafa" stroke-width="0.55"/>
<line x1="565.88" y1="735.10" x2="565.88" y2="853.90" stroke="#f4f4f4" stroke-width="0.3"/>
<line x1="495.80" y1="767.62" x2="592.70" y2="767.62" stroke="#f4f4f4" stroke-width="0.3"/>
<line x1="570.30" y1="735.10" x2="570.30" y2="853.90" stroke="#fafafa" stroke-width="0.55"/>
<line x1="495.80" y1="762.20" x2="592.70" y2="762.20" stroke="#fafafa" stroke-width="0.55"/>
<line x1="574.73" y1="735.10" x2="574.73" y2="853.90" stroke="#f4f4f4" stroke-width="0.3"/>
<line x1="495.80" y1="756.77" x2="592.70" y2="756.77" stroke="#f4f4f4" stroke-width="0.3"/>
<line x1="579.15" y1="735.10" x2="579.15" y2="853.90" stroke="#fafafa" stroke-width="0.55"/>
<line x1="495.80" y1="751.35" x2="592.70" y2="751.35" stroke="#fafafa" stroke-width="0.55"/>
<line x1="583.58" y1="735.10" x2="583.58" y2="853.90" stroke="#f4f4f4" stroke-width="0.3"/>
<line x1="495.80" y1="745.92" x2="592.70" y2="745.92" stroke="#f4f4f4" stroke-width="0.3"/>
<line x1="588.00" y1="735.10" x2="588.00" y2="853.90" stroke="#fafafa" stroke-width="0.55"/>
<line x1="495.80" y1="740.50" x2="592.70" y2="740.50" stroke="#fafafa" stroke-width="0.55"/>
<line x1="495.80" y1="853.90" x2="592.70" y2="735.10" stroke="#222" stroke-width="0.7"/>
<path d="M499.50,849.00 L499.50,835.44 L505.40,835.44 L505.40,781.19 L523.10,781.19 L523.10,760.84 L552.60,760.84 L552.60,754.06 L558.50,754.06 L558.50,747.28 L576.20,747.28 L576.20,740.50 L588.00,740.50" fill="none" stroke="#f5384c" stroke-width="1.35" stroke-linejoin="miter"/>
<text x="543.90" y="730.86" font-size="6.6" font-weight="bold" stroke="#111" stroke-width="0.15" fill="#111" text-anchor="middle">mRNA</text>
<text x="546.40" y="844.75" font-size="11.6" fill="#111" text-anchor="middle">AUC = 0.78</text>
<text x="499.50" y="860.77" font-size="4.1" fill="#333" text-anchor="middle">0</text>
<line x1="499.50" y1="853.90" x2="499.50" y2="854.90" stroke="#444" stroke-width="0.3"/>
<text x="508.35" y="860.77" font-size="4.1" fill="#333" text-anchor="middle">10</text>
<line x1="508.35" y1="853.90" x2="508.35" y2="854.90" stroke="#444" stroke-width="0.3"/>
<text x="517.20" y="860.77" font-size="4.1" fill="#333" text-anchor="middle">20</text>
<line x1="517.20" y1="853.90" x2="517.20" y2="854.90" stroke="#444" stroke-width="0.3"/>
<text x="526.05" y="860.77" font-size="4.1" fill="#333" text-anchor="middle">30</text>
<line x1="526.05" y1="853.90" x2="526.05" y2="854.90" stroke="#444" stroke-width="0.3"/>
<text x="534.90" y="860.77" font-size="4.1" fill="#333" text-anchor="middle">40</text>
<line x1="534.90" y1="853.90" x2="534.90" y2="854.90" stroke="#444" stroke-width="0.3"/>
<text x="543.75" y="860.77" font-size="4.1" fill="#333" text-anchor="middle">50</text>
<line x1="543.75" y1="853.90" x2="543.75" y2="854.90" stroke="#444" stroke-width="0.3"/>
<text x="552.60" y="860.77" font-size="4.1" fill="#333" text-anchor="middle">60</text>
<line x1="552.60" y1="853.90" x2="552.60" y2="854.90" stroke="#444" stroke-width="0.3"/>
<text x="561.45" y="860.77" font-size="4.1" fill="#333" text-anchor="middle">70</text>
<line x1="561.45" y1="853.90" x2="561.45" y2="854.90" stroke="#444" stroke-width="0.3"/>
<text x="570.30" y="860.77" font-size="4.1" fill="#333" text-anchor="middle">80</text>
<line x1="570.30" y1="853.90" x2="570.30" y2="854.90" stroke="#444" stroke-width="0.3"/>
<text x="579.15" y="860.77" font-size="4.1" fill="#333" text-anchor="middle">90</text>
<line x1="579.15" y1="853.90" x2="579.15" y2="854.90" stroke="#444" stroke-width="0.3"/>
<text x="588.00" y="860.77" font-size="4.1" fill="#333" text-anchor="middle">100</text>
<line x1="588.00" y1="853.90" x2="588.00" y2="854.90" stroke="#444" stroke-width="0.3"/>
<text x="544.25" y="867.42" font-size="5.65" fill="#111" text-anchor="middle">100 - Specificity (%)</text>
<rect x="596.40" y="735.10" width="96.00" height="118.80" fill="#ebebeb" stroke="none" stroke-width="0.5"/>
<line x1="599.60" y1="735.10" x2="599.60" y2="853.90" stroke="#fafafa" stroke-width="0.55"/>
<line x1="596.40" y1="849.00" x2="692.40" y2="849.00" stroke="#fafafa" stroke-width="0.55"/>
<line x1="604.02" y1="735.10" x2="604.02" y2="853.90" stroke="#f4f4f4" stroke-width="0.3"/>
<line x1="596.40" y1="843.58" x2="692.40" y2="843.58" stroke="#f4f4f4" stroke-width="0.3"/>
<line x1="608.45" y1="735.10" x2="608.45" y2="853.90" stroke="#fafafa" stroke-width="0.55"/>
<line x1="596.40" y1="838.15" x2="692.40" y2="838.15" stroke="#fafafa" stroke-width="0.55"/>
<line x1="612.88" y1="735.10" x2="612.88" y2="853.90" stroke="#f4f4f4" stroke-width="0.3"/>
<line x1="596.40" y1="832.73" x2="692.40" y2="832.73" stroke="#f4f4f4" stroke-width="0.3"/>
<line x1="617.30" y1="735.10" x2="617.30" y2="853.90" stroke="#fafafa" stroke-width="0.55"/>
<line x1="596.40" y1="827.30" x2="692.40" y2="827.30" stroke="#fafafa" stroke-width="0.55"/>
<line x1="621.73" y1="735.10" x2="621.73" y2="853.90" stroke="#f4f4f4" stroke-width="0.3"/>
<line x1="596.40" y1="821.88" x2="692.40" y2="821.88" stroke="#f4f4f4" stroke-width="0.3"/>
<line x1="626.15" y1="735.10" x2="626.15" y2="853.90" stroke="#fafafa" stroke-width="0.55"/>
<line x1="596.40" y1="816.45" x2="692.40" y2="816.45" stroke="#fafafa" stroke-width="0.55"/>
<line x1="630.58" y1="735.10" x2="630.58" y2="853.90" stroke="#f4f4f4" stroke-width="0.3"/>
<line x1="596.40" y1="811.02" x2="692.40" y2="811.02" stroke="#f4f4f4" stroke-width="0.3"/>
<line x1="635.00" y1="735.10" x2="635.00" y2="853.90" stroke="#fafafa" stroke-width="0.55"/>
<line x1="596.40" y1="805.60" x2="692.40" y2="805.60" stroke="#fafafa" stroke-width="0.55"/>
<line x1="639.43" y1="735.10" x2="639.43" y2="853.90" stroke="#f4f4f4" stroke-width="0.3"/>
<line x1="596.40" y1="800.17" x2="692.40" y2="800.17" stroke="#f4f4f4" stroke-width="0.3"/>
<line x1="643.85" y1="735.10" x2="643.85" y2="853.90" stroke="#fafafa" stroke-width="0.55"/>
<line x1="596.40" y1="794.75" x2="692.40" y2="794.75" stroke="#fafafa" stroke-width="0.55"/>
<line x1="648.27" y1="735.10" x2="648.27" y2="853.90" stroke="#f4f4f4" stroke-width="0.3"/>
<line x1="596.40" y1="789.33" x2="692.40" y2="789.33" stroke="#f4f4f4" stroke-width="0.3"/>
<line x1="652.70" y1="735.10" x2="652.70" y2="853.90" stroke="#fafafa" stroke-width="0.55"/>
<line x1="596.40" y1="783.90" x2="692.40" y2="783.90" stroke="#fafafa" stroke-width="0.55"/>
<line x1="657.12" y1="735.10" x2="657.12" y2="853.90" stroke="#f4f4f4" stroke-width="0.3"/>
<line x1="596.40" y1="778.48" x2="692.40" y2="778.48" stroke="#f4f4f4" stroke-width="0.3"/>
<line x1="661.55" y1="735.10" x2="661.55" y2="853.90" stroke="#fafafa" stroke-width="0.55"/>
<line x1="596.40" y1="773.05" x2="692.40" y2="773.05" stroke="#fafafa" stroke-width="0.55"/>
<line x1="665.98" y1="735.10" x2="665.98" y2="853.90" stroke="#f4f4f4" stroke-width="0.3"/>
<line x1="596.40" y1="767.62" x2="692.40" y2="767.62" stroke="#f4f4f4" stroke-width="0.3"/>
<line x1="670.40" y1="735.10" x2="670.40" y2="853.90" stroke="#fafafa" stroke-width="0.55"/>
<line x1="596.40" y1="762.20" x2="692.40" y2="762.20" stroke="#fafafa" stroke-width="0.55"/>
<line x1="674.83" y1="735.10" x2="674.83" y2="853.90" stroke="#f4f4f4" stroke-width="0.3"/>
<line x1="596.40" y1="756.77" x2="692.40" y2="756.77" stroke="#f4f4f4" stroke-width="0.3"/>
<line x1="679.25" y1="735.10" x2="679.25" y2="853.90" stroke="#fafafa" stroke-width="0.55"/>
<line x1="596.40" y1="751.35" x2="692.40" y2="751.35" stroke="#fafafa" stroke-width="0.55"/>
<line x1="683.68" y1="735.10" x2="683.68" y2="853.90" stroke="#f4f4f4" stroke-width="0.3"/>
<line x1="596.40" y1="745.92" x2="692.40" y2="745.92" stroke="#f4f4f4" stroke-width="0.3"/>
<line x1="688.10" y1="735.10" x2="688.10" y2="853.90" stroke="#fafafa" stroke-width="0.55"/>
<line x1="596.40" y1="740.50" x2="692.40" y2="740.50" stroke="#fafafa" stroke-width="0.55"/>
<line x1="596.40" y1="853.90" x2="692.40" y2="735.10" stroke="#222" stroke-width="0.7"/>
<path d="M599.60,849.00 L599.60,781.19 L605.50,781.19 L605.50,774.41 L617.30,774.41 L617.30,754.06 L623.20,754.06 L623.20,747.28 L629.10,747.28 L629.10,740.50 L688.10,740.50" fill="none" stroke="#f5384c" stroke-width="1.35" stroke-linejoin="miter"/>
<text x="643.40" y="730.86" font-size="6.6" font-weight="bold" stroke="#111" stroke-width="0.15" fill="#111" text-anchor="middle">AS</text>
<text x="645.90" y="844.75" font-size="11.6" fill="#111" text-anchor="middle">AUC = 0.92</text>
<text x="599.60" y="860.77" font-size="4.1" fill="#333" text-anchor="middle">0</text>
<line x1="599.60" y1="853.90" x2="599.60" y2="854.90" stroke="#444" stroke-width="0.3"/>
<text x="608.45" y="860.77" font-size="4.1" fill="#333" text-anchor="middle">10</text>
<line x1="608.45" y1="853.90" x2="608.45" y2="854.90" stroke="#444" stroke-width="0.3"/>
<text x="617.30" y="860.77" font-size="4.1" fill="#333" text-anchor="middle">20</text>
<line x1="617.30" y1="853.90" x2="617.30" y2="854.90" stroke="#444" stroke-width="0.3"/>
<text x="626.15" y="860.77" font-size="4.1" fill="#333" text-anchor="middle">30</text>
<line x1="626.15" y1="853.90" x2="626.15" y2="854.90" stroke="#444" stroke-width="0.3"/>
<text x="635.00" y="860.77" font-size="4.1" fill="#333" text-anchor="middle">40</text>
<line x1="635.00" y1="853.90" x2="635.00" y2="854.90" stroke="#444" stroke-width="0.3"/>
<text x="643.85" y="860.77" font-size="4.1" fill="#333" text-anchor="middle">50</text>
<line x1="643.85" y1="853.90" x2="643.85" y2="854.90" stroke="#444" stroke-width="0.3"/>
<text x="652.70" y="860.77" font-size="4.1" fill="#333" text-anchor="middle">60</text>
<line x1="652.70" y1="853.90" x2="652.70" y2="854.90" stroke="#444" stroke-width="0.3"/>
<text x="661.55" y="860.77" font-size="4.1" fill="#333" text-anchor="middle">70</text>
<line x1="661.55" y1="853.90" x2="661.55" y2="854.90" stroke="#444" stroke-width="0.3"/>
<text x="670.40" y="860.77" font-size="4.1" fill="#333" text-anchor="middle">80</text>
<line x1="670.40" y1="853.90" x2="670.40" y2="854.90" stroke="#444" stroke-width="0.3"/>
<text x="679.25" y="860.77" font-size="4.1" fill="#333" text-anchor="middle">90</text>
<line x1="679.25" y1="853.90" x2="679.25" y2="854.90" stroke="#444" stroke-width="0.3"/>
<text x="688.10" y="860.77" font-size="4.1" fill="#333" text-anchor="middle">100</text>
<line x1="688.10" y1="853.90" x2="688.10" y2="854.90" stroke="#444" stroke-width="0.3"/>
<text x="644.40" y="867.42" font-size="5.65" fill="#111" text-anchor="middle">100 - Specificity (%)</text>
<g transform="translate(374.60 794.60) rotate(-90)">
<text x="0.00" y="2.02" font-size="5.65" fill="#111" text-anchor="middle">Sensitivity (%)</text>
</g>
</g>
</svg>
</body></html>
